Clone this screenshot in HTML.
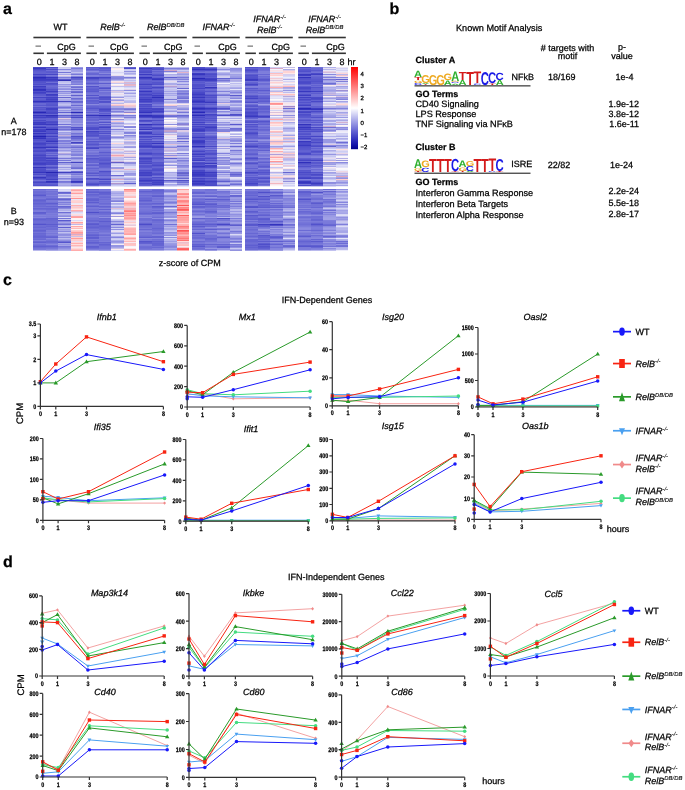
<!DOCTYPE html>
<html><head><meta charset="utf-8"><style>
html,body{margin:0;padding:0;background:#fff;}
body{width:685px;height:790px;overflow:hidden;}
svg{display:block;position:absolute;left:0;top:0;will-change:transform;}
#hm div{position:absolute;}
text{font-family:"Liberation Sans", sans-serif;text-rendering:geometricPrecision;stroke:#000;stroke-width:0.25px;}
</style></head><body>
<svg width="685" height="790" viewBox="0 0 685 790">
<text x="3.0" y="14.0" font-size="16" font-weight="bold">a</text>
<text x="389.5" y="14.0" font-size="16" font-weight="bold">b</text>
<text x="3.0" y="284.5" font-size="16" font-weight="bold">c</text>
<text x="3.0" y="566.8" font-size="16" font-weight="bold">d</text>
<defs><linearGradient id="cb" x1="0" y1="0" x2="0" y2="1"><stop offset="0.000" stop-color="#ff0000"/><stop offset="0.050" stop-color="#ff1a1a"/><stop offset="0.100" stop-color="#ff3333"/><stop offset="0.150" stop-color="#ff4d4d"/><stop offset="0.200" stop-color="#ff6666"/><stop offset="0.250" stop-color="#ff8080"/><stop offset="0.300" stop-color="#ff9999"/><stop offset="0.350" stop-color="#ffb3b3"/><stop offset="0.400" stop-color="#ffcccc"/><stop offset="0.450" stop-color="#ffe6e6"/><stop offset="0.500" stop-color="#ffffff"/><stop offset="0.550" stop-color="#e2e2f8"/><stop offset="0.600" stop-color="#c5c5f1"/><stop offset="0.650" stop-color="#a9a9e9"/><stop offset="0.700" stop-color="#8e8ee1"/><stop offset="0.750" stop-color="#7373d8"/><stop offset="0.800" stop-color="#5959ce"/><stop offset="0.850" stop-color="#4040c4"/><stop offset="0.900" stop-color="#2828b8"/><stop offset="0.950" stop-color="#1212a9"/><stop offset="1.000" stop-color="#00008c"/></linearGradient></defs>
<rect x="351" y="67" width="7" height="82.2" fill="url(#cb)"/>
<text x="360.5" y="75.9" font-size="6">4</text>
<text x="360.5" y="88.1" font-size="6">3</text>
<text x="360.5" y="100.3" font-size="6">2</text>
<text x="360.5" y="112.6" font-size="6">1</text>
<text x="360.5" y="124.8" font-size="6">0</text>
<text x="360.5" y="137.0" font-size="6">−1</text>
<text x="360.5" y="149.2" font-size="6">−2</text>
<text x="60.4" y="29.8" font-size="9" text-anchor="middle">WT</text>
<rect x="33.4" y="36.7" width="47.4" height="1.6" fill="#333"/>
<rect x="33.4" y="52.5" width="10.5" height="1.6" fill="#333"/>
<rect x="46.9" y="52.5" width="34" height="1.6" fill="#333"/>
<rect x="35.5" y="45.6" width="5.5" height="1" fill="#555"/>
<text x="66.4" y="49.5" font-size="9" text-anchor="middle">CpG</text>
<text x="39.3" y="65.3" font-size="9" text-anchor="middle">0</text>
<text x="51.9" y="65.3" font-size="9" text-anchor="middle">1</text>
<text x="64.4" y="65.3" font-size="9" text-anchor="middle">3</text>
<text x="77.0" y="65.3" font-size="9" text-anchor="middle">8</text>
<text x="112.7" y="29.8" font-size="9" font-style="italic" text-anchor="middle">RelB<tspan font-size="5.9" dy="-3.3" style="stroke-width:0.1px">-/-</tspan></text>
<rect x="86.4" y="36.7" width="47.4" height="1.6" fill="#333"/>
<rect x="86.4" y="52.5" width="10.5" height="1.6" fill="#333"/>
<rect x="99.9" y="52.5" width="34" height="1.6" fill="#333"/>
<rect x="88.5" y="45.6" width="5.5" height="1" fill="#555"/>
<text x="119.2" y="49.5" font-size="9" text-anchor="middle">CpG</text>
<text x="92.3" y="65.3" font-size="9" text-anchor="middle">0</text>
<text x="104.9" y="65.3" font-size="9" text-anchor="middle">1</text>
<text x="117.4" y="65.3" font-size="9" text-anchor="middle">3</text>
<text x="130.0" y="65.3" font-size="9" text-anchor="middle">8</text>
<text x="165.7" y="29.8" font-size="9" font-style="italic" text-anchor="middle">RelB<tspan font-size="5.9" dy="-3.3" style="stroke-width:0.1px">DB/DB</tspan></text>
<rect x="139.4" y="36.7" width="47.4" height="1.6" fill="#333"/>
<rect x="139.4" y="52.5" width="10.5" height="1.6" fill="#333"/>
<rect x="152.9" y="52.5" width="34" height="1.6" fill="#333"/>
<rect x="141.5" y="45.6" width="5.5" height="1" fill="#555"/>
<text x="173.2" y="49.5" font-size="9" text-anchor="middle">CpG</text>
<text x="145.3" y="65.3" font-size="9" text-anchor="middle">0</text>
<text x="157.9" y="65.3" font-size="9" text-anchor="middle">1</text>
<text x="170.4" y="65.3" font-size="9" text-anchor="middle">3</text>
<text x="183.0" y="65.3" font-size="9" text-anchor="middle">8</text>
<text x="218.7" y="29.8" font-size="9" font-style="italic" text-anchor="middle">IFNAR<tspan font-size="5.9" dy="-3.3" style="stroke-width:0.1px">-/-</tspan></text>
<rect x="192.4" y="36.7" width="47.4" height="1.6" fill="#333"/>
<rect x="192.4" y="52.5" width="10.5" height="1.6" fill="#333"/>
<rect x="205.9" y="52.5" width="34" height="1.6" fill="#333"/>
<rect x="194.5" y="45.6" width="5.5" height="1" fill="#555"/>
<text x="227.4" y="49.5" font-size="9" text-anchor="middle">CpG</text>
<text x="198.3" y="65.3" font-size="9" text-anchor="middle">0</text>
<text x="210.9" y="65.3" font-size="9" text-anchor="middle">1</text>
<text x="223.4" y="65.3" font-size="9" text-anchor="middle">3</text>
<text x="236.0" y="65.3" font-size="9" text-anchor="middle">8</text>
<text x="269.6" y="21.9" font-size="9" font-style="italic" text-anchor="middle">IFNAR<tspan font-size="5.9" dy="-3.3" style="stroke-width:0.1px">-/-</tspan></text>
<text x="269.6" y="32.5" font-size="9" font-style="italic" text-anchor="middle">RelB<tspan font-size="5.9" dy="-3.3" style="stroke-width:0.1px">-/-</tspan></text>
<rect x="245.4" y="36.7" width="47.4" height="1.6" fill="#333"/>
<rect x="245.4" y="52.5" width="10.5" height="1.6" fill="#333"/>
<rect x="258.9" y="52.5" width="34" height="1.6" fill="#333"/>
<rect x="247.5" y="45.6" width="5.5" height="1" fill="#555"/>
<text x="280.8" y="49.5" font-size="9" text-anchor="middle">CpG</text>
<text x="251.3" y="65.3" font-size="9" text-anchor="middle">0</text>
<text x="263.9" y="65.3" font-size="9" text-anchor="middle">1</text>
<text x="276.4" y="65.3" font-size="9" text-anchor="middle">3</text>
<text x="289.0" y="65.3" font-size="9" text-anchor="middle">8</text>
<text x="324.6" y="21.9" font-size="9" font-style="italic" text-anchor="middle">IFNAR<tspan font-size="5.9" dy="-3.3" style="stroke-width:0.1px">-/-</tspan></text>
<text x="324.6" y="32.5" font-size="9" font-style="italic" text-anchor="middle">RelB<tspan font-size="5.9" dy="-3.3" style="stroke-width:0.1px">DB/DB</tspan></text>
<rect x="298.4" y="36.7" width="47.4" height="1.6" fill="#333"/>
<rect x="298.4" y="52.5" width="10.5" height="1.6" fill="#333"/>
<rect x="311.9" y="52.5" width="34" height="1.6" fill="#333"/>
<rect x="300.5" y="45.6" width="5.5" height="1" fill="#555"/>
<text x="335.4" y="49.5" font-size="9" text-anchor="middle">CpG</text>
<text x="304.3" y="65.3" font-size="9" text-anchor="middle">0</text>
<text x="316.9" y="65.3" font-size="9" text-anchor="middle">1</text>
<text x="329.4" y="65.3" font-size="9" text-anchor="middle">3</text>
<text x="342.0" y="65.3" font-size="9" text-anchor="middle">8</text>
<text x="347.5" y="65.3" font-size="9">hr</text>
<text x="13.8" y="124.3" font-size="9" text-anchor="middle">A</text>
<text x="13.8" y="134.8" font-size="9" text-anchor="middle">n=178</text>
<text x="13.8" y="213.6" font-size="9" text-anchor="middle">B</text>
<text x="13.8" y="224.6" font-size="9" text-anchor="middle">n=93</text>
<text x="158.8" y="265.8" font-size="9">z-score of CPM</text>
<text x="456.0" y="30.8" font-size="9.15">Known Motif Analysis</text>
<text x="567.5" y="50.5" font-size="9" text-anchor="middle"># targets with</text>
<text x="567.5" y="59.0" font-size="9" text-anchor="middle">motif</text>
<text x="622.0" y="50.0" font-size="9" text-anchor="middle">p-</text>
<text x="622.0" y="58.5" font-size="9" text-anchor="middle">value</text>
<text x="415.5" y="63.0" font-size="9" font-weight="bold">Cluster A</text>
<text x="511.5" y="79.5" font-size="9">NFkB</text>
<text x="548.0" y="79.5" font-size="9">18/169</text>
<text x="615.5" y="79.5" font-size="9">1e-4</text>
<rect x="414.5" y="85.2" width="116" height="1.3" fill="#444"/>
<text x="415.5" y="96.6" font-size="9" font-weight="bold">GO Terms</text>
<text x="415.5" y="106.6" font-size="9.15">CD40 Signaling</text>
<text x="415.5" y="117.0" font-size="9.15">LPS Response</text>
<text x="415.5" y="127.3" font-size="9.15">TNF Signaling via NFκB</text>
<text x="639.0" y="106.6" font-size="9" text-anchor="end">1.9e-12</text>
<text x="639.0" y="116.8" font-size="9" text-anchor="end">3.8e-12</text>
<text x="639.0" y="127.0" font-size="9" text-anchor="end">1.6e-11</text>
<text x="415.5" y="150.3" font-size="9" font-weight="bold">Cluster B</text>
<text x="511.3" y="166.8" font-size="9">ISRE</text>
<text x="547.8" y="168.3" font-size="9">22/82</text>
<text x="610.0" y="168.3" font-size="9">1e-24</text>
<rect x="414.5" y="172.6" width="116" height="1.3" fill="#444"/>
<text x="415.5" y="185.0" font-size="9" font-weight="bold">GO Terms</text>
<text x="415.5" y="195.6" font-size="9.15">Interferon Gamma Response</text>
<text x="415.5" y="206.5" font-size="9.15">Interferon Beta Targets</text>
<text x="415.5" y="217.5" font-size="9.15">Interferon Alpha Response</text>
<text x="639.0" y="194.1" font-size="9" text-anchor="end">2.2e-24</text>
<text x="639.0" y="205.8" font-size="9" text-anchor="end">5.5e-18</text>
<text x="639.0" y="216.8" font-size="9" text-anchor="end">2.8e-17</text>
<text transform="translate(413.93,84.67) scale(1.136,0.283)" font-size="10.0" font-weight="bold" fill="#1a1ae6" style="stroke:none">C</text>
<text transform="translate(413.95,82.67) scale(1.100,0.339)" font-size="10.0" font-weight="bold" fill="#eeaa22" style="stroke:none">G</text>
<text transform="translate(414.26,80.30) scale(1.261,0.422)" font-size="10.0" font-weight="bold" fill="#d41a1a" style="stroke:none">T</text>
<text transform="translate(414.12,77.40) scale(1.107,0.916)" font-size="10.0" font-weight="bold" fill="#30b030" style="stroke:none">A</text>
<text transform="translate(421.68,84.70) scale(1.261,0.116)" font-size="10.0" font-weight="bold" fill="#d41a1a" style="stroke:none">T</text>
<text transform="translate(421.54,83.90) scale(1.107,0.131)" font-size="10.0" font-weight="bold" fill="#30b030" style="stroke:none">A</text>
<text transform="translate(421.37,82.90) scale(1.100,1.132)" font-size="10.0" font-weight="bold" fill="#eeaa22" style="stroke:none">G</text>
<text transform="translate(428.78,84.57) scale(1.100,1.443)" font-size="10.0" font-weight="bold" fill="#eeaa22" style="stroke:none">G</text>
<text transform="translate(436.20,84.57) scale(1.100,1.443)" font-size="10.0" font-weight="bold" fill="#eeaa22" style="stroke:none">G</text>
<text transform="translate(443.79,84.70) scale(1.107,0.640)" font-size="10.0" font-weight="bold" fill="#30b030" style="stroke:none">A</text>
<text transform="translate(443.62,80.22) scale(1.100,0.919)" font-size="10.0" font-weight="bold" fill="#eeaa22" style="stroke:none">G</text>
<text transform="translate(451.21,84.70) scale(1.107,0.189)" font-size="10.0" font-weight="bold" fill="#30b030" style="stroke:none">A</text>
<text transform="translate(451.02,83.38) scale(1.136,0.170)" font-size="10.0" font-weight="bold" fill="#1a1ae6" style="stroke:none">C</text>
<text transform="translate(451.03,82.18) scale(1.100,0.170)" font-size="10.0" font-weight="bold" fill="#eeaa22" style="stroke:none">G</text>
<text transform="translate(451.21,81.00) scale(1.107,1.366)" font-size="10.0" font-weight="bold" fill="#30b030" style="stroke:none">A</text>
<text transform="translate(458.62,84.70) scale(1.107,0.741)" font-size="10.0" font-weight="bold" fill="#30b030" style="stroke:none">A</text>
<text transform="translate(458.76,79.60) scale(1.261,1.163)" font-size="10.0" font-weight="bold" fill="#d41a1a" style="stroke:none">T</text>
<text transform="translate(466.18,84.70) scale(1.261,1.904)" font-size="10.0" font-weight="bold" fill="#d41a1a" style="stroke:none">T</text>
<text transform="translate(473.27,84.68) scale(1.136,0.212)" font-size="10.0" font-weight="bold" fill="#1a1ae6" style="stroke:none">C</text>
<text transform="translate(473.59,83.20) scale(1.261,1.686)" font-size="10.0" font-weight="bold" fill="#d41a1a" style="stroke:none">T</text>
<text transform="translate(480.68,84.53) scale(1.136,1.853)" font-size="10.0" font-weight="bold" fill="#1a1ae6" style="stroke:none">C</text>
<text transform="translate(488.43,84.70) scale(1.261,0.233)" font-size="10.0" font-weight="bold" fill="#d41a1a" style="stroke:none">T</text>
<text transform="translate(488.10,82.96) scale(1.136,1.542)" font-size="10.0" font-weight="bold" fill="#1a1ae6" style="stroke:none">C</text>
<text transform="translate(495.71,84.70) scale(1.107,0.741)" font-size="10.0" font-weight="bold" fill="#30b030" style="stroke:none">A</text>
<text transform="translate(495.52,79.51) scale(1.136,1.033)" font-size="10.0" font-weight="bold" fill="#1a1ae6" style="stroke:none">C</text>
<text transform="translate(414.26,171.90) scale(1.261,0.145)" font-size="10.0" font-weight="bold" fill="#d41a1a" style="stroke:none">T</text>
<text transform="translate(413.95,170.86) scale(1.100,0.410)" font-size="10.0" font-weight="bold" fill="#eeaa22" style="stroke:none">G</text>
<text transform="translate(414.12,168.00) scale(1.107,1.265)" font-size="10.0" font-weight="bold" fill="#30b030" style="stroke:none">A</text>
<text transform="translate(421.35,171.84) scale(1.136,0.622)" font-size="10.0" font-weight="bold" fill="#1a1ae6" style="stroke:none">C</text>
<text transform="translate(421.37,167.42) scale(1.100,0.934)" font-size="10.0" font-weight="bold" fill="#eeaa22" style="stroke:none">G</text>
<text transform="translate(429.09,171.90) scale(1.261,1.904)" font-size="10.0" font-weight="bold" fill="#d41a1a" style="stroke:none">T</text>
<text transform="translate(436.51,171.90) scale(1.261,1.904)" font-size="10.0" font-weight="bold" fill="#d41a1a" style="stroke:none">T</text>
<text transform="translate(443.93,171.90) scale(1.261,1.904)" font-size="10.0" font-weight="bold" fill="#d41a1a" style="stroke:none">T</text>
<text transform="translate(451.34,171.90) scale(1.261,0.102)" font-size="10.0" font-weight="bold" fill="#d41a1a" style="stroke:none">T</text>
<text transform="translate(451.02,171.04) scale(1.136,1.754)" font-size="10.0" font-weight="bold" fill="#1a1ae6" style="stroke:none">C</text>
<text transform="translate(458.76,171.90) scale(1.261,0.174)" font-size="10.0" font-weight="bold" fill="#d41a1a" style="stroke:none">T</text>
<text transform="translate(458.45,170.65) scale(1.100,0.509)" font-size="10.0" font-weight="bold" fill="#eeaa22" style="stroke:none">G</text>
<text transform="translate(458.62,167.10) scale(1.107,0.959)" font-size="10.0" font-weight="bold" fill="#30b030" style="stroke:none">A</text>
<text transform="translate(466.04,171.90) scale(1.107,0.174)" font-size="10.0" font-weight="bold" fill="#30b030" style="stroke:none">A</text>
<text transform="translate(465.85,170.64) scale(1.136,0.721)" font-size="10.0" font-weight="bold" fill="#1a1ae6" style="stroke:none">C</text>
<text transform="translate(465.87,165.54) scale(1.100,0.721)" font-size="10.0" font-weight="bold" fill="#eeaa22" style="stroke:none">G</text>
<text transform="translate(473.59,171.90) scale(1.261,1.904)" font-size="10.0" font-weight="bold" fill="#d41a1a" style="stroke:none">T</text>
<text transform="translate(481.01,171.90) scale(1.261,1.904)" font-size="10.0" font-weight="bold" fill="#d41a1a" style="stroke:none">T</text>
<text transform="translate(488.10,171.89) scale(1.136,0.113)" font-size="10.0" font-weight="bold" fill="#1a1ae6" style="stroke:none">C</text>
<text transform="translate(488.43,171.10) scale(1.261,1.802)" font-size="10.0" font-weight="bold" fill="#d41a1a" style="stroke:none">T</text>
<text transform="translate(495.84,171.90) scale(1.261,0.145)" font-size="10.0" font-weight="bold" fill="#d41a1a" style="stroke:none">T</text>
<text transform="translate(495.52,170.74) scale(1.136,1.726)" font-size="10.0" font-weight="bold" fill="#1a1ae6" style="stroke:none">C</text>
<text x="281.7" y="303.4" font-size="9">IFN-Dependent Genes</text>
<polyline points="40.4,382.9 55.8,382.9 86.5,361.7 163.4,351.5" fill="none" stroke="#2a9a2a" stroke-width="1.0"/>
<path d="M40.4 380.6L42.6 384.4H38.2Z" fill="#2a9a2a"/>
<path d="M55.8 380.6L58.0 384.4H53.6Z" fill="#2a9a2a"/>
<path d="M86.5 359.4L88.7 363.2H84.3Z" fill="#2a9a2a"/>
<path d="M163.4 349.2L165.6 353.0H161.2Z" fill="#2a9a2a"/>
<polyline points="40.4,381.7 55.8,364.0 86.5,336.9 163.4,361.7" fill="none" stroke="#f82412" stroke-width="1.0"/>
<rect x="38.7" y="380.0" width="3.4" height="3.4" fill="#f82412"/>
<rect x="54.1" y="362.3" width="3.4" height="3.4" fill="#f82412"/>
<rect x="84.8" y="335.2" width="3.4" height="3.4" fill="#f82412"/>
<rect x="161.7" y="360.0" width="3.4" height="3.4" fill="#f82412"/>
<polyline points="40.4,382.9 55.8,371.1 86.5,354.6 163.4,369.4" fill="none" stroke="#1818fa" stroke-width="1.0"/>
<circle cx="40.4" cy="382.9" r="1.75" fill="#1818fa"/>
<circle cx="55.8" cy="371.1" r="1.75" fill="#1818fa"/>
<circle cx="86.5" cy="354.6" r="1.75" fill="#1818fa"/>
<circle cx="163.4" cy="369.4" r="1.75" fill="#1818fa"/>
<path d="M40.4 324.0V406.4H163.4" fill="none" stroke="#333" stroke-width="1.2"/>
<text transform="translate(36.2,408.8) scale(0.82,1)" font-size="6.6" font-weight="bold" text-anchor="end">0</text>
<text transform="translate(36.2,385.3) scale(0.82,1)" font-size="6.6" font-weight="bold" text-anchor="end">1</text>
<text transform="translate(36.2,361.7) scale(0.82,1)" font-size="6.6" font-weight="bold" text-anchor="end">2</text>
<text transform="translate(36.2,338.2) scale(0.82,1)" font-size="6.6" font-weight="bold" text-anchor="end">3</text>
<text transform="translate(36.2,326.4) scale(0.82,1)" font-size="6.6" font-weight="bold" text-anchor="end">3.5</text>
<text transform="translate(40.4,415.9) scale(0.82,1)" font-size="6.6" font-weight="bold" text-anchor="middle">0</text>
<text transform="translate(55.8,415.9) scale(0.82,1)" font-size="6.6" font-weight="bold" text-anchor="middle">1</text>
<text transform="translate(86.5,415.9) scale(0.82,1)" font-size="6.6" font-weight="bold" text-anchor="middle">3</text>
<text transform="translate(163.4,415.9) scale(0.82,1)" font-size="6.6" font-weight="bold" text-anchor="middle">8</text>
<path d="M37.4 406.4H40.4M37.4 382.9H40.4M37.4 359.3H40.4M37.4 335.8H40.4M37.4 324.0H40.4M40.4 406.4V409.4M55.8 406.4V409.4M86.5 406.4V409.4M163.4 406.4V409.4" stroke="#333" stroke-width="1.2"/>
<text x="106.7" y="320.0" font-size="9" font-style="italic" text-anchor="middle">Ifnb1</text>
<polyline points="187.2,394.8 202.6,393.7 233.3,398.8 310.1,397.8" fill="none" stroke="#f08a8a" stroke-width="0.8"/>
<path d="M187.2 393.1L188.6 394.8L187.2 396.5L185.8 394.8Z" fill="#f08a8a"/>
<path d="M202.6 392.0L203.9 393.7L202.6 395.4L201.2 393.7Z" fill="#f08a8a"/>
<path d="M233.3 397.1L234.6 398.8L233.3 400.5L231.9 398.8Z" fill="#f08a8a"/>
<path d="M310.1 396.1L311.5 397.8L310.1 399.5L308.7 397.8Z" fill="#f08a8a"/>
<polyline points="187.2,393.7 202.6,395.8 233.3,396.8 310.1,397.8" fill="none" stroke="#4aa0f0" stroke-width="1.0"/>
<path d="M187.2 395.7L189.1 392.5H185.3Z" fill="#4aa0f0"/>
<path d="M202.6 397.7L204.4 394.5H200.7Z" fill="#4aa0f0"/>
<path d="M233.3 398.8L235.2 395.5H231.4Z" fill="#4aa0f0"/>
<path d="M310.1 399.8L312.0 396.5H308.2Z" fill="#4aa0f0"/>
<polyline points="187.2,389.7 202.6,393.7 233.3,394.8 310.1,391.2" fill="none" stroke="#44dc80" stroke-width="1.0"/>
<circle cx="187.2" cy="389.7" r="1.75" fill="#44dc80"/>
<circle cx="202.6" cy="393.7" r="1.75" fill="#44dc80"/>
<circle cx="233.3" cy="394.8" r="1.75" fill="#44dc80"/>
<circle cx="310.1" cy="391.2" r="1.75" fill="#44dc80"/>
<polyline points="187.2,390.7 202.6,394.8 233.3,372.3 310.1,332.0" fill="none" stroke="#2a9a2a" stroke-width="1.0"/>
<path d="M187.2 388.4L189.4 392.2H185.0Z" fill="#2a9a2a"/>
<path d="M202.6 392.5L204.8 396.3H200.4Z" fill="#2a9a2a"/>
<path d="M233.3 370.0L235.5 373.8H231.1Z" fill="#2a9a2a"/>
<path d="M310.1 329.7L312.3 333.5H307.9Z" fill="#2a9a2a"/>
<polyline points="187.2,392.2 202.6,392.7 233.3,374.4 310.1,362.1" fill="none" stroke="#f82412" stroke-width="1.0"/>
<rect x="185.5" y="390.5" width="3.4" height="3.4" fill="#f82412"/>
<rect x="200.9" y="391.0" width="3.4" height="3.4" fill="#f82412"/>
<rect x="231.6" y="372.7" width="3.4" height="3.4" fill="#f82412"/>
<rect x="308.4" y="360.4" width="3.4" height="3.4" fill="#f82412"/>
<polyline points="187.2,396.8 202.6,397.3 233.3,389.7 310.1,369.8" fill="none" stroke="#1818fa" stroke-width="1.0"/>
<circle cx="187.2" cy="396.8" r="1.75" fill="#1818fa"/>
<circle cx="202.6" cy="397.3" r="1.75" fill="#1818fa"/>
<circle cx="233.3" cy="389.7" r="1.75" fill="#1818fa"/>
<circle cx="310.1" cy="369.8" r="1.75" fill="#1818fa"/>
<circle cx="187.2" cy="398.8" r="1.75" fill="#1818fa"/>
<path d="M187.2 325.4V407.0H310.1" fill="none" stroke="#333" stroke-width="1.2"/>
<text transform="translate(183.0,409.4) scale(0.82,1)" font-size="6.6" font-weight="bold" text-anchor="end">0</text>
<text transform="translate(183.0,389.0) scale(0.82,1)" font-size="6.6" font-weight="bold" text-anchor="end">200</text>
<text transform="translate(183.0,368.6) scale(0.82,1)" font-size="6.6" font-weight="bold" text-anchor="end">400</text>
<text transform="translate(183.0,348.2) scale(0.82,1)" font-size="6.6" font-weight="bold" text-anchor="end">600</text>
<text transform="translate(183.0,327.8) scale(0.82,1)" font-size="6.6" font-weight="bold" text-anchor="end">800</text>
<text transform="translate(187.2,416.5) scale(0.82,1)" font-size="6.6" font-weight="bold" text-anchor="middle">0</text>
<text transform="translate(202.6,416.5) scale(0.82,1)" font-size="6.6" font-weight="bold" text-anchor="middle">1</text>
<text transform="translate(233.3,416.5) scale(0.82,1)" font-size="6.6" font-weight="bold" text-anchor="middle">3</text>
<text transform="translate(310.1,416.5) scale(0.82,1)" font-size="6.6" font-weight="bold" text-anchor="middle">8</text>
<path d="M184.2 407.0H187.2M184.2 386.6H187.2M184.2 366.2H187.2M184.2 345.8H187.2M184.2 325.4H187.2M187.2 407.0V410.0M202.6 407.0V410.0M233.3 407.0V410.0M310.1 407.0V410.0" stroke="#333" stroke-width="1.2"/>
<text x="247.3" y="319.9" font-size="9" font-style="italic" text-anchor="middle">Mx1</text>
<polyline points="332.3,400.9 348.1,400.2 379.6,403.7 458.4,403.7" fill="none" stroke="#f08a8a" stroke-width="0.8"/>
<path d="M332.3 399.2L333.7 400.9L332.3 402.6L330.9 400.9Z" fill="#f08a8a"/>
<path d="M348.1 398.5L349.4 400.2L348.1 401.9L346.7 400.2Z" fill="#f08a8a"/>
<path d="M379.6 402.0L380.9 403.7L379.6 405.4L378.2 403.7Z" fill="#f08a8a"/>
<path d="M458.4 402.0L459.8 403.7L458.4 405.4L457.0 403.7Z" fill="#f08a8a"/>
<polyline points="332.3,394.6 348.1,394.6 379.6,396.0 458.4,397.4" fill="none" stroke="#4aa0f0" stroke-width="1.0"/>
<path d="M332.3 396.5L334.2 393.3H330.4Z" fill="#4aa0f0"/>
<path d="M348.1 396.5L349.9 393.3H346.2Z" fill="#4aa0f0"/>
<path d="M379.6 397.9L381.5 394.7H377.7Z" fill="#4aa0f0"/>
<path d="M458.4 399.3L460.3 396.1H456.5Z" fill="#4aa0f0"/>
<polyline points="332.3,397.4 348.1,397.4 379.6,397.4 458.4,396.0" fill="none" stroke="#44dc80" stroke-width="1.0"/>
<circle cx="332.3" cy="397.4" r="1.75" fill="#44dc80"/>
<circle cx="348.1" cy="397.4" r="1.75" fill="#44dc80"/>
<circle cx="379.6" cy="397.4" r="1.75" fill="#44dc80"/>
<circle cx="458.4" cy="396.0" r="1.75" fill="#44dc80"/>
<polyline points="332.3,400.2 348.1,401.6 379.6,397.4 458.4,335.7" fill="none" stroke="#2a9a2a" stroke-width="1.0"/>
<path d="M332.3 397.9L334.5 401.7H330.1Z" fill="#2a9a2a"/>
<path d="M348.1 399.3L350.3 403.1H345.9Z" fill="#2a9a2a"/>
<path d="M379.6 395.1L381.8 398.9H377.4Z" fill="#2a9a2a"/>
<path d="M458.4 333.4L460.6 337.2H456.2Z" fill="#2a9a2a"/>
<polyline points="332.3,396.0 348.1,396.0 379.6,389.0 458.4,369.4" fill="none" stroke="#f82412" stroke-width="1.0"/>
<rect x="330.6" y="394.3" width="3.4" height="3.4" fill="#f82412"/>
<rect x="346.4" y="394.3" width="3.4" height="3.4" fill="#f82412"/>
<rect x="377.9" y="387.3" width="3.4" height="3.4" fill="#f82412"/>
<rect x="456.7" y="367.7" width="3.4" height="3.4" fill="#f82412"/>
<polyline points="332.3,398.8 348.1,397.4 379.6,396.7 458.4,377.8" fill="none" stroke="#1818fa" stroke-width="1.0"/>
<circle cx="332.3" cy="398.8" r="1.75" fill="#1818fa"/>
<circle cx="348.1" cy="397.4" r="1.75" fill="#1818fa"/>
<circle cx="379.6" cy="396.7" r="1.75" fill="#1818fa"/>
<circle cx="458.4" cy="377.8" r="1.75" fill="#1818fa"/>
<path d="M332.3 321.7V405.8H458.4" fill="none" stroke="#333" stroke-width="1.2"/>
<text transform="translate(328.1,408.2) scale(0.82,1)" font-size="6.6" font-weight="bold" text-anchor="end">0</text>
<text transform="translate(328.1,380.2) scale(0.82,1)" font-size="6.6" font-weight="bold" text-anchor="end">20</text>
<text transform="translate(328.1,352.1) scale(0.82,1)" font-size="6.6" font-weight="bold" text-anchor="end">40</text>
<text transform="translate(328.1,324.1) scale(0.82,1)" font-size="6.6" font-weight="bold" text-anchor="end">60</text>
<text transform="translate(332.3,415.3) scale(0.82,1)" font-size="6.6" font-weight="bold" text-anchor="middle">0</text>
<text transform="translate(348.1,415.3) scale(0.82,1)" font-size="6.6" font-weight="bold" text-anchor="middle">1</text>
<text transform="translate(379.6,415.3) scale(0.82,1)" font-size="6.6" font-weight="bold" text-anchor="middle">3</text>
<text transform="translate(458.4,415.3) scale(0.82,1)" font-size="6.6" font-weight="bold" text-anchor="middle">8</text>
<path d="M329.3 405.8H332.3M329.3 377.8H332.3M329.3 349.7H332.3M329.3 321.7H332.3M332.3 405.8V408.8M348.1 405.8V408.8M379.6 405.8V408.8M458.4 405.8V408.8" stroke="#333" stroke-width="1.2"/>
<text x="393.0" y="319.7" font-size="9" font-style="italic" text-anchor="middle">Isg20</text>
<polyline points="478.0,406.5 493.0,406.5 522.9,406.5 597.7,406.5" fill="none" stroke="#f08a8a" stroke-width="0.8"/>
<path d="M478.0 404.8L479.4 406.5L478.0 408.2L476.6 406.5Z" fill="#f08a8a"/>
<path d="M493.0 404.8L494.3 406.5L493.0 408.2L491.6 406.5Z" fill="#f08a8a"/>
<path d="M522.9 404.8L524.2 406.5L522.9 408.2L521.5 406.5Z" fill="#f08a8a"/>
<path d="M597.7 404.8L599.1 406.5L597.7 408.2L596.3 406.5Z" fill="#f08a8a"/>
<polyline points="478.0,405.4 493.0,405.4 522.9,405.4 597.7,405.4" fill="none" stroke="#4aa0f0" stroke-width="1.0"/>
<path d="M478.0 407.4L479.9 404.1H476.1Z" fill="#4aa0f0"/>
<path d="M493.0 407.4L494.8 404.1H491.1Z" fill="#4aa0f0"/>
<path d="M522.9 407.4L524.8 404.1H521.0Z" fill="#4aa0f0"/>
<path d="M597.7 407.4L599.6 404.1H595.8Z" fill="#4aa0f0"/>
<polyline points="478.0,405.9 493.0,405.9 522.9,405.9 597.7,405.9" fill="none" stroke="#44dc80" stroke-width="1.0"/>
<circle cx="478.0" cy="405.9" r="1.75" fill="#44dc80"/>
<circle cx="493.0" cy="405.9" r="1.75" fill="#44dc80"/>
<circle cx="522.9" cy="405.9" r="1.75" fill="#44dc80"/>
<circle cx="597.7" cy="405.9" r="1.75" fill="#44dc80"/>
<polyline points="478.0,405.4 493.0,405.4 522.9,401.7 597.7,354.0" fill="none" stroke="#2a9a2a" stroke-width="1.0"/>
<path d="M478.0 403.1L480.2 406.9H475.8Z" fill="#2a9a2a"/>
<path d="M493.0 403.1L495.2 406.9H490.8Z" fill="#2a9a2a"/>
<path d="M522.9 399.4L525.1 403.2H520.7Z" fill="#2a9a2a"/>
<path d="M597.7 351.7L599.9 355.5H595.5Z" fill="#2a9a2a"/>
<polyline points="478.0,396.9 493.0,403.8 522.9,399.1 597.7,376.8" fill="none" stroke="#f82412" stroke-width="1.0"/>
<rect x="476.3" y="395.2" width="3.4" height="3.4" fill="#f82412"/>
<rect x="491.3" y="402.1" width="3.4" height="3.4" fill="#f82412"/>
<rect x="521.2" y="397.4" width="3.4" height="3.4" fill="#f82412"/>
<rect x="596.0" y="375.1" width="3.4" height="3.4" fill="#f82412"/>
<polyline points="478.0,400.1 493.0,404.9 522.9,402.2 597.7,381.0" fill="none" stroke="#1818fa" stroke-width="1.0"/>
<circle cx="478.0" cy="400.1" r="1.75" fill="#1818fa"/>
<circle cx="493.0" cy="404.9" r="1.75" fill="#1818fa"/>
<circle cx="522.9" cy="402.2" r="1.75" fill="#1818fa"/>
<circle cx="597.7" cy="381.0" r="1.75" fill="#1818fa"/>
<circle cx="478.0" cy="404.4" r="1.75" fill="#1818fa"/>
<path d="M478.0 327.5V407.0H597.7" fill="none" stroke="#333" stroke-width="1.2"/>
<text transform="translate(473.8,409.4) scale(0.82,1)" font-size="6.6" font-weight="bold" text-anchor="end">0</text>
<text transform="translate(473.8,382.9) scale(0.82,1)" font-size="6.6" font-weight="bold" text-anchor="end">500</text>
<text transform="translate(473.8,356.4) scale(0.82,1)" font-size="6.6" font-weight="bold" text-anchor="end">1000</text>
<text transform="translate(473.8,329.9) scale(0.82,1)" font-size="6.6" font-weight="bold" text-anchor="end">1500</text>
<text transform="translate(478.0,416.5) scale(0.82,1)" font-size="6.6" font-weight="bold" text-anchor="middle">0</text>
<text transform="translate(493.0,416.5) scale(0.82,1)" font-size="6.6" font-weight="bold" text-anchor="middle">1</text>
<text transform="translate(522.9,416.5) scale(0.82,1)" font-size="6.6" font-weight="bold" text-anchor="middle">3</text>
<text transform="translate(597.7,416.5) scale(0.82,1)" font-size="6.6" font-weight="bold" text-anchor="middle">8</text>
<path d="M475.0 407.0H478.0M475.0 380.5H478.0M475.0 354.0H478.0M475.0 327.5H478.0M478.0 407.0V410.0M493.0 407.0V410.0M522.9 407.0V410.0M597.7 407.0V410.0" stroke="#333" stroke-width="1.2"/>
<text x="535.3" y="319.8" font-size="9" font-style="italic" text-anchor="middle">Oasl2</text>
<polyline points="42.9,499.0 58.1,499.8 88.5,503.1 164.6,503.1" fill="none" stroke="#f08a8a" stroke-width="0.8"/>
<path d="M42.9 497.3L44.3 499.0L42.9 500.7L41.5 499.0Z" fill="#f08a8a"/>
<path d="M58.1 498.1L59.5 499.8L58.1 501.5L56.8 499.8Z" fill="#f08a8a"/>
<path d="M88.5 501.4L89.9 503.1L88.5 504.8L87.2 503.1Z" fill="#f08a8a"/>
<path d="M164.6 501.4L166.0 503.1L164.6 504.8L163.2 503.1Z" fill="#f08a8a"/>
<polyline points="42.9,496.2 58.1,497.4 88.5,500.7 164.6,497.8" fill="none" stroke="#4aa0f0" stroke-width="1.0"/>
<path d="M42.9 498.1L44.8 494.9H41.0Z" fill="#4aa0f0"/>
<path d="M58.1 499.4L60.0 496.1H56.2Z" fill="#4aa0f0"/>
<path d="M88.5 502.6L90.4 499.4H86.7Z" fill="#4aa0f0"/>
<path d="M164.6 499.8L166.5 496.5H162.7Z" fill="#4aa0f0"/>
<polyline points="42.9,497.8 58.1,499.8 88.5,501.9 164.6,498.6" fill="none" stroke="#44dc80" stroke-width="1.0"/>
<circle cx="42.9" cy="497.8" r="1.75" fill="#44dc80"/>
<circle cx="58.1" cy="499.8" r="1.75" fill="#44dc80"/>
<circle cx="88.5" cy="501.9" r="1.75" fill="#44dc80"/>
<circle cx="164.6" cy="498.6" r="1.75" fill="#44dc80"/>
<polyline points="42.9,497.8 58.1,503.9 88.5,493.7 164.6,463.9" fill="none" stroke="#2a9a2a" stroke-width="1.0"/>
<path d="M42.9 495.5L45.1 499.3H40.7Z" fill="#2a9a2a"/>
<path d="M58.1 501.6L60.3 505.4H55.9Z" fill="#2a9a2a"/>
<path d="M88.5 491.4L90.7 495.2H86.3Z" fill="#2a9a2a"/>
<path d="M164.6 461.6L166.8 465.4H162.4Z" fill="#2a9a2a"/>
<polyline points="42.9,491.7 58.1,499.0 88.5,491.7 164.6,452.0" fill="none" stroke="#f82412" stroke-width="1.0"/>
<rect x="41.2" y="490.0" width="3.4" height="3.4" fill="#f82412"/>
<rect x="56.4" y="497.3" width="3.4" height="3.4" fill="#f82412"/>
<rect x="86.8" y="490.0" width="3.4" height="3.4" fill="#f82412"/>
<rect x="162.9" y="450.3" width="3.4" height="3.4" fill="#f82412"/>
<rect x="41.2" y="496.9" width="3.4" height="3.4" fill="#f82412"/>
<polyline points="42.9,502.3 58.1,500.7 88.5,500.7 164.6,474.9" fill="none" stroke="#1818fa" stroke-width="1.0"/>
<circle cx="42.9" cy="502.3" r="1.75" fill="#1818fa"/>
<circle cx="58.1" cy="500.7" r="1.75" fill="#1818fa"/>
<circle cx="88.5" cy="500.7" r="1.75" fill="#1818fa"/>
<circle cx="164.6" cy="474.9" r="1.75" fill="#1818fa"/>
<path d="M42.9 438.5V520.3H164.6" fill="none" stroke="#333" stroke-width="1.2"/>
<text transform="translate(38.7,522.7) scale(0.82,1)" font-size="6.6" font-weight="bold" text-anchor="end">0</text>
<text transform="translate(38.7,502.2) scale(0.82,1)" font-size="6.6" font-weight="bold" text-anchor="end">50</text>
<text transform="translate(38.7,481.8) scale(0.82,1)" font-size="6.6" font-weight="bold" text-anchor="end">100</text>
<text transform="translate(38.7,461.3) scale(0.82,1)" font-size="6.6" font-weight="bold" text-anchor="end">150</text>
<text transform="translate(38.7,440.9) scale(0.82,1)" font-size="6.6" font-weight="bold" text-anchor="end">200</text>
<text transform="translate(42.9,529.8) scale(0.82,1)" font-size="6.6" font-weight="bold" text-anchor="middle">0</text>
<text transform="translate(58.1,529.8) scale(0.82,1)" font-size="6.6" font-weight="bold" text-anchor="middle">1</text>
<text transform="translate(88.5,529.8) scale(0.82,1)" font-size="6.6" font-weight="bold" text-anchor="middle">3</text>
<text transform="translate(164.6,529.8) scale(0.82,1)" font-size="6.6" font-weight="bold" text-anchor="middle">8</text>
<path d="M39.9 520.3H42.9M39.9 499.8H42.9M39.9 479.4H42.9M39.9 458.9H42.9M39.9 438.5H42.9M42.9 520.3V523.3M58.1 520.3V523.3M88.5 520.3V523.3M164.6 520.3V523.3" stroke="#333" stroke-width="1.2"/>
<text x="102.3" y="429.9" font-size="9" font-style="italic" text-anchor="middle">Ifi35</text>
<polyline points="185.8,521.2 201.1,521.2 231.7,521.2 308.3,521.2" fill="none" stroke="#f08a8a" stroke-width="0.8"/>
<path d="M185.8 519.5L187.2 521.2L185.8 522.9L184.4 521.2Z" fill="#f08a8a"/>
<path d="M201.1 519.5L202.5 521.2L201.1 522.9L199.8 521.2Z" fill="#f08a8a"/>
<path d="M231.7 519.5L233.1 521.2L231.7 522.9L230.4 521.2Z" fill="#f08a8a"/>
<path d="M308.3 519.5L309.7 521.2L308.3 522.9L306.9 521.2Z" fill="#f08a8a"/>
<polyline points="185.8,520.2 201.1,520.2 231.7,520.2 308.3,520.2" fill="none" stroke="#4aa0f0" stroke-width="1.0"/>
<path d="M185.8 522.1L187.7 518.9H183.9Z" fill="#4aa0f0"/>
<path d="M201.1 522.1L203.0 518.9H199.2Z" fill="#4aa0f0"/>
<path d="M231.7 522.1L233.6 518.9H229.9Z" fill="#4aa0f0"/>
<path d="M308.3 522.1L310.2 518.9H306.4Z" fill="#4aa0f0"/>
<polyline points="185.8,520.7 201.1,520.7 231.7,520.7 308.3,520.7" fill="none" stroke="#44dc80" stroke-width="1.0"/>
<circle cx="185.8" cy="520.7" r="1.75" fill="#44dc80"/>
<circle cx="201.1" cy="520.7" r="1.75" fill="#44dc80"/>
<circle cx="231.7" cy="520.7" r="1.75" fill="#44dc80"/>
<circle cx="308.3" cy="520.7" r="1.75" fill="#44dc80"/>
<polyline points="185.8,518.1 201.1,520.2 231.7,507.9 308.3,445.6" fill="none" stroke="#2a9a2a" stroke-width="1.0"/>
<path d="M185.8 515.8L188.0 519.6H183.6Z" fill="#2a9a2a"/>
<path d="M201.1 517.9L203.3 521.7H198.9Z" fill="#2a9a2a"/>
<path d="M231.7 505.6L233.9 509.4H229.5Z" fill="#2a9a2a"/>
<path d="M308.3 443.3L310.5 447.1H306.1Z" fill="#2a9a2a"/>
<polyline points="185.8,517.1 201.1,519.2 231.7,503.3 308.3,489.5" fill="none" stroke="#f82412" stroke-width="1.0"/>
<rect x="184.1" y="515.4" width="3.4" height="3.4" fill="#f82412"/>
<rect x="199.4" y="517.5" width="3.4" height="3.4" fill="#f82412"/>
<rect x="230.0" y="501.6" width="3.4" height="3.4" fill="#f82412"/>
<rect x="306.6" y="487.8" width="3.4" height="3.4" fill="#f82412"/>
<polyline points="185.8,519.2 201.1,520.2 231.7,511.0 308.3,485.5" fill="none" stroke="#1818fa" stroke-width="1.0"/>
<circle cx="185.8" cy="519.2" r="1.75" fill="#1818fa"/>
<circle cx="201.1" cy="520.2" r="1.75" fill="#1818fa"/>
<circle cx="231.7" cy="511.0" r="1.75" fill="#1818fa"/>
<circle cx="308.3" cy="485.5" r="1.75" fill="#1818fa"/>
<path d="M185.8 439.5V521.2H308.3" fill="none" stroke="#333" stroke-width="1.2"/>
<text transform="translate(181.6,523.6) scale(0.82,1)" font-size="6.6" font-weight="bold" text-anchor="end">0</text>
<text transform="translate(181.6,503.2) scale(0.82,1)" font-size="6.6" font-weight="bold" text-anchor="end">200</text>
<text transform="translate(181.6,482.8) scale(0.82,1)" font-size="6.6" font-weight="bold" text-anchor="end">400</text>
<text transform="translate(181.6,462.3) scale(0.82,1)" font-size="6.6" font-weight="bold" text-anchor="end">600</text>
<text transform="translate(181.6,441.9) scale(0.82,1)" font-size="6.6" font-weight="bold" text-anchor="end">800</text>
<text transform="translate(185.8,530.7) scale(0.82,1)" font-size="6.6" font-weight="bold" text-anchor="middle">0</text>
<text transform="translate(201.1,530.7) scale(0.82,1)" font-size="6.6" font-weight="bold" text-anchor="middle">1</text>
<text transform="translate(231.7,530.7) scale(0.82,1)" font-size="6.6" font-weight="bold" text-anchor="middle">3</text>
<text transform="translate(308.3,530.7) scale(0.82,1)" font-size="6.6" font-weight="bold" text-anchor="middle">8</text>
<path d="M182.8 521.2H185.8M182.8 500.8H185.8M182.8 480.4H185.8M182.8 459.9H185.8M182.8 439.5H185.8M185.8 521.2V524.2M201.1 521.2V524.2M231.7 521.2V524.2M308.3 521.2V524.2" stroke="#333" stroke-width="1.2"/>
<text x="251.0" y="431.7" font-size="9" font-style="italic" text-anchor="middle">Ifit1</text>
<polyline points="332.4,520.0 347.7,520.0 378.4,520.0 455.0,520.0" fill="none" stroke="#f08a8a" stroke-width="0.8"/>
<path d="M332.4 518.3L333.8 520.0L332.4 521.7L331.0 520.0Z" fill="#f08a8a"/>
<path d="M347.7 518.3L349.1 520.0L347.7 521.7L346.4 520.0Z" fill="#f08a8a"/>
<path d="M378.4 518.3L379.7 520.0L378.4 521.7L377.0 520.0Z" fill="#f08a8a"/>
<path d="M455.0 518.3L456.4 520.0L455.0 521.7L453.6 520.0Z" fill="#f08a8a"/>
<polyline points="332.4,517.5 347.7,518.4 378.4,515.9 455.0,517.2" fill="none" stroke="#4aa0f0" stroke-width="1.0"/>
<path d="M332.4 519.5L334.3 516.3H330.5Z" fill="#4aa0f0"/>
<path d="M347.7 520.3L349.6 517.1H345.9Z" fill="#4aa0f0"/>
<path d="M378.4 517.9L380.2 514.6H376.5Z" fill="#4aa0f0"/>
<path d="M455.0 519.2L456.9 515.9H453.1Z" fill="#4aa0f0"/>
<polyline points="332.4,519.2 347.7,519.2 378.4,518.4 455.0,517.9" fill="none" stroke="#44dc80" stroke-width="1.0"/>
<circle cx="332.4" cy="519.2" r="1.75" fill="#44dc80"/>
<circle cx="347.7" cy="519.2" r="1.75" fill="#44dc80"/>
<circle cx="378.4" cy="518.4" r="1.75" fill="#44dc80"/>
<circle cx="455.0" cy="517.9" r="1.75" fill="#44dc80"/>
<polyline points="332.4,519.2 347.7,519.2 378.4,508.6 455.0,455.8" fill="none" stroke="#2a9a2a" stroke-width="1.0"/>
<path d="M332.4 516.9L334.6 520.7H330.2Z" fill="#2a9a2a"/>
<path d="M347.7 516.9L349.9 520.7H345.5Z" fill="#2a9a2a"/>
<path d="M378.4 506.3L380.6 510.1H376.2Z" fill="#2a9a2a"/>
<path d="M455.0 453.5L457.2 457.3H452.8Z" fill="#2a9a2a"/>
<polyline points="332.4,514.3 347.7,517.5 378.4,501.3 455.0,455.8" fill="none" stroke="#f82412" stroke-width="1.0"/>
<rect x="330.7" y="512.6" width="3.4" height="3.4" fill="#f82412"/>
<rect x="346.0" y="515.8" width="3.4" height="3.4" fill="#f82412"/>
<rect x="376.7" y="499.6" width="3.4" height="3.4" fill="#f82412"/>
<rect x="453.3" y="454.1" width="3.4" height="3.4" fill="#f82412"/>
<polyline points="332.4,517.5 347.7,517.5 378.4,508.6 455.0,463.9" fill="none" stroke="#1818fa" stroke-width="1.0"/>
<circle cx="332.4" cy="517.5" r="1.75" fill="#1818fa"/>
<circle cx="347.7" cy="517.5" r="1.75" fill="#1818fa"/>
<circle cx="378.4" cy="508.6" r="1.75" fill="#1818fa"/>
<circle cx="455.0" cy="463.9" r="1.75" fill="#1818fa"/>
<path d="M332.4 439.5V520.8H455.0" fill="none" stroke="#333" stroke-width="1.2"/>
<text transform="translate(328.2,523.2) scale(0.82,1)" font-size="6.6" font-weight="bold" text-anchor="end">0</text>
<text transform="translate(328.2,506.9) scale(0.82,1)" font-size="6.6" font-weight="bold" text-anchor="end">100</text>
<text transform="translate(328.2,490.7) scale(0.82,1)" font-size="6.6" font-weight="bold" text-anchor="end">200</text>
<text transform="translate(328.2,474.4) scale(0.82,1)" font-size="6.6" font-weight="bold" text-anchor="end">300</text>
<text transform="translate(328.2,458.2) scale(0.82,1)" font-size="6.6" font-weight="bold" text-anchor="end">400</text>
<text transform="translate(328.2,441.9) scale(0.82,1)" font-size="6.6" font-weight="bold" text-anchor="end">500</text>
<text transform="translate(332.4,530.3) scale(0.82,1)" font-size="6.6" font-weight="bold" text-anchor="middle">0</text>
<text transform="translate(347.7,530.3) scale(0.82,1)" font-size="6.6" font-weight="bold" text-anchor="middle">1</text>
<text transform="translate(378.4,530.3) scale(0.82,1)" font-size="6.6" font-weight="bold" text-anchor="middle">3</text>
<text transform="translate(455.0,530.3) scale(0.82,1)" font-size="6.6" font-weight="bold" text-anchor="middle">8</text>
<path d="M329.4 520.8H332.4M329.4 504.5H332.4M329.4 488.3H332.4M329.4 472.0H332.4M329.4 455.8H332.4M329.4 439.5H332.4M332.4 520.8V523.8M347.7 520.8V523.8M378.4 520.8V523.8M455.0 520.8V523.8" stroke="#333" stroke-width="1.2"/>
<text x="392.7" y="428.7" font-size="9" font-style="italic" text-anchor="middle">Isg15</text>
<polyline points="474.2,502.4 490.1,510.8 521.8,509.1 601.0,503.4" fill="none" stroke="#f08a8a" stroke-width="0.8"/>
<path d="M474.2 500.7L475.6 502.4L474.2 504.1L472.8 502.4Z" fill="#f08a8a"/>
<path d="M490.1 509.1L491.4 510.8L490.1 512.5L488.7 510.8Z" fill="#f08a8a"/>
<path d="M521.8 507.4L523.1 509.1L521.8 510.8L520.4 509.1Z" fill="#f08a8a"/>
<path d="M601.0 501.7L602.4 503.4L601.0 505.1L599.6 503.4Z" fill="#f08a8a"/>
<polyline points="474.2,503.4 490.1,511.9 521.8,511.3 601.0,505.6" fill="none" stroke="#4aa0f0" stroke-width="1.0"/>
<path d="M474.2 505.4L476.1 502.2H472.3Z" fill="#4aa0f0"/>
<path d="M490.1 513.9L491.9 510.6H488.2Z" fill="#4aa0f0"/>
<path d="M521.8 513.2L523.6 510.0H519.9Z" fill="#4aa0f0"/>
<path d="M601.0 507.5L602.9 504.3H599.1Z" fill="#4aa0f0"/>
<polyline points="474.2,501.3 490.1,509.8 521.8,509.8 601.0,501.3" fill="none" stroke="#44dc80" stroke-width="1.0"/>
<circle cx="474.2" cy="501.3" r="1.75" fill="#44dc80"/>
<circle cx="490.1" cy="509.8" r="1.75" fill="#44dc80"/>
<circle cx="521.8" cy="509.8" r="1.75" fill="#44dc80"/>
<circle cx="601.0" cy="501.3" r="1.75" fill="#44dc80"/>
<polyline points="474.2,500.3 490.1,508.7 521.8,472.1 601.0,474.3" fill="none" stroke="#2a9a2a" stroke-width="1.0"/>
<path d="M474.2 498.0L476.4 501.8H472.0Z" fill="#2a9a2a"/>
<path d="M490.1 506.4L492.2 510.2H487.9Z" fill="#2a9a2a"/>
<path d="M521.8 469.8L524.0 473.6H519.5Z" fill="#2a9a2a"/>
<path d="M601.0 472.0L603.2 475.8H598.8Z" fill="#2a9a2a"/>
<polyline points="474.2,484.4 490.1,506.6 521.8,471.7 601.0,455.8" fill="none" stroke="#f82412" stroke-width="1.0"/>
<rect x="472.5" y="482.7" width="3.4" height="3.4" fill="#f82412"/>
<rect x="488.4" y="504.9" width="3.4" height="3.4" fill="#f82412"/>
<rect x="520.0" y="470.0" width="3.4" height="3.4" fill="#f82412"/>
<rect x="599.3" y="454.1" width="3.4" height="3.4" fill="#f82412"/>
<rect x="472.5" y="507.4" width="3.4" height="3.4" fill="#f82412"/>
<polyline points="474.2,504.5 490.1,511.9 521.8,498.6 601.0,482.3" fill="none" stroke="#1818fa" stroke-width="1.0"/>
<circle cx="474.2" cy="504.5" r="1.75" fill="#1818fa"/>
<circle cx="490.1" cy="511.9" r="1.75" fill="#1818fa"/>
<circle cx="521.8" cy="498.6" r="1.75" fill="#1818fa"/>
<circle cx="601.0" cy="482.3" r="1.75" fill="#1818fa"/>
<circle cx="474.2" cy="513.0" r="1.75" fill="#1818fa"/>
<path d="M474.2 434.7V519.3H601.0" fill="none" stroke="#333" stroke-width="1.2"/>
<text transform="translate(470.0,521.7) scale(0.82,1)" font-size="6.6" font-weight="bold" text-anchor="end">0</text>
<text transform="translate(470.0,500.5) scale(0.82,1)" font-size="6.6" font-weight="bold" text-anchor="end">10</text>
<text transform="translate(470.0,479.4) scale(0.82,1)" font-size="6.6" font-weight="bold" text-anchor="end">20</text>
<text transform="translate(470.0,458.2) scale(0.82,1)" font-size="6.6" font-weight="bold" text-anchor="end">30</text>
<text transform="translate(470.0,437.1) scale(0.82,1)" font-size="6.6" font-weight="bold" text-anchor="end">40</text>
<text transform="translate(474.2,528.8) scale(0.82,1)" font-size="6.6" font-weight="bold" text-anchor="middle">0</text>
<text transform="translate(490.1,528.8) scale(0.82,1)" font-size="6.6" font-weight="bold" text-anchor="middle">1</text>
<text transform="translate(521.8,528.8) scale(0.82,1)" font-size="6.6" font-weight="bold" text-anchor="middle">3</text>
<text transform="translate(601.0,528.8) scale(0.82,1)" font-size="6.6" font-weight="bold" text-anchor="middle">8</text>
<path d="M471.2 519.3H474.2M471.2 498.1H474.2M471.2 477.0H474.2M471.2 455.8H474.2M471.2 434.7H474.2M474.2 519.3V522.3M490.1 519.3V522.3M521.8 519.3V522.3M601.0 519.3V522.3" stroke="#333" stroke-width="1.2"/>
<text x="535.2" y="428.8" font-size="9" font-style="italic" text-anchor="middle">Oas1b</text>
<text x="606.8" y="531.5" font-size="9">hours</text>
<text transform="translate(23.2,424) rotate(-90)" font-size="9.5">CPM</text>
<text x="288.0" y="579.5" font-size="9">IFN-Independent Genes</text>
<polyline points="42.2,613.3 57.5,609.9 87.9,648.0 164.2,625.9" fill="none" stroke="#f08a8a" stroke-width="0.8"/>
<path d="M42.2 611.6L43.6 613.3L42.2 615.0L40.8 613.3Z" fill="#f08a8a"/>
<path d="M57.5 608.2L58.8 609.9L57.5 611.6L56.1 609.9Z" fill="#f08a8a"/>
<path d="M87.9 646.3L89.3 648.0L87.9 649.7L86.6 648.0Z" fill="#f08a8a"/>
<path d="M164.2 624.2L165.6 625.9L164.2 627.6L162.8 625.9Z" fill="#f08a8a"/>
<polyline points="42.2,638.0 57.5,644.0 87.9,666.0 164.2,652.0" fill="none" stroke="#4aa0f0" stroke-width="1.0"/>
<path d="M42.2 639.9L44.1 636.7H40.3Z" fill="#4aa0f0"/>
<path d="M57.5 645.9L59.3 642.7H55.6Z" fill="#4aa0f0"/>
<path d="M87.9 667.9L89.8 664.7H86.1Z" fill="#4aa0f0"/>
<path d="M164.2 653.9L166.1 650.7H162.3Z" fill="#4aa0f0"/>
<path d="M42.2 644.3L44.4 640.5H40.0Z" fill="#4aa0f0"/>
<polyline points="42.2,618.6 57.5,619.9 87.9,654.0 164.2,627.9" fill="none" stroke="#44dc80" stroke-width="1.0"/>
<circle cx="42.2" cy="618.6" r="1.75" fill="#44dc80"/>
<circle cx="57.5" cy="619.9" r="1.75" fill="#44dc80"/>
<circle cx="87.9" cy="654.0" r="1.75" fill="#44dc80"/>
<circle cx="164.2" cy="627.9" r="1.75" fill="#44dc80"/>
<polyline points="42.2,622.6 57.5,614.6 87.9,656.0 164.2,642.6" fill="none" stroke="#2a9a2a" stroke-width="1.0"/>
<path d="M42.2 620.3L44.4 624.1H40.0Z" fill="#2a9a2a"/>
<path d="M57.5 612.3L59.7 616.1H55.2Z" fill="#2a9a2a"/>
<path d="M87.9 653.7L90.1 657.5H85.7Z" fill="#2a9a2a"/>
<path d="M164.2 640.3L166.4 644.1H162.0Z" fill="#2a9a2a"/>
<path d="M42.2 611.6L44.4 615.4H40.0Z" fill="#2a9a2a"/>
<polyline points="42.2,621.9 57.5,622.6 87.9,658.6 164.2,636.0" fill="none" stroke="#f82412" stroke-width="1.0"/>
<rect x="40.5" y="620.2" width="3.4" height="3.4" fill="#f82412"/>
<rect x="55.8" y="620.9" width="3.4" height="3.4" fill="#f82412"/>
<rect x="86.2" y="656.9" width="3.4" height="3.4" fill="#f82412"/>
<rect x="162.5" y="634.2" width="3.4" height="3.4" fill="#f82412"/>
<rect x="40.5" y="624.2" width="3.4" height="3.4" fill="#f82412"/>
<polyline points="42.2,650.0 57.5,644.6 87.9,670.0 164.2,661.3" fill="none" stroke="#1818fa" stroke-width="1.0"/>
<circle cx="42.2" cy="650.0" r="1.75" fill="#1818fa"/>
<circle cx="57.5" cy="644.6" r="1.75" fill="#1818fa"/>
<circle cx="87.9" cy="670.0" r="1.75" fill="#1818fa"/>
<circle cx="164.2" cy="661.3" r="1.75" fill="#1818fa"/>
<circle cx="42.2" cy="646.6" r="1.75" fill="#1818fa"/>
<path d="M42.2 595.9V676.0H164.2" fill="none" stroke="#333" stroke-width="1.2"/>
<text transform="translate(38.0,678.4) scale(0.82,1)" font-size="6.6" font-weight="bold" text-anchor="end">0</text>
<text transform="translate(38.0,651.7) scale(0.82,1)" font-size="6.6" font-weight="bold" text-anchor="end">200</text>
<text transform="translate(38.0,625.0) scale(0.82,1)" font-size="6.6" font-weight="bold" text-anchor="end">400</text>
<text transform="translate(38.0,598.3) scale(0.82,1)" font-size="6.6" font-weight="bold" text-anchor="end">600</text>
<text transform="translate(42.2,685.5) scale(0.82,1)" font-size="6.6" font-weight="bold" text-anchor="middle">0</text>
<text transform="translate(57.5,685.5) scale(0.82,1)" font-size="6.6" font-weight="bold" text-anchor="middle">1</text>
<text transform="translate(87.9,685.5) scale(0.82,1)" font-size="6.6" font-weight="bold" text-anchor="middle">3</text>
<text transform="translate(164.2,685.5) scale(0.82,1)" font-size="6.6" font-weight="bold" text-anchor="middle">8</text>
<path d="M39.2 676.0H42.2M39.2 649.3H42.2M39.2 622.6H42.2M39.2 595.9H42.2M42.2 676.0V679.0M57.5 676.0V679.0M87.9 676.0V679.0M164.2 676.0V679.0" stroke="#333" stroke-width="1.2"/>
<text x="109.4" y="596.4" font-size="9" font-style="italic" text-anchor="middle">Map3k14</text>
<polyline points="189.0,636.3 204.4,656.2 235.4,612.9 312.6,608.7" fill="none" stroke="#f08a8a" stroke-width="0.8"/>
<path d="M189.0 634.6L190.4 636.3L189.0 638.0L187.6 636.3Z" fill="#f08a8a"/>
<path d="M204.4 654.5L205.8 656.2L204.4 657.9L203.1 656.2Z" fill="#f08a8a"/>
<path d="M235.4 611.2L236.7 612.9L235.4 614.6L234.0 612.9Z" fill="#f08a8a"/>
<path d="M312.6 607.0L314.0 608.7L312.6 610.4L311.2 608.7Z" fill="#f08a8a"/>
<polyline points="189.0,665.9 204.4,669.3 235.4,644.5 312.6,645.9" fill="none" stroke="#4aa0f0" stroke-width="1.0"/>
<path d="M189.0 667.8L190.9 664.6H187.1Z" fill="#4aa0f0"/>
<path d="M204.4 671.3L206.3 668.0H202.6Z" fill="#4aa0f0"/>
<path d="M235.4 646.5L237.2 643.3H233.5Z" fill="#4aa0f0"/>
<path d="M312.6 647.9L314.5 644.6H310.7Z" fill="#4aa0f0"/>
<polyline points="189.0,647.3 204.4,667.9 235.4,632.1 312.6,636.3" fill="none" stroke="#44dc80" stroke-width="1.0"/>
<circle cx="189.0" cy="647.3" r="1.75" fill="#44dc80"/>
<circle cx="204.4" cy="667.9" r="1.75" fill="#44dc80"/>
<circle cx="235.4" cy="632.1" r="1.75" fill="#44dc80"/>
<circle cx="312.6" cy="636.3" r="1.75" fill="#44dc80"/>
<polyline points="189.0,644.5 204.4,667.3 235.4,626.6 312.6,639.7" fill="none" stroke="#2a9a2a" stroke-width="1.0"/>
<path d="M189.0 642.2L191.2 646.0H186.8Z" fill="#2a9a2a"/>
<path d="M204.4 665.0L206.6 668.8H202.2Z" fill="#2a9a2a"/>
<path d="M235.4 624.3L237.6 628.1H233.2Z" fill="#2a9a2a"/>
<path d="M312.6 637.4L314.8 641.2H310.4Z" fill="#2a9a2a"/>
<polyline points="189.0,639.0 204.4,664.5 235.4,615.6 312.6,621.8" fill="none" stroke="#f82412" stroke-width="1.0"/>
<rect x="187.3" y="637.3" width="3.4" height="3.4" fill="#f82412"/>
<rect x="202.8" y="662.8" width="3.4" height="3.4" fill="#f82412"/>
<rect x="233.7" y="613.9" width="3.4" height="3.4" fill="#f82412"/>
<rect x="310.9" y="620.1" width="3.4" height="3.4" fill="#f82412"/>
<rect x="187.3" y="661.4" width="3.4" height="3.4" fill="#f82412"/>
<polyline points="189.0,652.8 204.4,670.0 235.4,640.4 312.6,643.8" fill="none" stroke="#1818fa" stroke-width="1.0"/>
<circle cx="189.0" cy="652.8" r="1.75" fill="#1818fa"/>
<circle cx="204.4" cy="670.0" r="1.75" fill="#1818fa"/>
<circle cx="235.4" cy="640.4" r="1.75" fill="#1818fa"/>
<circle cx="312.6" cy="643.8" r="1.75" fill="#1818fa"/>
<circle cx="189.0" cy="670.0" r="1.75" fill="#1818fa"/>
<path d="M189.0 593.6V676.2H312.6" fill="none" stroke="#333" stroke-width="1.2"/>
<text transform="translate(184.8,678.6) scale(0.82,1)" font-size="6.6" font-weight="bold" text-anchor="end">0</text>
<text transform="translate(184.8,651.1) scale(0.82,1)" font-size="6.6" font-weight="bold" text-anchor="end">200</text>
<text transform="translate(184.8,623.5) scale(0.82,1)" font-size="6.6" font-weight="bold" text-anchor="end">400</text>
<text transform="translate(184.8,596.0) scale(0.82,1)" font-size="6.6" font-weight="bold" text-anchor="end">600</text>
<text transform="translate(189.0,685.7) scale(0.82,1)" font-size="6.6" font-weight="bold" text-anchor="middle">0</text>
<text transform="translate(204.4,685.7) scale(0.82,1)" font-size="6.6" font-weight="bold" text-anchor="middle">1</text>
<text transform="translate(235.4,685.7) scale(0.82,1)" font-size="6.6" font-weight="bold" text-anchor="middle">3</text>
<text transform="translate(312.6,685.7) scale(0.82,1)" font-size="6.6" font-weight="bold" text-anchor="middle">8</text>
<path d="M186.0 676.2H189.0M186.0 648.7H189.0M186.0 621.1H189.0M186.0 593.6H189.0M189.0 676.2V679.2M204.4 676.2V679.2M235.4 676.2V679.2M312.6 676.2V679.2" stroke="#333" stroke-width="1.2"/>
<text x="253.4" y="596.0" font-size="9" font-style="italic" text-anchor="middle">Ikbke</text>
<polyline points="341.8,640.7 357.2,636.6 387.9,616.1 464.7,605.2" fill="none" stroke="#f08a8a" stroke-width="0.8"/>
<path d="M341.8 639.0L343.2 640.7L341.8 642.4L340.4 640.7Z" fill="#f08a8a"/>
<path d="M357.2 634.9L358.5 636.6L357.2 638.3L355.8 636.6Z" fill="#f08a8a"/>
<path d="M387.9 614.4L389.2 616.1L387.9 617.8L386.5 616.1Z" fill="#f08a8a"/>
<path d="M464.7 603.5L466.1 605.2L464.7 606.9L463.3 605.2Z" fill="#f08a8a"/>
<polyline points="341.8,658.5 357.2,655.7 387.9,639.3 464.7,617.5" fill="none" stroke="#4aa0f0" stroke-width="1.0"/>
<path d="M341.8 660.4L343.7 657.2H339.9Z" fill="#4aa0f0"/>
<path d="M357.2 657.7L359.0 654.5H355.3Z" fill="#4aa0f0"/>
<path d="M387.9 641.3L389.8 638.1H386.0Z" fill="#4aa0f0"/>
<path d="M464.7 619.5L466.6 616.2H462.8Z" fill="#4aa0f0"/>
<polyline points="341.8,643.4 357.2,650.3 387.9,632.5 464.7,609.3" fill="none" stroke="#44dc80" stroke-width="1.0"/>
<circle cx="341.8" cy="643.4" r="1.75" fill="#44dc80"/>
<circle cx="357.2" cy="650.3" r="1.75" fill="#44dc80"/>
<circle cx="387.9" cy="632.5" r="1.75" fill="#44dc80"/>
<circle cx="464.7" cy="609.3" r="1.75" fill="#44dc80"/>
<polyline points="341.8,643.4 357.2,648.9 387.9,631.2 464.7,607.9" fill="none" stroke="#2a9a2a" stroke-width="1.0"/>
<path d="M341.8 641.1L344.0 644.9H339.6Z" fill="#2a9a2a"/>
<path d="M357.2 646.6L359.4 650.4H355.0Z" fill="#2a9a2a"/>
<path d="M387.9 628.9L390.1 632.7H385.7Z" fill="#2a9a2a"/>
<path d="M464.7 605.6L466.9 609.4H462.5Z" fill="#2a9a2a"/>
<polyline points="341.8,647.5 357.2,650.3 387.9,633.9 464.7,615.6" fill="none" stroke="#f82412" stroke-width="1.0"/>
<rect x="340.1" y="645.8" width="3.4" height="3.4" fill="#f82412"/>
<rect x="355.5" y="648.6" width="3.4" height="3.4" fill="#f82412"/>
<rect x="386.2" y="632.2" width="3.4" height="3.4" fill="#f82412"/>
<rect x="463.0" y="613.9" width="3.4" height="3.4" fill="#f82412"/>
<rect x="340.1" y="651.3" width="3.4" height="3.4" fill="#f82412"/>
<polyline points="341.8,666.6 357.2,662.6 387.9,648.9 464.7,633.9" fill="none" stroke="#1818fa" stroke-width="1.0"/>
<circle cx="341.8" cy="666.6" r="1.75" fill="#1818fa"/>
<circle cx="357.2" cy="662.6" r="1.75" fill="#1818fa"/>
<circle cx="387.9" cy="648.9" r="1.75" fill="#1818fa"/>
<circle cx="464.7" cy="633.9" r="1.75" fill="#1818fa"/>
<circle cx="341.8" cy="663.9" r="1.75" fill="#1818fa"/>
<path d="M341.8 594.3V676.2H464.7" fill="none" stroke="#333" stroke-width="1.2"/>
<text transform="translate(337.6,678.6) scale(0.82,1)" font-size="6.6" font-weight="bold" text-anchor="end">0</text>
<text transform="translate(337.6,651.3) scale(0.82,1)" font-size="6.6" font-weight="bold" text-anchor="end">10000</text>
<text transform="translate(337.6,624.0) scale(0.82,1)" font-size="6.6" font-weight="bold" text-anchor="end">20000</text>
<text transform="translate(337.6,596.7) scale(0.82,1)" font-size="6.6" font-weight="bold" text-anchor="end">30000</text>
<text transform="translate(341.8,685.7) scale(0.82,1)" font-size="6.6" font-weight="bold" text-anchor="middle">0</text>
<text transform="translate(357.2,685.7) scale(0.82,1)" font-size="6.6" font-weight="bold" text-anchor="middle">1</text>
<text transform="translate(387.9,685.7) scale(0.82,1)" font-size="6.6" font-weight="bold" text-anchor="middle">3</text>
<text transform="translate(464.7,685.7) scale(0.82,1)" font-size="6.6" font-weight="bold" text-anchor="middle">8</text>
<path d="M338.8 676.2H341.8M338.8 648.9H341.8M338.8 621.6H341.8M338.8 594.3H341.8M341.8 676.2V679.2M357.2 676.2V679.2M387.9 676.2V679.2M464.7 676.2V679.2" stroke="#333" stroke-width="1.2"/>
<text x="402.2" y="596.0" font-size="9" font-style="italic" text-anchor="middle">Ccl22</text>
<polyline points="490.4,638.0 505.9,643.5 536.9,624.9 614.4,603.1" fill="none" stroke="#f08a8a" stroke-width="0.8"/>
<path d="M490.4 636.3L491.8 638.0L490.4 639.8L489.0 638.0Z" fill="#f08a8a"/>
<path d="M505.9 641.8L507.3 643.5L505.9 645.2L504.5 643.5Z" fill="#f08a8a"/>
<path d="M536.9 623.1L538.3 624.9L536.9 626.6L535.5 624.9Z" fill="#f08a8a"/>
<path d="M614.4 601.4L615.8 603.1L614.4 604.8L613.0 603.1Z" fill="#f08a8a"/>
<polyline points="490.4,656.8 505.9,662.8 536.9,654.5 614.4,630.6" fill="none" stroke="#4aa0f0" stroke-width="1.0"/>
<path d="M490.4 658.7L492.3 655.5H488.5Z" fill="#4aa0f0"/>
<path d="M505.9 664.8L507.8 661.5H504.0Z" fill="#4aa0f0"/>
<path d="M536.9 656.5L538.8 653.3H535.0Z" fill="#4aa0f0"/>
<path d="M614.4 632.6L616.3 629.4H612.5Z" fill="#4aa0f0"/>
<polyline points="490.4,647.1 505.9,655.4 536.9,641.6 614.4,601.8" fill="none" stroke="#44dc80" stroke-width="1.0"/>
<circle cx="490.4" cy="647.1" r="1.75" fill="#44dc80"/>
<circle cx="505.9" cy="655.4" r="1.75" fill="#44dc80"/>
<circle cx="536.9" cy="641.6" r="1.75" fill="#44dc80"/>
<circle cx="614.4" cy="601.8" r="1.75" fill="#44dc80"/>
<polyline points="490.4,654.5 505.9,656.8 536.9,647.1 614.4,617.7" fill="none" stroke="#2a9a2a" stroke-width="1.0"/>
<path d="M490.4 652.2L492.6 656.0H488.2Z" fill="#2a9a2a"/>
<path d="M505.9 654.5L508.1 658.2H503.7Z" fill="#2a9a2a"/>
<path d="M536.9 644.8L539.1 648.6H534.7Z" fill="#2a9a2a"/>
<path d="M614.4 615.4L616.6 619.2H612.2Z" fill="#2a9a2a"/>
<polyline points="490.4,646.3 505.9,657.3 536.9,643.5 614.4,604.5" fill="none" stroke="#f82412" stroke-width="1.0"/>
<rect x="488.7" y="644.6" width="3.4" height="3.4" fill="#f82412"/>
<rect x="504.2" y="655.6" width="3.4" height="3.4" fill="#f82412"/>
<rect x="535.2" y="641.8" width="3.4" height="3.4" fill="#f82412"/>
<rect x="612.7" y="602.8" width="3.4" height="3.4" fill="#f82412"/>
<rect x="488.7" y="657.2" width="3.4" height="3.4" fill="#f82412"/>
<polyline points="490.4,665.5 505.9,663.6 536.9,656.8 614.4,644.4" fill="none" stroke="#1818fa" stroke-width="1.0"/>
<circle cx="490.4" cy="665.5" r="1.75" fill="#1818fa"/>
<circle cx="505.9" cy="663.6" r="1.75" fill="#1818fa"/>
<circle cx="536.9" cy="656.8" r="1.75" fill="#1818fa"/>
<circle cx="614.4" cy="644.4" r="1.75" fill="#1818fa"/>
<path d="M490.4 593.5V676.0H614.4" fill="none" stroke="#333" stroke-width="1.2"/>
<text transform="translate(486.2,678.4) scale(0.82,1)" font-size="6.6" font-weight="bold" text-anchor="end">0</text>
<text transform="translate(486.2,650.9) scale(0.82,1)" font-size="6.6" font-weight="bold" text-anchor="end">1000</text>
<text transform="translate(486.2,623.4) scale(0.82,1)" font-size="6.6" font-weight="bold" text-anchor="end">2000</text>
<text transform="translate(486.2,595.9) scale(0.82,1)" font-size="6.6" font-weight="bold" text-anchor="end">3000</text>
<text transform="translate(490.4,685.5) scale(0.82,1)" font-size="6.6" font-weight="bold" text-anchor="middle">0</text>
<text transform="translate(505.9,685.5) scale(0.82,1)" font-size="6.6" font-weight="bold" text-anchor="middle">1</text>
<text transform="translate(536.9,685.5) scale(0.82,1)" font-size="6.6" font-weight="bold" text-anchor="middle">3</text>
<text transform="translate(614.4,685.5) scale(0.82,1)" font-size="6.6" font-weight="bold" text-anchor="middle">8</text>
<path d="M487.4 676.0H490.4M487.4 648.5H490.4M487.4 621.0H490.4M487.4 593.5H490.4M490.4 676.0V679.0M505.9 676.0V679.0M536.9 676.0V679.0M614.4 676.0V679.0" stroke="#333" stroke-width="1.2"/>
<text x="553.5" y="596.7" font-size="9" font-style="italic" text-anchor="middle">Ccl5</text>
<polyline points="42.7,763.4 58.3,769.2 89.4,712.2 167.2,745.6" fill="none" stroke="#f08a8a" stroke-width="0.8"/>
<path d="M42.7 761.7L44.1 763.4L42.7 765.1L41.3 763.4Z" fill="#f08a8a"/>
<path d="M58.3 767.5L59.6 769.2L58.3 770.9L56.9 769.2Z" fill="#f08a8a"/>
<path d="M89.4 710.5L90.7 712.2L89.4 713.9L88.0 712.2Z" fill="#f08a8a"/>
<path d="M167.2 743.9L168.6 745.6L167.2 747.4L165.8 745.6Z" fill="#f08a8a"/>
<polyline points="42.7,773.3 58.3,771.8 89.4,739.9 167.2,746.2" fill="none" stroke="#4aa0f0" stroke-width="1.0"/>
<path d="M42.7 775.3L44.6 772.1H40.8Z" fill="#4aa0f0"/>
<path d="M58.3 773.7L60.1 770.5H56.4Z" fill="#4aa0f0"/>
<path d="M89.4 741.9L91.3 738.6H87.5Z" fill="#4aa0f0"/>
<path d="M167.2 748.1L169.1 744.9H165.3Z" fill="#4aa0f0"/>
<polyline points="42.7,764.5 58.3,767.6 89.4,725.8 167.2,730.0" fill="none" stroke="#44dc80" stroke-width="1.0"/>
<circle cx="42.7" cy="764.5" r="1.75" fill="#44dc80"/>
<circle cx="58.3" cy="767.6" r="1.75" fill="#44dc80"/>
<circle cx="89.4" cy="725.8" r="1.75" fill="#44dc80"/>
<circle cx="167.2" cy="730.0" r="1.75" fill="#44dc80"/>
<polyline points="42.7,765.5 58.3,770.7 89.4,727.9 167.2,736.8" fill="none" stroke="#2a9a2a" stroke-width="1.0"/>
<path d="M42.7 763.2L44.9 767.0H40.5Z" fill="#2a9a2a"/>
<path d="M58.3 768.4L60.5 772.2H56.1Z" fill="#2a9a2a"/>
<path d="M89.4 725.6L91.6 729.4H87.2Z" fill="#2a9a2a"/>
<path d="M167.2 734.5L169.4 738.3H165.0Z" fill="#2a9a2a"/>
<polyline points="42.7,761.8 58.3,770.2 89.4,720.0 167.2,721.6" fill="none" stroke="#f82412" stroke-width="1.0"/>
<rect x="41.0" y="760.1" width="3.4" height="3.4" fill="#f82412"/>
<rect x="56.6" y="768.5" width="3.4" height="3.4" fill="#f82412"/>
<rect x="87.7" y="718.3" width="3.4" height="3.4" fill="#f82412"/>
<rect x="165.5" y="719.9" width="3.4" height="3.4" fill="#f82412"/>
<rect x="41.0" y="769.6" width="3.4" height="3.4" fill="#f82412"/>
<polyline points="42.7,776.0 58.3,776.0 89.4,749.8 167.2,749.8" fill="none" stroke="#1818fa" stroke-width="1.0"/>
<circle cx="42.7" cy="776.0" r="1.75" fill="#1818fa"/>
<circle cx="58.3" cy="776.0" r="1.75" fill="#1818fa"/>
<circle cx="89.4" cy="749.8" r="1.75" fill="#1818fa"/>
<circle cx="167.2" cy="749.8" r="1.75" fill="#1818fa"/>
<path d="M42.7 693.4V777.0H167.2" fill="none" stroke="#333" stroke-width="1.2"/>
<text transform="translate(38.5,779.4) scale(0.82,1)" font-size="6.6" font-weight="bold" text-anchor="end">0</text>
<text transform="translate(38.5,758.5) scale(0.82,1)" font-size="6.6" font-weight="bold" text-anchor="end">200</text>
<text transform="translate(38.5,737.6) scale(0.82,1)" font-size="6.6" font-weight="bold" text-anchor="end">400</text>
<text transform="translate(38.5,716.7) scale(0.82,1)" font-size="6.6" font-weight="bold" text-anchor="end">600</text>
<text transform="translate(38.5,695.8) scale(0.82,1)" font-size="6.6" font-weight="bold" text-anchor="end">800</text>
<text transform="translate(42.7,786.5) scale(0.82,1)" font-size="6.6" font-weight="bold" text-anchor="middle">0</text>
<text transform="translate(58.3,786.5) scale(0.82,1)" font-size="6.6" font-weight="bold" text-anchor="middle">1</text>
<text transform="translate(89.4,786.5) scale(0.82,1)" font-size="6.6" font-weight="bold" text-anchor="middle">3</text>
<text transform="translate(167.2,786.5) scale(0.82,1)" font-size="6.6" font-weight="bold" text-anchor="middle">8</text>
<path d="M39.7 777.0H42.7M39.7 756.1H42.7M39.7 735.2H42.7M39.7 714.3H42.7M39.7 693.4H42.7M42.7 777.0V780.0M58.3 777.0V780.0M89.4 777.0V780.0M167.2 777.0V780.0" stroke="#333" stroke-width="1.2"/>
<text x="105.0" y="695.2" font-size="9" font-style="italic" text-anchor="middle">Cd40</text>
<polyline points="189.0,755.1 204.8,763.4 236.5,713.2 315.6,738.3" fill="none" stroke="#f08a8a" stroke-width="0.8"/>
<path d="M189.0 753.4L190.4 755.1L189.0 756.8L187.6 755.1Z" fill="#f08a8a"/>
<path d="M204.8 761.7L206.2 763.4L204.8 765.1L203.5 763.4Z" fill="#f08a8a"/>
<path d="M236.5 711.5L237.8 713.2L236.5 714.9L235.1 713.2Z" fill="#f08a8a"/>
<path d="M315.6 736.6L317.0 738.3L315.6 740.0L314.2 738.3Z" fill="#f08a8a"/>
<polyline points="189.0,762.0 204.8,760.6 236.5,734.1 315.6,739.7" fill="none" stroke="#4aa0f0" stroke-width="1.0"/>
<path d="M189.0 764.0L190.9 760.8H187.1Z" fill="#4aa0f0"/>
<path d="M204.8 762.6L206.7 759.4H203.0Z" fill="#4aa0f0"/>
<path d="M236.5 736.1L238.3 732.8H234.6Z" fill="#4aa0f0"/>
<path d="M315.6 741.6L317.5 738.4H313.7Z" fill="#4aa0f0"/>
<polyline points="189.0,750.9 204.8,757.8 236.5,722.4 315.6,725.7" fill="none" stroke="#44dc80" stroke-width="1.0"/>
<circle cx="189.0" cy="750.9" r="1.75" fill="#44dc80"/>
<circle cx="204.8" cy="757.8" r="1.75" fill="#44dc80"/>
<circle cx="236.5" cy="722.4" r="1.75" fill="#44dc80"/>
<circle cx="315.6" cy="725.7" r="1.75" fill="#44dc80"/>
<polyline points="189.0,743.9 204.8,759.2 236.5,709.0 315.6,720.1" fill="none" stroke="#2a9a2a" stroke-width="1.0"/>
<path d="M189.0 741.6L191.2 745.4H186.8Z" fill="#2a9a2a"/>
<path d="M204.8 756.9L207.0 760.7H202.6Z" fill="#2a9a2a"/>
<path d="M236.5 706.7L238.7 710.5H234.3Z" fill="#2a9a2a"/>
<path d="M315.6 717.8L317.8 721.6H313.4Z" fill="#2a9a2a"/>
<polyline points="189.0,753.7 204.8,762.0 236.5,714.5 315.6,728.5" fill="none" stroke="#f82412" stroke-width="1.0"/>
<rect x="187.3" y="752.0" width="3.4" height="3.4" fill="#f82412"/>
<rect x="203.1" y="760.3" width="3.4" height="3.4" fill="#f82412"/>
<rect x="234.8" y="712.8" width="3.4" height="3.4" fill="#f82412"/>
<rect x="313.9" y="726.8" width="3.4" height="3.4" fill="#f82412"/>
<rect x="187.3" y="763.1" width="3.4" height="3.4" fill="#f82412"/>
<polyline points="189.0,768.5 204.8,767.6 236.5,741.6 315.6,743.3" fill="none" stroke="#1818fa" stroke-width="1.0"/>
<circle cx="189.0" cy="768.5" r="1.75" fill="#1818fa"/>
<circle cx="204.8" cy="767.6" r="1.75" fill="#1818fa"/>
<circle cx="236.5" cy="741.6" r="1.75" fill="#1818fa"/>
<circle cx="315.6" cy="743.3" r="1.75" fill="#1818fa"/>
<circle cx="189.0" cy="770.4" r="1.75" fill="#1818fa"/>
<path d="M189.0 693.6V777.4H315.6" fill="none" stroke="#333" stroke-width="1.2"/>
<text transform="translate(184.8,779.8) scale(0.82,1)" font-size="6.6" font-weight="bold" text-anchor="end">0</text>
<text transform="translate(184.8,751.9) scale(0.82,1)" font-size="6.6" font-weight="bold" text-anchor="end">100</text>
<text transform="translate(184.8,723.9) scale(0.82,1)" font-size="6.6" font-weight="bold" text-anchor="end">200</text>
<text transform="translate(184.8,696.0) scale(0.82,1)" font-size="6.6" font-weight="bold" text-anchor="end">300</text>
<text transform="translate(189.0,786.9) scale(0.82,1)" font-size="6.6" font-weight="bold" text-anchor="middle">0</text>
<text transform="translate(204.8,786.9) scale(0.82,1)" font-size="6.6" font-weight="bold" text-anchor="middle">1</text>
<text transform="translate(236.5,786.9) scale(0.82,1)" font-size="6.6" font-weight="bold" text-anchor="middle">3</text>
<text transform="translate(315.6,786.9) scale(0.82,1)" font-size="6.6" font-weight="bold" text-anchor="middle">8</text>
<path d="M186.0 777.4H189.0M186.0 749.5H189.0M186.0 721.5H189.0M186.0 693.6H189.0M189.0 777.4V780.4M204.8 777.4V780.4M236.5 777.4V780.4M315.6 777.4V780.4" stroke="#333" stroke-width="1.2"/>
<text x="253.7" y="695.3" font-size="9" font-style="italic" text-anchor="middle">Cd80</text>
<polyline points="341.6,751.1 357.0,740.1 387.8,706.5 464.7,736.7" fill="none" stroke="#f08a8a" stroke-width="0.8"/>
<path d="M341.6 749.4L343.0 751.1L341.6 752.8L340.2 751.1Z" fill="#f08a8a"/>
<path d="M357.0 738.4L358.3 740.1L357.0 741.8L355.6 740.1Z" fill="#f08a8a"/>
<path d="M387.8 704.8L389.1 706.5L387.8 708.2L386.4 706.5Z" fill="#f08a8a"/>
<path d="M464.7 735.0L466.1 736.7L464.7 738.4L463.3 736.7Z" fill="#f08a8a"/>
<polyline points="341.6,761.4 357.0,756.6 387.8,737.4 464.7,739.4" fill="none" stroke="#4aa0f0" stroke-width="1.0"/>
<path d="M341.6 763.4L343.5 760.1H339.7Z" fill="#4aa0f0"/>
<path d="M357.0 758.6L358.9 755.3H355.1Z" fill="#4aa0f0"/>
<path d="M387.8 739.3L389.6 736.1H385.9Z" fill="#4aa0f0"/>
<path d="M464.7 741.4L466.6 738.2H462.8Z" fill="#4aa0f0"/>
<polyline points="341.6,750.4 357.0,747.0 387.8,730.5 464.7,731.2" fill="none" stroke="#44dc80" stroke-width="1.0"/>
<circle cx="341.6" cy="750.4" r="1.75" fill="#44dc80"/>
<circle cx="357.0" cy="747.0" r="1.75" fill="#44dc80"/>
<circle cx="387.8" cy="730.5" r="1.75" fill="#44dc80"/>
<circle cx="464.7" cy="731.2" r="1.75" fill="#44dc80"/>
<polyline points="341.6,749.0 357.0,740.8 387.8,729.8 464.7,727.1" fill="none" stroke="#2a9a2a" stroke-width="1.0"/>
<path d="M341.6 746.7L343.8 750.5H339.4Z" fill="#2a9a2a"/>
<path d="M357.0 738.5L359.2 742.3H354.8Z" fill="#2a9a2a"/>
<path d="M387.8 727.5L390.0 731.3H385.6Z" fill="#2a9a2a"/>
<path d="M464.7 724.8L466.9 728.6H462.5Z" fill="#2a9a2a"/>
<path d="M341.6 741.3L343.8 745.1H339.4Z" fill="#2a9a2a"/>
<polyline points="341.6,754.5 357.0,750.4 387.8,736.7 464.7,740.8" fill="none" stroke="#f82412" stroke-width="1.0"/>
<rect x="339.9" y="752.8" width="3.4" height="3.4" fill="#f82412"/>
<rect x="355.3" y="748.7" width="3.4" height="3.4" fill="#f82412"/>
<rect x="386.1" y="735.0" width="3.4" height="3.4" fill="#f82412"/>
<rect x="463.0" y="739.1" width="3.4" height="3.4" fill="#f82412"/>
<polyline points="341.6,768.3 357.0,756.6 387.8,747.0 464.7,743.6" fill="none" stroke="#1818fa" stroke-width="1.0"/>
<circle cx="341.6" cy="768.3" r="1.75" fill="#1818fa"/>
<circle cx="357.0" cy="756.6" r="1.75" fill="#1818fa"/>
<circle cx="387.8" cy="747.0" r="1.75" fill="#1818fa"/>
<circle cx="464.7" cy="743.6" r="1.75" fill="#1818fa"/>
<circle cx="341.6" cy="760.7" r="1.75" fill="#1818fa"/>
<path d="M341.6 694.8V777.2H464.7" fill="none" stroke="#333" stroke-width="1.2"/>
<text transform="translate(337.4,779.6) scale(0.82,1)" font-size="6.6" font-weight="bold" text-anchor="end">0</text>
<text transform="translate(337.4,752.1) scale(0.82,1)" font-size="6.6" font-weight="bold" text-anchor="end">200</text>
<text transform="translate(337.4,724.7) scale(0.82,1)" font-size="6.6" font-weight="bold" text-anchor="end">400</text>
<text transform="translate(337.4,697.2) scale(0.82,1)" font-size="6.6" font-weight="bold" text-anchor="end">600</text>
<text transform="translate(341.6,786.7) scale(0.82,1)" font-size="6.6" font-weight="bold" text-anchor="middle">0</text>
<text transform="translate(357.0,786.7) scale(0.82,1)" font-size="6.6" font-weight="bold" text-anchor="middle">1</text>
<text transform="translate(387.8,786.7) scale(0.82,1)" font-size="6.6" font-weight="bold" text-anchor="middle">3</text>
<text transform="translate(464.7,786.7) scale(0.82,1)" font-size="6.6" font-weight="bold" text-anchor="middle">8</text>
<path d="M338.6 777.2H341.6M338.6 749.7H341.6M338.6 722.3H341.6M338.6 694.8H341.6M341.6 777.2V780.2M357.0 777.2V780.2M387.8 777.2V780.2M464.7 777.2V780.2" stroke="#333" stroke-width="1.2"/>
<text x="402.0" y="695.3" font-size="9" font-style="italic" text-anchor="middle">Cd86</text>
<text x="482.2" y="784.4" font-size="9">hours</text>
<text transform="translate(24.2,695.5) rotate(-90)" font-size="9.5">CPM</text>
<rect x="613.0" y="330.8" width="18" height="1.7" fill="#1818fa"/>
<ellipse cx="622.0" cy="331.6" rx="2.8" ry="4.2" fill="#1818fa"/>
<text x="635.5" y="334.8" font-size="9">WT</text>
<rect x="613.0" y="362.7" width="18" height="1.7" fill="#f82412"/>
<rect x="619.2" y="359.0" width="5.6" height="9" fill="#f82412"/>
<text x="635.5" y="366.7" font-size="9" font-style="italic">RelB<tspan font-size="5.9" dy="-3.3" style="stroke-width:0.1px">-/-</tspan></text>
<rect x="613.0" y="396.0" width="18" height="1.7" fill="#2a9a2a"/>
<path d="M622.0 392.3L625.0 401.3H619.0Z" fill="#2a9a2a"/>
<text x="635.5" y="400.0" font-size="9" font-style="italic">RelB<tspan font-size="5.9" dy="-3.3" style="stroke-width:0.1px">DB/DB</tspan></text>
<rect x="613.0" y="429.9" width="18" height="1.7" fill="#4aa0f0"/>
<path d="M622.0 435.2L625.0 428.2H619.0Z" fill="#4aa0f0"/>
<text x="635.5" y="433.9" font-size="9" font-style="italic">IFNAR<tspan font-size="5.9" dy="-3.3" style="stroke-width:0.1px">-/-</tspan></text>
<rect x="613.0" y="463.7" width="18" height="1.7" fill="#f08a8a"/>
<path d="M622.0 460.5L624.8 464.5L622.0 468.5L619.2 464.5Z" fill="#f08a8a"/>
<text x="635.5" y="460.8" font-size="9" font-style="italic">IFNAR<tspan font-size="5.9" dy="-3.3" style="stroke-width:0.1px">-/-</tspan></text>
<text x="635.5" y="471.5" font-size="9" font-style="italic">RelB<tspan font-size="5.9" dy="-3.3" style="stroke-width:0.1px">-/-</tspan></text>
<rect x="613.0" y="497.3" width="18" height="1.7" fill="#44dc80"/>
<ellipse cx="622.0" cy="498.1" rx="2.8" ry="4.2" fill="#44dc80"/>
<text x="635.5" y="494.4" font-size="9" font-style="italic">IFNAR<tspan font-size="5.9" dy="-3.3" style="stroke-width:0.1px">-/-</tspan></text>
<text x="635.5" y="505.1" font-size="9" font-style="italic">RelB<tspan font-size="5.9" dy="-3.3" style="stroke-width:0.1px">DB/DB</tspan></text>
<rect x="622.3" y="609.9" width="18" height="1.7" fill="#1818fa"/>
<ellipse cx="631.3" cy="610.7" rx="2.8" ry="4.2" fill="#1818fa"/>
<text x="644.8" y="613.9" font-size="9">WT</text>
<rect x="622.3" y="641.4" width="18" height="1.7" fill="#f82412"/>
<rect x="628.5" y="637.7" width="5.6" height="9" fill="#f82412"/>
<text x="644.8" y="645.4" font-size="9" font-style="italic">RelB<tspan font-size="5.9" dy="-3.3" style="stroke-width:0.1px">-/-</tspan></text>
<rect x="622.3" y="675.3" width="18" height="1.7" fill="#2a9a2a"/>
<path d="M631.3 671.6L634.3 680.6H628.3Z" fill="#2a9a2a"/>
<text x="644.8" y="679.3" font-size="9" font-style="italic">RelB<tspan font-size="5.9" dy="-3.3" style="stroke-width:0.1px">DB/DB</tspan></text>
<rect x="622.3" y="708.6" width="18" height="1.7" fill="#4aa0f0"/>
<path d="M631.3 713.9L634.3 706.9H628.3Z" fill="#4aa0f0"/>
<text x="644.8" y="712.6" font-size="9" font-style="italic">IFNAR<tspan font-size="5.9" dy="-3.3" style="stroke-width:0.1px">-/-</tspan></text>
<rect x="622.3" y="742.4" width="18" height="1.7" fill="#f08a8a"/>
<path d="M631.3 739.2L634.1 743.2L631.3 747.2L628.5 743.2Z" fill="#f08a8a"/>
<text x="644.8" y="739.5" font-size="9" font-style="italic">IFNAR<tspan font-size="5.9" dy="-3.3" style="stroke-width:0.1px">-/-</tspan></text>
<text x="644.8" y="750.2" font-size="9" font-style="italic">RelB<tspan font-size="5.9" dy="-3.3" style="stroke-width:0.1px">-/-</tspan></text>
<rect x="622.3" y="775.9" width="18" height="1.7" fill="#44dc80"/>
<ellipse cx="631.3" cy="776.7" rx="2.8" ry="4.2" fill="#44dc80"/>
<text x="644.8" y="773.0" font-size="9" font-style="italic">IFNAR<tspan font-size="5.9" dy="-3.3" style="stroke-width:0.1px">-/-</tspan></text>
<text x="644.8" y="783.7" font-size="9" font-style="italic">RelB<tspan font-size="5.9" dy="-3.3" style="stroke-width:0.1px">DB/DB</tspan></text>
</svg>
<div id="hm"><div style="left:33.00px;top:67px;width:12.57px;height:120px;background:linear-gradient(#4a4ac8 0 1px,#3939c1 0 2px,#4a4ac8 0 3px,#5656cd 0 4px,#5d5dd0 0 5px,#6060d1 0 6px,#6161d1 0 7px,#4444c6 0 8px,#5e5ed0 0 9px,#4f4fca 0 10px,#2a2ab9 0 11px,#3737bf 0 12px,#3c3cc2 0 13px,#3f3fc4 0 14px,#5151cb 0 15px,#5353cb 0 16px,#5858ce 0 17px,#4d4dca 0 18px,#6262d2 0 19px,#3d3dc1 0 20px,#4d4dc9 0 21px,#4b4bc9 0 22px,#3131bd 0 23px,#3535bf 0 24px,#4f4fca 0 25px,#4040c4 0 26px,#4949c8 0 27px,#5959ce 0 28px,#5b5bcf 0 29px,#6969d4 0 30px,#4343c5 0 31px,#5f5fd1 0 32px,#5c5ccf 0 33px,#5353cb 0 34px,#3131bc 0 35px,#4a4ac8 0 36px,#6868d3 0 37px,#6767d4 0 38px,#5858ce 0 39px,#7070d7 0 40px,#5454cc 0 41px,#5c5ccf 0 42px,#5454cc 0 43px,#5f5fd1 0 44px,#4747c6 0 45px,#2727b6 0 46px,#4a4ac8 0 47px,#6060d0 0 48px,#3737c0 0 49px,#4e4eca 0 50px,#4141c4 0 51px,#5a5acf 0 52px,#6060d1 0 53px,#4a4ac8 0 54px,#5757ce 0 55px,#3c3cc2 0 56px,#4141c4 0 57px,#3939c0 0 58px,#6666d3 0 59px,#5252cb 0 60px,#3535bf 0 61px,#5e5ed0 0 62px,#4343c5 0 63px,#4141c4 0 64px,#3a3ac1 0 65px,#5959ce 0 66px,#3535bd 0 67px,#5050cb 0 68px,#4545c6 0 69px,#2323b4 0 70px,#3f3fc4 0 71px,#3333bd 0 72px,#5151cb 0 74px,#5a5acf 0 75px,#4f4fca 0 76px,#4242c5 0 77px,#4646c7 0 78px,#5151cb 0 79px,#4f4fca 0 80px,#3434bd 0 81px,#4d4dc9 0 82px,#5959ce 0 83px,#4e4eca 0 84px,#4a4ac7 0 85px,#5d5dd0 0 86px,#5a5ace 0 87px,#5050cb 0 88px,#4444c4 0 89px,#5353cb 0 90px,#4747c6 0 91px,#4848c7 0 92px,#4b4bc9 0 93px,#4848c7 0 94px,#5353cc 0 95px,#4949c8 0 96px,#3f3fc3 0 97px,#4141c5 0 98px,#5b5bcf 0 99px,#6262d2 0 100px,#3535bd 0 101px,#5151ca 0 102px,#4e4eca 0 103px,#4c4cc9 0 104px,#4949c8 0 105px,#3535be 0 106px,#5a5ace 0 107px,#4c4cc8 0 108px,#6868d4 0 109px,#5b5bcf 0 110px,#3535be 0 111px,#4848c7 0 112px,#5a5acf 0 113px,#7171d7 0 114px,#5656cd 0 115px,#4848c7 0 116px,#5b5bcf 0 117px,#5a5acf 0 118px,#5151cb 0 119px,#cecef1 0 120px)"></div><div style="left:45.58px;top:67px;width:12.57px;height:120px;background:linear-gradient(#4c4cc9 0 1px,#6c6cd5 0 2px,#4a4ac8 0 3px,#6d6dd6 0 4px,#5c5cd0 0 5px,#5a5acf 0 6px,#6767d3 0 7px,#4646c6 0 8px,#7575d8 0 9px,#6767d4 0 10px,#3636bf 0 11px,#4848c6 0 12px,#3b3bc1 0 13px,#4141c4 0 14px,#5656cd 0 15px,#6e6ed6 0 16px,#4c4cc9 0 17px,#5353cc 0 18px,#6767d4 0 19px,#6c6cd5 0 20px,#6565d3 0 21px,#6161d1 0 22px,#5151cb 0 23px,#5757cd 0 24px,#3d3dc2 0 25px,#5757cc 0 26px,#6868d3 0 27px,#3c3cc2 0 28px,#4444c5 0 29px,#5f5fd1 0 30px,#4141c4 0 31px,#4b4bc9 0 32px,#4040c3 0 33px,#4b4bc8 0 34px,#3333bd 0 35px,#5050cb 0 36px,#5b5bcf 0 37px,#5757ce 0 38px,#5454cc 0 39px,#6666d3 0 40px,#5656cd 0 41px,#4141c4 0 42px,#4242c5 0 43px,#5151cb 0 44px,#5050cb 0 45px,#4848c7 0 47px,#6666d3 0 48px,#2f2fb8 0 49px,#4141c4 0 50px,#4343c5 0 51px,#6161d1 0 53px,#6363d2 0 54px,#4d4dc9 0 55px,#4949c8 0 56px,#5252cc 0 57px,#3939bf 0 58px,#5c5ccf 0 59px,#6363d2 0 60px,#5151cb 0 61px,#4f4fca 0 62px,#2828b7 0 63px,#5252cb 0 64px,#5050cb 0 65px,#5252cc 0 66px,#4242c5 0 67px,#6363d2 0 68px,#5d5dd0 0 69px,#4141c4 0 70px,#6161d1 0 71px,#4f4fca 0 72px,#5151cb 0 73px,#4949c8 0 74px,#3737bf 0 75px,#5c5cd0 0 76px,#4848c7 0 77px,#6262d1 0 78px,#6161d1 0 79px,#4f4fca 0 80px,#3636bf 0 81px,#7171d7 0 82px,#5050cb 0 83px,#4040c4 0 84px,#4e4eca 0 85px,#7070d7 0 86px,#6161d1 0 87px,#7676d9 0 88px,#5757cd 0 89px,#6f6fd6 0 90px,#5353cb 0 91px,#3e3ec3 0 92px,#5e5ed0 0 93px,#4444c6 0 94px,#4f4fca 0 95px,#4747c7 0 96px,#4848c8 0 97px,#4848c7 0 98px,#6f6fd6 0 99px,#6464d2 0 100px,#4b4bc7 0 101px,#5f5fd0 0 102px,#7676d9 0 103px,#5757cd 0 104px,#5151cb 0 105px,#2525b3 0 106px,#4b4bc9 0 107px,#4747c7 0 108px,#4646c6 0 109px,#4d4dca 0 110px,#5454cc 0 111px,#5353cc 0 112px,#4141c4 0 113px,#6666d2 0 114px,#3232bd 0 115px,#3a3ac1 0 116px,#6262d2 0 117px,#5c5ccf 0 118px,#5353cc 0 119px,#cacaef 0 120px)"></div><div style="left:58.15px;top:67px;width:12.57px;height:120px;background:linear-gradient(#cbcbf2 0 1px,#d2d2f3 0 2px,#8383dd 0 3px,#c0c0ef 0 4px,#c9c9f2 0 5px,#7575d6 0 6px,#cbcbf2 0 7px,#a7a7e8 0 8px,#e5d7ea 0 9px,#bdbdee 0 10px,#7b7bda 0 11px,#9999e3 0 12px,#5656cc 0 13px,#3232b5 0 14px,#bcbceb 0 15px,#c2c2ef 0 16px,#cecef3 0 17px,#9494e3 0 18px,#b2b2eb 0 19px,#9595e2 0 20px,#b8b8ed 0 21px,#9a9ae4 0 22px,#8f8fe0 0 23px,#c4c4f0 0 24px,#8585de 0 25px,#ababe9 0 26px,#9797e3 0 27px,#c6c6f1 0 28px,#9b9be4 0 29px,#c9c9f2 0 30px,#6868d0 0 31px,#bdbdee 0 32px,#acacea 0 33px,#a9a9e9 0 34px,#4848c2 0 35px,#9f9fe6 0 36px,#b4b4ec 0 37px,#c2c2f0 0 38px,#b6b6ec 0 39px,#9494e3 0 40px,#7070d6 0 41px,#9292e2 0 42px,#c1c1ef 0 43px,#9696e3 0 44px,#b0b0ea 0 45px,#6161d0 0 46px,#b8b8ed 0 47px,#b3b3eb 0 48px,#5e5ecf 0 49px,#8686de 0 50px,#7c7cdb 0 51px,#e3cee3 0 52px,#b0a1db 0 53px,#b1b1eb 0 54px,#a7a7e8 0 55px,#b4b4ec 0 56px,#bbbbee 0 57px,#7070d7 0 58px,#bebeed 0 59px,#7c7cdb 0 60px,#7777d9 0 61px,#8e8ee1 0 62px,#7171d7 0 63px,#9696e3 0 64px,#d1d1f3 0 65px,#9d9de5 0 66px,#aaaae9 0 67px,#9999e3 0 68px,#c4b1db 0 69px,#9d9ce3 0 70px,#8080db 0 71px,#9999e4 0 72px,#bebeef 0 73px,#7e7edb 0 74px,#7e7edc 0 75px,#9c9ce5 0 76px,#7b7bdb 0 77px,#9f9fe5 0 78px,#9494e1 0 79px,#9494e2 0 80px,#7676d8 0 81px,#a4a4e7 0 82px,#b3b3ec 0 83px,#9898e3 0 84px,#b5b5ec 0 85px,#d8d3f0 0 86px,#b6aadf 0 87px,#9393e2 0 88px,#bbbbec 0 89px,#c7c7f1 0 90px,#b4b4ec 0 91px,#7979d9 0 92px,#b7b7ed 0 93px,#7676d8 0 94px,#c2c2f0 0 95px,#6262ce 0 96px,#a1a1e6 0 97px,#9c9ce5 0 98px,#cdcaef 0 99px,#c8c7f0 0 100px,#9797e1 0 101px,#c8c8ef 0 102px,#afafea 0 103px,#d6d6f5 0 104px,#a1a1e7 0 105px,#4040bf 0 106px,#8c8ce0 0 107px,#a2a2e7 0 108px,#cfcff3 0 109px,#aeaeea 0 110px,#bfbfee 0 111px,#8181dd 0 112px,#9d9de5 0 113px,#bebeee 0 114px,#7676d9 0 115px,#7e7edc 0 116px,#a8a8e7 0 117px,#aeaee9 0 118px,#a4a4e6 0 119px,#d2d2f2 0 120px)"></div><div style="left:70.72px;top:67px;width:12.57px;height:120px;background:linear-gradient(#9d9de5 0 1px,#7b7bdb 0 2px,#9b9be4 0 3px,#a1a1e6 0 4px,#a2a2e7 0 5px,#c3c3f0 0 6px,#9d9de5 0 7px,#7878d9 0 8px,#babaed 0 9px,#8383da 0 10px,#4545c6 0 11px,#5f5fd0 0 12px,#6464d1 0 13px,#8585dd 0 14px,#7b7bda 0 15px,#8282dc 0 16px,#8d8de0 0 17px,#7c7cdb 0 18px,#cbcbf2 0 19px,#7f7fd9 0 20px,#6e6ed5 0 21px,#a1a1e6 0 22px,#6c6cd4 0 23px,#a7a7e8 0 24px,#6e6ed5 0 25px,#6262d0 0 26px,#a9a9e9 0 27px,#a5a5e7 0 28px,#5f5fce 0 29px,#9f9fe6 0 30px,#a1a1e6 0 31px,#6b6bd5 0 32px,#7f7fdb 0 33px,#9797e3 0 34px,#6565d3 0 35px,#6b6bd5 0 36px,#9595e3 0 37px,#9696e3 0 38px,#6969d4 0 39px,#9d9de5 0 40px,#8484dd 0 41px,#8b8be0 0 42px,#7373d8 0 43px,#8d8de0 0 44px,#8282dc 0 45px,#2929b8 0 46px,#7e7ed9 0 47px,#8e8edf 0 48px,#4b4bc9 0 49px,#6c6cd5 0 50px,#4848c7 0 51px,#8787de 0 53px,#8c8cdf 0 54px,#8989df 0 55px,#8888df 0 56px,#9f9fe5 0 57px,#8383dd 0 58px,#9292e2 0 59px,#9494e2 0 60px,#5252cb 0 61px,#6a6ad5 0 62px,#4a4ac8 0 63px,#8b8be0 0 64px,#a2a2e7 0 65px,#9c9ce5 0 66px,#7272d7 0 67px,#8383dd 0 68px,#8787de 0 69px,#4f4fca 0 70px,#6767d3 0 71px,#6464d3 0 72px,#7a7ada 0 73px,#8181dd 0 74px,#9e9ee5 0 75px,#4242c1 0 76px,#6363d1 0 77px,#c4c4f0 0 78px,#9292e0 0 79px,#8383dd 0 80px,#6a6ad4 0 81px,#9f9fe5 0 82px,#8e8ee0 0 83px,#9b9be4 0 84px,#8282dc 0 85px,#9d9de5 0 86px,#9595e3 0 87px,#8080dc 0 88px,#7f7fdc 0 89px,#bcbcee 0 90px,#8e8edf 0 91px,#7b7bda 0 92px,#a1a1e7 0 93px,#b2b2eb 0 94px,#a0a0e5 0 95px,#4343c2 0 96px,#9f9fe6 0 97px,#9898e4 0 99px,#9494e2 0 100px,#7878d6 0 101px,#6c6cd4 0 102px,#bbbbec 0 103px,#ccccf2 0 104px,#6b6bd5 0 105px,#4848c7 0 106px,#8787dd 0 107px,#7777d8 0 108px,#a0a0e5 0 109px,#8b8bde 0 110px,#9191e1 0 111px,#7373d8 0 112px,#6f6fd6 0 113px,#7474d8 0 114px,#3636bf 0 115px,#4242c4 0 116px,#9696e3 0 117px,#a3a3e7 0 118px,#8c8cdf 0 119px,#cecef1 0 120px)"></div><div style="left:86.00px;top:67px;width:12.57px;height:120px;background:linear-gradient(#5d5dd0 0 1px,#6868d4 0 2px,#5c5ccf 0 3px,#6f6fd6 0 4px,#8b8be0 0 5px,#7878d9 0 6px,#6767d4 0 7px,#6565d3 0 8px,#8181dd 0 9px,#7979da 0 10px,#4040c3 0 11px,#4545c5 0 12px,#5a5acf 0 13px,#6565d3 0 14px,#7373d8 0 15px,#6d6dd6 0 16px,#5b5bcf 0 17px,#7373d8 0 18px,#8585de 0 19px,#5353cb 0 20px,#6868d4 0 21px,#6262d2 0 22px,#5c5cd0 0 23px,#5f5fd1 0 24px,#5959ce 0 25px,#6d6dd6 0 26px,#7373d8 0 27px,#7676d9 0 28px,#5353cc 0 29px,#7a7ada 0 30px,#5e5ed0 0 31px,#5959ce 0 32px,#7171d7 0 33px,#5c5cd0 0 34px,#5f5fd1 0 35px,#6565d3 0 36px,#6060d1 0 37px,#8989df 0 38px,#6e6ed6 0 39px,#6363d2 0 40px,#6060d1 0 41px,#5555cd 0 42px,#6565d3 0 43px,#6767d3 0 44px,#7878da 0 45px,#6262d2 0 46px,#7d7ddb 0 47px,#6767d3 0 48px,#3333bd 0 49px,#6363d2 0 50px,#5a5acf 0 51px,#6b6bd5 0 52px,#6363d2 0 53px,#6666d2 0 54px,#7a7ada 0 55px,#5e5ed0 0 56px,#5f5fd1 0 57px,#7373d8 0 58px,#6565d3 0 60px,#4f4fca 0 61px,#4c4cc9 0 63px,#7272d7 0 64px,#4242c5 0 65px,#5353cb 0 67px,#5858ce 0 68px,#5050cb 0 69px,#5959ce 0 70px,#7676d9 0 71px,#6c6cd5 0 72px,#6060d1 0 73px,#7676d9 0 74px,#5555cc 0 75px,#6565d3 0 76px,#6262d2 0 77px,#5353cc 0 78px,#6262d1 0 79px,#6e6ed6 0 80px,#4d4dc9 0 81px,#4545c6 0 82px,#7c7cdb 0 83px,#7575d8 0 84px,#8282dd 0 85px,#7979d9 0 86px,#7171d6 0 87px,#7b7bda 0 88px,#5f5fd0 0 89px,#6767d3 0 90px,#7272d8 0 91px,#5454cc 0 92px,#5e5ed0 0 93px,#6464d3 0 94px,#6666d3 0 95px,#6363d2 0 96px,#8080dc 0 97px,#6868d4 0 98px,#5f5fd1 0 99px,#7c7cdb 0 100px,#7474d8 0 101px,#6464d3 0 102px,#7474d8 0 103px,#6e6ed6 0 104px,#7676d9 0 105px,#6767d3 0 106px,#5858cd 0 107px,#7575d8 0 108px,#5b5bce 0 109px,#7d7ddb 0 110px,#8282dc 0 111px,#4b4bc9 0 112px,#5656cd 0 113px,#7474d8 0 114px,#6d6dd6 0 115px,#6767d4 0 116px,#5454ca 0 117px,#4b4bc8 0 118px,#6262d2 0 119px,#c9c9ef 0 120px)"></div><div style="left:98.58px;top:67px;width:12.57px;height:120px;background:linear-gradient(#5e5ed0 0 1px,#5656cd 0 2px,#6565d3 0 3px,#6060d1 0 4px,#7575d9 0 5px,#7474d8 0 6px,#8989df 0 7px,#6363d2 0 8px,#7878d9 0 9px,#7373d8 0 10px,#4747c6 0 11px,#5959ce 0 12px,#6969d4 0 13px,#6d6dd5 0 14px,#8b8be0 0 15px,#8585de 0 16px,#5c5ccf 0 17px,#8686de 0 18px,#8080dc 0 19px,#8383dd 0 20px,#6262d2 0 21px,#5151cb 0 22px,#7878d9 0 23px,#6969d4 0 24px,#8484dd 0 25px,#7070d7 0 26px,#7272d7 0 27px,#7676d8 0 28px,#7d7ddb 0 29px,#5b5bcf 0 30px,#4c4cc9 0 31px,#5555cc 0 32px,#5454cc 0 33px,#7070d7 0 34px,#5050ca 0 35px,#5353cc 0 36px,#7c7cdb 0 38px,#6f6fd6 0 39px,#6666d3 0 41px,#5353cc 0 42px,#4747c7 0 43px,#4f4fca 0 44px,#5555cd 0 45px,#6e6ed6 0 46px,#5b5bcf 0 47px,#6a6ad4 0 48px,#2b2bb8 0 49px,#5656cd 0 50px,#5858ce 0 51px,#6464d3 0 52px,#5757ce 0 53px,#8383dd 0 54px,#7373d8 0 55px,#5353cc 0 56px,#8787de 0 57px,#5959ce 0 58px,#7575d9 0 59px,#5555cd 0 60px,#4343c5 0 61px,#6363d2 0 62px,#5c5ccf 0 63px,#7575d7 0 64px,#5252cb 0 65px,#6666d3 0 66px,#4f4fca 0 67px,#7777d9 0 68px,#5c5cd0 0 69px,#5d5dd0 0 70px,#5959ce 0 71px,#5858cd 0 72px,#5f5fd0 0 73px,#7171d7 0 74px,#5858ce 0 75px,#6e6ed6 0 76px,#7e7edb 0 77px,#5b5bcf 0 78px,#7676d8 0 79px,#6b6bd5 0 80px,#5858ce 0 81px,#7272d7 0 82px,#7b7bda 0 83px,#7575d9 0 84px,#7272d8 0 85px,#5b5bcf 0 86px,#6e6ed4 0 87px,#6e6ed6 0 88px,#6262d1 0 89px,#7171d7 0 90px,#6464d3 0 91px,#5f5fd1 0 92px,#5b5bcf 0 93px,#5858ce 0 94px,#6565d3 0 95px,#5d5dd0 0 96px,#4f4fca 0 97px,#5858ce 0 98px,#6161d1 0 99px,#5f5fd1 0 100px,#6464d2 0 101px,#7474d8 0 102px,#7b7bda 0 103px,#7272d7 0 104px,#4e4eca 0 105px,#6060d1 0 106px,#6565d3 0 107px,#6767d4 0 108px,#5c5cd0 0 109px,#7474d8 0 110px,#7676d9 0 111px,#6161d1 0 112px,#4747c7 0 113px,#7777d9 0 114px,#5757cd 0 115px,#6161d2 0 116px,#5151cb 0 117px,#5f5fd0 0 118px,#7373d8 0 119px,#d5d5f3 0 120px)"></div><div style="left:111.15px;top:67px;width:12.57px;height:120px;background:linear-gradient(#d1d1f4 0 1px,#f8e9ef 0 2px,#fff2f2 0 3px,#ededfb 0 4px,#ebeaf9 0 5px,#d7d5f3 0 6px,#e6e6f9 0 7px,#ececfa 0 8px,#eadeee 0 9px,#9292e1 0 10px,#8686de 0 11px,#8383dd 0 12px,#9191e1 0 13px,#b7b7ea 0 14px,#f9e5e9 0 15px,#f7d6dc 0 16px,#c5c5f0 0 17px,#fbf7fa 0 18px,#fae7ea 0 19px,#bebeee 0 20px,#eaeafa 0 21px,#efeffb 0 22px,#ebebfa 0 23px,#b1b1eb 0 24px,#dcc9e2 0 25px,#ccc9ee 0 26px,#eee7f4 0 27px,#ebddec 0 28px,#e6e6f9 0 29px,#c3c3f0 0 30px,#9696e2 0 31px,#f2e5ef 0 32px,#bdb8e9 0 33px,#9d9de5 0 34px,#f0d7e2 0 35px,#d8d8f5 0 36px,#bbb8ea 0 37px,#ffdada 0 38px,#eebbc7 0 39px,#adade9 0 40px,#aeaeea 0 41px,#8686dd 0 42px,#8686de 0 43px,#ababe9 0 44px,#7e7edc 0 45px,#a1a1e6 0 46px,#e2e0f6 0 47px,#beb4e2 0 48px,#7070d6 0 49px,#9a9ae2 0 50px,#b5b5ea 0 51px,#ede3f1 0 52px,#958eda 0 53px,#cdcdf2 0 54px,#f9ced3 0 55px,#b1b1eb 0 56px,#9898e3 0 57px,#c5c2ed 0 58px,#b9b7ea 0 59px,#9c9ce5 0 60px,#d6d6f5 0 61px,#d5d0ef 0 62px,#8282dd 0 63px,#c6c6f0 0 64px,#b2b2eb 0 65px,#c9c9f2 0 66px,#c3c3f0 0 67px,#cec9ed 0 68px,#f1eaf5 0 69px,#acacea 0 70px,#8a8adf 0 71px,#b2b2eb 0 72px,#e4e4f9 0 73px,#f3f3fc 0 74px,#d7d7f5 0 75px,#e5e0f3 0 76px,#ffdede 0 77px,#d0ccf0 0 78px,#d9d9f5 0 79px,#cdcdf3 0 80px,#b1b1eb 0 81px,#eae2f2 0 82px,#e5c4d8 0 83px,#f0dce7 0 84px,#d7d7f5 0 85px,#bdbdee 0 86px,#c8c2ea 0 87px,#f2d0da 0 88px,#efa4b0 0 89px,#f3cbd5 0 90px,#c4c4f0 0 92px,#bbbbed 0 93px,#d6d6f4 0 94px,#cab8e0 0 95px,#645ec7 0 96px,#bdbdee 0 97px,#dadaf6 0 98px,#d3d3f4 0 99px,#e5e5f8 0 100px,#9c9ce5 0 101px,#a099df 0 102px,#e8cadc 0 103px,#d0d0f3 0 104px,#b3b3ec 0 105px,#e1e1f7 0 106px,#dfdff7 0 107px,#e4e4f8 0 108px,#6a6ad4 0 109px,#b6b6ec 0 110px,#cdcdf2 0 111px,#b6b1e6 0 112px,#ddadc6 0 113px,#dcdcf6 0 114px,#b3b3eb 0 115px,#dcdaf4 0 116px,#ae95cb 0 117px,#b1b1e7 0 118px,#cbcbf2 0 119px,#e8e8f9 0 120px)"></div><div style="left:123.72px;top:67px;width:12.57px;height:120px;background:linear-gradient(#6262d1 0 1px,#4b4bc8 0 2px,#c8c8f1 0 3px,#cfcff3 0 4px,#9191e0 0 5px,#c7c7f1 0 6px,#aaaae9 0 7px,#bdbdee 0 8px,#eae8f8 0 9px,#d3d3f4 0 10px,#7a7ada 0 11px,#a2a2e6 0 12px,#d8d8f5 0 13px,#bfbfef 0 14px,#d4d4f4 0 15px,#ddb6cf 0 16px,#c4beea 0 17px,#e1b2c9 0 18px,#eab9c8 0 19px,#bcbcee 0 20px,#d6d6f5 0 21px,#e7e7f9 0 22px,#e1d3e9 0 23px,#8e8ee1 0 24px,#dfdff7 0 25px,#c4c4f0 0 26px,#9f9fe6 0 27px,#dbdbf6 0 28px,#cbcbf2 0 29px,#b6b6ec 0 30px,#dadaf6 0 31px,#d3d3f4 0 32px,#e2e2f8 0 33px,#c5c5f0 0 34px,#babaed 0 36px,#f9e4e9 0 37px,#fedfe0 0 38px,#f9c9cd 0 39px,#e7c4d7 0 40px,#d9c9e6 0 41px,#8686de 0 42px,#7474d8 0 43px,#aaaae8 0 44px,#b9b9ec 0 45px,#8e81cf 0 46px,#ffdddd 0 47px,#ddddf6 0 48px,#7979d9 0 49px,#9f9fe6 0 50px,#8080dc 0 51px,#b9b9ed 0 52px,#c3c3f0 0 53px,#d5d5f5 0 54px,#f0eefa 0 55px,#ebebfa 0 56px,#c0c0ef 0 57px,#d2cbed 0 58px,#f8f2f8 0 59px,#8a8adf 0 60px,#8484de 0 61px,#ebebfa 0 62px,#b4b4ec 0 63px,#d1d1f3 0 64px,#b8b8ed 0 65px,#8282dd 0 66px,#8686de 0 67px,#d7d7f4 0 68px,#8484de 0 69px,#a4a4e7 0 70px,#b1b1eb 0 71px,#c7c7f1 0 72px,#bebeef 0 73px,#f0dfea 0 74px,#c2c2f0 0 75px,#b0aae4 0 76px,#bcb3e4 0 77px,#c4c4f0 0 78px,#e5def1 0 79px,#a4a3e6 0 80px,#9999e4 0 81px,#e9e7f8 0 82px,#f1edf8 0 83px,#d7d7f4 0 84px,#c7b4dd 0 85px,#e9d9e9 0 86px,#b6b6ec 0 87px,#efe3ef 0 88px,#f3d7e0 0 89px,#e9ccdd 0 90px,#a4a4e7 0 91px,#e2e1f7 0 92px,#c2c2ef 0 93px,#ebebfa 0 94px,#e3d9ee 0 95px,#8f8cdd 0 96px,#8e8ee0 0 97px,#b9b9ed 0 98px,#bfbfef 0 99px,#ddddf7 0 101px,#eadfef 0 102px,#e5b6ca 0 103px,#d0d0f3 0 104px,#b7b7ec 0 105px,#bcbcee 0 106px,#9595e3 0 107px,#9999e4 0 108px,#a4a4e7 0 109px,#eaeafa 0 110px,#cbcbf2 0 111px,#aeaeea 0 112px,#9d9de5 0 113px,#d3d3f4 0 114px,#a7a7e8 0 115px,#b0b0eb 0 116px,#5f5fcf 0 117px,#bebeea 0 118px,#d9d4f0 0 119px,#e0e0f7 0 120px)"></div><div style="left:139.00px;top:67px;width:12.57px;height:120px;background:linear-gradient(#6a6ad4 0 1px,#3939c0 0 2px,#5454cc 0 3px,#5555cd 0 4px,#4f4fca 0 5px,#4b4bc8 0 6px,#6565d3 0 7px,#3b3bc1 0 8px,#5f5fd0 0 9px,#5d5dd0 0 10px,#3131bc 0 11px,#4040c3 0 12px,#5454cc 0 13px,#6464d2 0 14px,#5e5ed0 0 15px,#5d5dcf 0 16px,#5858ce 0 17px,#4242c4 0 18px,#5f5fd0 0 19px,#5555cd 0 20px,#5757cd 0 21px,#4848c7 0 22px,#6767d4 0 23px,#5656cd 0 24px,#3737c0 0 25px,#5555cc 0 26px,#5454cc 0 27px,#4444c5 0 28px,#4c4cc9 0 29px,#5a5ace 0 30px,#4848c7 0 31px,#4e4eca 0 32px,#3b3bc1 0 33px,#4646c7 0 34px,#4040c4 0 35px,#5353cc 0 36px,#7373d7 0 37px,#4949c7 0 38px,#5555cd 0 39px,#4d4dc9 0 40px,#5d5dd0 0 41px,#4343c5 0 42px,#4d4dc9 0 43px,#4747c7 0 44px,#4343c5 0 45px,#3232bd 0 46px,#6161d1 0 47px,#5d5dd0 0 48px,#2e2eba 0 49px,#3737c0 0 50px,#4b4bc8 0 51px,#7272d7 0 52px,#7171d7 0 53px,#4646c6 0 54px,#5151cb 0 55px,#7777d9 0 56px,#7878d9 0 57px,#2f2fba 0 58px,#5252cc 0 59px,#5e5ed0 0 60px,#4949c8 0 61px,#5858cd 0 62px,#3636bf 0 63px,#8181dc 0 64px,#5a5acf 0 65px,#3e3ec3 0 66px,#3939c1 0 67px,#5959ce 0 68px,#6f6fd7 0 69px,#4646c7 0 70px,#5050cb 0 71px,#6b6bd4 0 72px,#4f4fca 0 73px,#6969d4 0 74px,#4c4cc9 0 75px,#5b5bcf 0 76px,#4646c7 0 77px,#5353cc 0 78px,#4747c7 0 79px,#3d3dc3 0 80px,#4a4ac8 0 81px,#7272d7 0 82px,#6060d1 0 83px,#5f5fd1 0 84px,#6363d2 0 85px,#5757ce 0 86px,#4343c5 0 87px,#4c4cc9 0 88px,#6969d4 0 89px,#7272d7 0 90px,#5353cc 0 91px,#4141c4 0 92px,#4b4bc7 0 93px,#5757cd 0 94px,#4949c8 0 95px,#5555cc 0 96px,#4949c5 0 97px,#6969d4 0 98px,#5555cc 0 99px,#5252cb 0 100px,#5757ce 0 101px,#6868d4 0 102px,#6161d1 0 103px,#4c4cc9 0 104px,#5454cc 0 105px,#4141c4 0 106px,#4545c5 0 107px,#4747c7 0 108px,#4040c3 0 109px,#6262d2 0 110px,#6262d0 0 111px,#4e4eca 0 112px,#4d4dc9 0 113px,#3c3cc2 0 114px,#4848c7 0 115px,#6060d1 0 116px,#4b4bc9 0 117px,#5858ce 0 118px,#6060d0 0 119px,#c4c4ed 0 120px)"></div><div style="left:151.57px;top:67px;width:12.57px;height:120px;background:linear-gradient(#6363d2 0 1px,#4f4fca 0 2px,#4c4cc9 0 3px,#7272d8 0 4px,#6060d1 0 5px,#6e6ed6 0 6px,#6a6ad4 0 7px,#5959ce 0 8px,#4d4dc9 0 9px,#6565d3 0 10px,#5e5ecf 0 11px,#3e3ec3 0 12px,#3636bf 0 13px,#5c5ccf 0 14px,#6363d2 0 15px,#5454cc 0 16px,#5555cd 0 17px,#4f4fca 0 18px,#7a7ada 0 19px,#6363d2 0 20px,#4545c6 0 21px,#5959ce 0 22px,#6d6dd6 0 23px,#6060d1 0 24px,#5c5ccf 0 25px,#5959ce 0 26px,#4e4eca 0 27px,#5959ce 0 28px,#3f3fc3 0 29px,#4d4dc9 0 30px,#2f2fba 0 31px,#5050cb 0 32px,#4d4dc9 0 34px,#4f4fca 0 35px,#6262d2 0 36px,#6565d3 0 37px,#7a7ada 0 38px,#7b7bda 0 39px,#6060d1 0 40px,#7777d9 0 41px,#4747c7 0 42px,#4545c6 0 43px,#4c4cc9 0 44px,#3d3dc2 0 45px,#4e4eca 0 46px,#7575d8 0 47px,#6666d3 0 48px,#3a3abf 0 49px,#3535bf 0 50px,#3c3cc1 0 51px,#6363d2 0 52px,#6a6ad5 0 53px,#4d4dc9 0 54px,#6a6ad5 0 55px,#6767d4 0 56px,#6666d3 0 57px,#4040c4 0 58px,#6262d1 0 59px,#7373d8 0 60px,#4e4eca 0 61px,#4242c5 0 62px,#5050cb 0 63px,#6c6cd5 0 64px,#6666d3 0 65px,#6262d2 0 66px,#6060d1 0 67px,#4c4cc9 0 68px,#7070d7 0 69px,#4242c4 0 70px,#6a6ad5 0 71px,#5a5acf 0 72px,#6e6ed6 0 73px,#7a7ada 0 74px,#4e4ec9 0 75px,#6161d0 0 76px,#3636bf 0 77px,#6b6bd5 0 78px,#5656cd 0 79px,#3e3ec3 0 80px,#3d3dc2 0 81px,#6666d3 0 82px,#5e5ed0 0 83px,#6464d3 0 84px,#6666d3 0 85px,#6464d3 0 86px,#5050ca 0 87px,#5656cd 0 88px,#5f5fd0 0 89px,#6868d4 0 90px,#5656cd 0 91px,#5555cd 0 92px,#6565d3 0 93px,#6b6bd5 0 94px,#6c6cd5 0 95px,#5555cd 0 96px,#5a5acf 0 97px,#5555cd 0 98px,#4a4ac8 0 99px,#5c5ccf 0 100px,#6565d3 0 101px,#5656cd 0 102px,#4f4fcb 0 103px,#4d4dca 0 104px,#5d5dd0 0 105px,#6060d1 0 106px,#5050ca 0 107px,#4a4ac8 0 108px,#6060d0 0 109px,#7a7ada 0 110px,#4e4eca 0 111px,#6363d2 0 112px,#5a5ace 0 113px,#3b3bc2 0 114px,#4b4bc9 0 115px,#4343c5 0 116px,#4a4ac8 0 117px,#4141c4 0 118px,#7070d6 0 119px,#c9c9ef 0 120px)"></div><div style="left:164.15px;top:67px;width:12.57px;height:120px;background:linear-gradient(#bebeef 0 1px,#7c7cdb 0 2px,#a2a2e7 0 3px,#d3a6c6 0 4px,#7e7cda 0 5px,#cfcbed 0 6px,#ededfa 0 7px,#adade9 0 8px,#bdbdee 0 9px,#b9b9ed 0 10px,#5d5dcf 0 11px,#9f9fe5 0 12px,#9090e1 0 13px,#cecef3 0 14px,#e5dbee 0 15px,#d8d8f5 0 16px,#ababe9 0 18px,#d3c7e8 0 19px,#b49ed5 0 20px,#b1b1eb 0 21px,#ccccf2 0 22px,#c2c2ef 0 23px,#c1c1ee 0 24px,#a1a1e6 0 25px,#c4c4f0 0 26px,#a3a3e7 0 27px,#bcbcee 0 28px,#a8a8e8 0 29px,#cacaf1 0 30px,#c5c5f0 0 31px,#c3c3ef 0 32px,#7b7bd7 0 33px,#cdcdf2 0 34px,#b8b8ed 0 35px,#afafea 0 36px,#cfcff3 0 37px,#ffe4e4 0 38px,#f1cad5 0 39px,#9e9ee6 0 40px,#ababe9 0 41px,#a7a7e7 0 42px,#cbcbf2 0 43px,#b5b5ec 0 44px,#9898e4 0 45px,#d5d5f4 0 46px,#dcd9f4 0 47px,#ccbadf 0 48px,#7676d9 0 49px,#6b6bd5 0 50px,#b3b2ea 0 51px,#f9f3f8 0 52px,#cbcbf2 0 53px,#fffbfb 0 54px,#f3f1fb 0 55px,#e9ddee 0 56px,#e5e5f8 0 57px,#8f8fde 0 58px,#fcf5f7 0 59px,#f2dde7 0 60px,#c3c3f0 0 61px,#9494e2 0 62px,#8989df 0 63px,#c3a5cf 0 64px,#c1a1cc 0 65px,#a8a7e8 0 66px,#d8d8f5 0 67px,#c7b7e0 0 68px,#f4e1e9 0 69px,#ebeaf9 0 70px,#e3e2f7 0 71px,#f2eaf4 0 72px,#d4c9ea 0 73px,#ece9f7 0 74px,#a6a6e8 0 75px,#b4b4ec 0 76px,#afafea 0 77px,#e2c3d8 0 78px,#c8c8f1 0 79px,#ababe9 0 80px,#8787de 0 81px,#d8c4e0 0 82px,#cfc3e7 0 83px,#bfb4e4 0 84px,#cdbde2 0 85px,#eaeafa 0 86px,#a4a4e5 0 87px,#d7cae7 0 88px,#8c8ce0 0 89px,#e4c6da 0 90px,#bdbdee 0 91px,#6060cf 0 92px,#bbbbee 0 93px,#b5b5ec 0 94px,#9a9ae4 0 95px,#9f9fe6 0 96px,#eae3f3 0 97px,#c3c0ed 0 98px,#9393e2 0 99px,#f0edf8 0 100px,#d1d1f3 0 101px,#ebd7e6 0 102px,#fff8f8 0 103px,#f6f6fd 0 104px,#ededfb 0 105px,#a5a5e7 0 106px,#bcbcee 0 107px,#babaed 0 108px,#b6b6ec 0 109px,#c6c6f1 0 110px,#a1a1e6 0 111px,#a4a4e7 0 112px,#cecef3 0 113px,#5b5bca 0 114px,#8b8be0 0 115px,#9d9de5 0 116px,#ddddf7 0 117px,#a5a5e7 0 118px,#b5b5ec 0 119px,#dbdbf5 0 120px)"></div><div style="left:176.72px;top:67px;width:12.57px;height:120px;background:linear-gradient(#bcbcee 0 1px,#7c7cd8 0 2px,#9a9ae4 0 3px,#cecef2 0 4px,#b5b5ec 0 5px,#e2b3c9 0 6px,#b0aee8 0 7px,#9d9de5 0 8px,#bbbbea 0 9px,#a8a8e5 0 10px,#7979d9 0 11px,#a0a0e4 0 12px,#7f7fdb 0 13px,#bcbcee 0 14px,#8686de 0 15px,#bfbfef 0 16px,#c3c3ef 0 17px,#8e8ee1 0 18px,#c5c2ed 0 19px,#bfb8e7 0 20px,#b7b7ea 0 21px,#6969d3 0 22px,#d9d9f5 0 23px,#9494e2 0 24px,#8282dc 0 25px,#9595e0 0 26px,#7373d8 0 27px,#8383dd 0 28px,#9b9be5 0 29px,#8383dc 0 30px,#7d7ddb 0 31px,#6e6ed6 0 32px,#b5b5eb 0 33px,#7d7ddb 0 34px,#7e7edb 0 35px,#8585de 0 36px,#d4cfef 0 37px,#fbe9ec 0 38px,#bcbaec 0 39px,#c5bee9 0 40px,#aeaeea 0 41px,#9797e3 0 42px,#8b8be0 0 43px,#cfc5e9 0 44px,#aea8e4 0 45px,#7676d7 0 46px,#bfbfef 0 47px,#b9b9ed 0 48px,#6767d3 0 49px,#7c7cda 0 50px,#9090e1 0 51px,#b2b2eb 0 52px,#bebeef 0 53px,#bbbbed 0 54px,#d2d2f3 0 55px,#b9b9eb 0 56px,#8989de 0 57px,#8980d2 0 58px,#b4ace3 0 59px,#e4e4f8 0 60px,#a3a3e7 0 61px,#9797e3 0 62px,#7777d9 0 63px,#ddcee7 0 64px,#dccce6 0 65px,#b7b6ec 0 66px,#aaaae9 0 67px,#acace9 0 68px,#9696e3 0 69px,#7c7cdb 0 70px,#b3b3ec 0 71px,#7070d5 0 72px,#ababe9 0 73px,#d3cbeb 0 74px,#6b6bd5 0 75px,#b9b9ed 0 76px,#a3a3e7 0 77px,#cec7ea 0 78px,#a6a6e6 0 79px,#6c6cd5 0 80px,#a9a9e8 0 81px,#ababe9 0 82px,#a1a1e6 0 83px,#a5a5e7 0 84px,#d9d9f6 0 85px,#dfdff7 0 86px,#7c7cda 0 87px,#c2c2ee 0 88px,#9797e3 0 89px,#d3d3f4 0 90px,#b7b7ec 0 91px,#8c8ce0 0 92px,#b2b2eb 0 93px,#7e7edb 0 94px,#9393e1 0 95px,#a6a6e8 0 96px,#9e9ee5 0 97px,#b2b2eb 0 98px,#8181dc 0 99px,#8d8de0 0 100px,#9696e3 0 101px,#b9b9ed 0 102px,#aeaee9 0 103px,#8e8ee1 0 104px,#9b9be4 0 105px,#6969d3 0 106px,#6363c9 0 107px,#7f7fdb 0 108px,#6c6cd5 0 109px,#9d9de4 0 110px,#9393da 0 111px,#6868d1 0 112px,#b9b9ed 0 113px,#5050c8 0 114px,#7b7bda 0 115px,#7070d6 0 116px,#a3a3e6 0 117px,#8484dd 0 118px,#bdbdee 0 119px,#e4e4f8 0 120px)"></div><div style="left:192.00px;top:67px;width:12.57px;height:120px;background:linear-gradient(#4e4eca 0 1px,#4646c6 0 2px,#3131bd 0 3px,#5151cb 0 4px,#6363d2 0 5px,#7272d7 0 6px,#3c3cc2 0 7px,#3535be 0 8px,#4e4eca 0 9px,#5555cd 0 10px,#5151cb 0 11px,#2727b7 0 12px,#3d3dc2 0 13px,#4141c4 0 14px,#5c5ccf 0 15px,#5959ce 0 16px,#6060d1 0 17px,#5050cb 0 18px,#5050ca 0 19px,#5151cb 0 20px,#5555cc 0 21px,#4343c5 0 22px,#6060d1 0 23px,#5858ce 0 24px,#5353cc 0 25px,#4a4ac8 0 26px,#4747c7 0 27px,#3c3cc1 0 28px,#4949c7 0 29px,#4e4ec9 0 30px,#3737be 0 31px,#5454cc 0 32px,#4c4cc9 0 33px,#4242c4 0 34px,#3535bf 0 35px,#4040c4 0 36px,#6060d1 0 37px,#5151cb 0 38px,#6161d2 0 39px,#5c5ccf 0 40px,#4545c6 0 41px,#2e2ebb 0 42px,#3c3cc2 0 43px,#5858ce 0 44px,#4343c5 0 45px,#2828b8 0 46px,#5d5dcf 0 47px,#4b4bc9 0 48px,#2c2cb9 0 49px,#5555cd 0 50px,#4a4ac8 0 51px,#5959ce 0 52px,#5454cd 0 53px,#4f4fca 0 54px,#6161d2 0 55px,#4242c5 0 56px,#6565d2 0 57px,#4343c5 0 58px,#6363d2 0 59px,#4646c6 0 60px,#5454cc 0 61px,#4747c7 0 62px,#3f3fc3 0 63px,#3a3ac1 0 64px,#4747c6 0 65px,#7676d8 0 66px,#5555cd 0 67px,#6060d1 0 68px,#5a5acf 0 69px,#5555cd 0 70px,#3b3bc2 0 71px,#5757cd 0 73px,#4040c4 0 74px,#3a3ac1 0 75px,#3c3cc2 0 76px,#4949c8 0 77px,#5151cb 0 78px,#5c5ccf 0 79px,#3030bb 0 80px,#5454cd 0 81px,#7070d7 0 82px,#6969d4 0 83px,#5757cd 0 84px,#4545c6 0 85px,#5f5fd1 0 86px,#5050cb 0 87px,#3d3dc2 0 88px,#5e5ed0 0 89px,#4848c8 0 90px,#6363d2 0 91px,#4a4ac8 0 92px,#4f4fca 0 93px,#3e3ec2 0 94px,#7f7fdc 0 95px,#5050ca 0 96px,#4646c6 0 97px,#4f4fca 0 98px,#5151cb 0 99px,#3838c0 0 100px,#4a4ac8 0 101px,#6565d3 0 102px,#6363d2 0 103px,#4747c6 0 104px,#4a4ac8 0 105px,#3838c0 0 106px,#3e3ec3 0 107px,#3737c0 0 108px,#3b3bc1 0 109px,#4646c6 0 110px,#6767d3 0 111px,#4646c6 0 112px,#5252cb 0 113px,#4545c6 0 114px,#3434be 0 115px,#4646c7 0 116px,#3939c1 0 117px,#3e3ec3 0 118px,#5959ce 0 119px,#c4c4ed 0 120px)"></div><div style="left:204.57px;top:67px;width:12.57px;height:120px;background:linear-gradient(#7373d8 0 1px,#5151cb 0 2px,#3535bd 0 3px,#4e4eca 0 4px,#6d6dd6 0 5px,#7171d7 0 6px,#5353cc 0 7px,#4b4bc9 0 8px,#5656cd 0 9px,#5353cc 0 10px,#5c5ccf 0 11px,#4141c4 0 12px,#3a3ac1 0 13px,#3f3fc3 0 14px,#5656cd 0 15px,#6f6fd6 0 16px,#6262d2 0 17px,#6868d4 0 18px,#6161d1 0 19px,#7373d8 0 20px,#3434be 0 21px,#5050c9 0 22px,#6d6dd6 0 23px,#6767d3 0 24px,#5353cc 0 25px,#6e6ed6 0 26px,#7272d8 0 27px,#6060d1 0 28px,#4a4ac8 0 29px,#5c5cce 0 30px,#5050ca 0 31px,#6262d2 0 32px,#5c5cd0 0 33px,#5656cd 0 34px,#4d4dc9 0 35px,#3939be 0 36px,#6565d3 0 37px,#5b5bcf 0 38px,#6e6ed6 0 39px,#6a6ad5 0 40px,#5656cd 0 41px,#3636bf 0 42px,#4545c6 0 43px,#5858ce 0 44px,#5454cc 0 45px,#5d5dce 0 46px,#7070d5 0 47px,#4343c5 0 48px,#4d4dc9 0 49px,#5959ce 0 50px,#5e5ed0 0 51px,#5252cc 0 52px,#6363d2 0 53px,#5252cc 0 54px,#6868d4 0 55px,#5f5fd0 0 56px,#8484dd 0 57px,#4b4bc9 0 58px,#5d5dd0 0 59px,#4c4cc8 0 60px,#3b3bc1 0 61px,#4f4fca 0 62px,#5151cb 0 63px,#5050cb 0 64px,#6363d2 0 65px,#8080dc 0 66px,#6b6bd5 0 67px,#8181dc 0 68px,#6d6dd6 0 69px,#5959ce 0 70px,#4f4fca 0 71px,#5959ce 0 72px,#5858ce 0 73px,#7070d7 0 74px,#5c5cd0 0 75px,#6969d4 0 76px,#6464d3 0 77px,#6666d3 0 78px,#7070d7 0 79px,#4949c8 0 80px,#7575d8 0 81px,#6363d2 0 82px,#8080dc 0 83px,#5757ce 0 84px,#6262d2 0 85px,#5e5ed0 0 86px,#4c4cc9 0 87px,#5050cb 0 88px,#6767d4 0 89px,#6b6bd5 0 90px,#5858ce 0 91px,#4d4dc9 0 92px,#6666d3 0 93px,#5353cc 0 94px,#6b6bd5 0 95px,#6464d1 0 96px,#3a3ac0 0 97px,#7777d9 0 98px,#4444c4 0 99px,#4646c6 0 100px,#4d4dca 0 101px,#6b6bd5 0 102px,#7777d9 0 103px,#6767d4 0 104px,#6060d1 0 105px,#3b3bc1 0 106px,#4f4fca 0 107px,#4747c7 0 108px,#4646c6 0 109px,#4747c7 0 110px,#6b6bd5 0 111px,#5252cb 0 112px,#6060d1 0 113px,#5252cc 0 114px,#3b3bc1 0 115px,#4848c8 0 116px,#4e4ec9 0 117px,#4d4dc9 0 118px,#4848c8 0 119px,#cacaef 0 120px)"></div><div style="left:217.15px;top:67px;width:12.57px;height:120px;background:linear-gradient(#c4c4f0 0 1px,#b9b9ed 0 2px,#8888df 0 3px,#c1c1ef 0 4px,#e4e4f8 0 5px,#bbbbee 0 6px,#a5a5e8 0 7px,#9999e4 0 8px,#b8b8ed 0 9px,#d1ccee 0 10px,#d0d0f2 0 11px,#6060d1 0 12px,#9292e1 0 13px,#7474d6 0 14px,#9696e3 0 15px,#bfbfef 0 16px,#f6f5fc 0 17px,#bdbdee 0 18px,#d8d5f3 0 19px,#d9d4f1 0 20px,#b8b8ed 0 21px,#afafeb 0 22px,#c1c1ef 0 23px,#b7b7ec 0 24px,#8181db 0 25px,#bcbcee 0 26px,#b5b5ec 0 27px,#8a8adf 0 28px,#7474d8 0 29px,#babaed 0 30px,#acacea 0 31px,#c2c2ef 0 32px,#bdbdee 0 33px,#b1b1eb 0 34px,#b9b9ed 0 35px,#9696e3 0 36px,#e5cee2 0 37px,#c3c3f0 0 38px,#bcbcee 0 39px,#8989dd 0 40px,#8080dc 0 41px,#5353cc 0 42px,#6b6bd4 0 43px,#d1d1f3 0 44px,#8888de 0 45px,#a8a8e8 0 46px,#c3c3ef 0 47px,#8080dc 0 48px,#4f4fc9 0 49px,#c2c2ef 0 50px,#dbdbf6 0 51px,#aeabe6 0 52px,#e3e1f6 0 53px,#cecef3 0 54px,#d3d3f4 0 55px,#9494e2 0 56px,#b9b9ed 0 57px,#8d8de0 0 58px,#a2a2e7 0 59px,#d0d0f2 0 60px,#9797e3 0 61px,#b7b7ec 0 62px,#8484de 0 63px,#8383dd 0 64px,#8080dc 0 65px,#f5d6de 0 66px,#e6e6f9 0 67px,#efeffb 0 68px,#eaeafa 0 69px,#cfcff3 0 70px,#c7c7f1 0 71px,#d6c0dd 0 72px,#9191e1 0 73px,#adadea 0 74px,#bbbbee 0 75px,#b1b1eb 0 76px,#acace9 0 77px,#d1d1f3 0 78px,#d2d2f4 0 79px,#9999e4 0 80px,#e2daef 0 81px,#a4a2e5 0 82px,#dedef7 0 83px,#dadaf6 0 84px,#d7d7f5 0 85px,#c2c2ef 0 86px,#8080dc 0 87px,#c5c5f0 0 88px,#b0b0ea 0 89px,#d9d9f5 0 90px,#8989df 0 91px,#9a9ae4 0 92px,#b6b6eb 0 93px,#8787dd 0 94px,#a0a0e6 0 95px,#9292e2 0 96px,#9898e4 0 97px,#8988dd 0 98px,#e2e0f6 0 99px,#b1b1eb 0 100px,#9d9de5 0 102px,#e5e5f9 0 103px,#a5a5e7 0 104px,#a0a0e6 0 105px,#7878da 0 106px,#c1c1ef 0 107px,#9494e1 0 108px,#bbbbee 0 109px,#b3b2eb 0 110px,#d1cdee 0 111px,#b4b4ec 0 112px,#9292e2 0 113px,#8484dd 0 114px,#5d5dcf 0 115px,#a0a0e6 0 116px,#b8b8ec 0 117px,#9c9ce4 0 118px,#6666d3 0 119px,#cacaef 0 120px)"></div><div style="left:229.72px;top:67px;width:12.57px;height:120px;background:linear-gradient(#dfdff7 0 1px,#8888de 0 2px,#8e8ee1 0 3px,#9696e3 0 4px,#a4a4e7 0 5px,#b4b4ec 0 6px,#c2c2ef 0 7px,#a0a0e6 0 8px,#a6a6e8 0 9px,#9d9de5 0 10px,#9898e4 0 11px,#7373d8 0 12px,#b6b3e9 0 13px,#afabe5 0 14px,#b4b4ec 0 15px,#e3e3f8 0 16px,#bcbcee 0 17px,#d7d7f5 0 18px,#c9c9f1 0 19px,#cbcbf2 0 20px,#afafea 0 21px,#a2a2e7 0 22px,#e4e4f8 0 23px,#a7a7e6 0 24px,#9e9ee5 0 25px,#8484dd 0 26px,#a2a2e7 0 27px,#bfbfef 0 28px,#5a5ace 0 29px,#a3a3e4 0 30px,#9f9fe5 0 31px,#8787df 0 32px,#d5d5f4 0 33px,#9494e3 0 34px,#7b7bda 0 35px,#8e8ee0 0 36px,#c3c3f0 0 37px,#a9a9e9 0 38px,#9f9fe6 0 39px,#ccccf1 0 40px,#a4a4e7 0 41px,#9393e2 0 42px,#8e8ee1 0 43px,#7474d8 0 44px,#acace9 0 45px,#9f9fe6 0 46px,#a2a2e6 0 47px,#4e4ec9 0 48px,#5858cd 0 49px,#b1b1eb 0 50px,#d3d3f4 0 51px,#a7a7e8 0 52px,#e4e4f8 0 53px,#b8b8ed 0 54px,#d3d3f4 0 55px,#cdc9ee 0 56px,#bcbced 0 57px,#5858ce 0 58px,#b0b0e8 0 59px,#cacaf2 0 60px,#bebeef 0 61px,#6c6cd5 0 62px,#7373d8 0 63px,#7b7bda 0 64px,#b5b5eb 0 65px,#f9f9fd 0 66px,#cbcbf1 0 67px,#b3b3eb 0 68px,#f6f3f9 0 69px,#aaaae9 0 70px,#d1caec 0 71px,#a6a5e7 0 72px,#9797e3 0 73px,#8787df 0 74px,#9292e1 0 75px,#c8c8f1 0 76px,#7c7cda 0 77px,#c9c9f1 0 78px,#bcbcee 0 79px,#6a6ad4 0 80px,#b4b4eb 0 81px,#c9c9f2 0 82px,#bebeee 0 83px,#7676d8 0 84px,#a3a3e7 0 86px,#b0b0eb 0 87px,#9191e1 0 88px,#c3c3f0 0 89px,#c6c6f1 0 90px,#c8c8f1 0 91px,#9999e3 0 92px,#8282dc 0 93px,#bdbdee 0 94px,#dadaf6 0 95px,#a3a3e7 0 96px,#7575d8 0 97px,#9c9ce5 0 98px,#b2b2eb 0 99px,#c3c3f0 0 100px,#dfdbf3 0 101px,#dbd9f4 0 102px,#c5c5f0 0 103px,#ccccf2 0 104px,#bdbdee 0 105px,#7575d8 0 106px,#8282dd 0 107px,#6161d1 0 108px,#7979da 0 109px,#8686dd 0 110px,#e8e5f7 0 111px,#dfdff7 0 112px,#ccccf2 0 113px,#9c9ce5 0 114px,#7b7bd9 0 115px,#adadea 0 116px,#8989df 0 117px,#6d6dd5 0 118px,#a3a3e7 0 119px,#dadaf5 0 120px)"></div><div style="left:245.00px;top:67px;width:12.57px;height:120px;background:linear-gradient(#5151cb 0 1px,#6464d2 0 2px,#5151cb 0 3px,#4b4bc9 0 4px,#5a5acf 0 5px,#6363d2 0 6px,#7575d8 0 7px,#5d5dcf 0 8px,#4e4eca 0 9px,#5454cc 0 10px,#5252cb 0 11px,#4f4fcb 0 12px,#3b3bc1 0 13px,#3f3fc3 0 14px,#7272d7 0 15px,#6464d2 0 16px,#5d5dd0 0 17px,#4545c6 0 18px,#5757cd 0 19px,#8181dd 0 20px,#7c7cda 0 21px,#5858ce 0 22px,#6b6bd5 0 23px,#5c5ccf 0 24px,#6c6cd5 0 25px,#6868d4 0 26px,#7272d7 0 27px,#7676d8 0 28px,#5e5ed0 0 29px,#4c4cc9 0 30px,#5656cd 0 31px,#4343c5 0 32px,#6565d3 0 33px,#6a6ad5 0 34px,#5f5fd1 0 35px,#4e4eca 0 36px,#8585dd 0 37px,#6f6fd5 0 38px,#5959ce 0 39px,#5555cb 0 40px,#6f6fd6 0 41px,#5555cd 0 42px,#4f4fca 0 43px,#5f5fd1 0 44px,#5555cc 0 45px,#4848c7 0 46px,#4b4bc9 0 47px,#5151cb 0 48px,#4444c6 0 49px,#3939c0 0 50px,#5555cc 0 51px,#6464d2 0 52px,#8383dd 0 53px,#5f5fd1 0 54px,#5656cd 0 55px,#5151ca 0 56px,#7d7ddb 0 57px,#4f4fcb 0 58px,#6767d3 0 59px,#5555cd 0 60px,#6161d1 0 61px,#6767d4 0 62px,#5252cc 0 63px,#6767d4 0 65px,#5353cc 0 66px,#4848c8 0 67px,#5959ce 0 68px,#6060d1 0 69px,#6565d3 0 70px,#6262d2 0 71px,#6666d3 0 72px,#8080dc 0 73px,#7b7bda 0 74px,#5656cd 0 75px,#8484dd 0 76px,#6767d4 0 77px,#6565d3 0 78px,#5858ce 0 79px,#4444c5 0 80px,#5959ce 0 81px,#7e7edb 0 82px,#6969d4 0 83px,#6565d3 0 84px,#6f6fd7 0 85px,#7171d7 0 86px,#6363d2 0 87px,#5c5ccf 0 88px,#6f6fd7 0 89px,#7878d9 0 90px,#5e5ed0 0 91px,#4d4dca 0 92px,#6262d2 0 93px,#6c6cd5 0 94px,#8383dd 0 95px,#6060d1 0 96px,#5151cb 0 97px,#6a6ad4 0 98px,#7676d8 0 99px,#7272d7 0 100px,#7474d8 0 101px,#6161d1 0 102px,#7575d8 0 103px,#6969d4 0 104px,#6767d4 0 105px,#4646c6 0 106px,#5555cd 0 107px,#6e6ed6 0 108px,#6363d2 0 109px,#7272d8 0 110px,#5656cd 0 111px,#6060d1 0 112px,#5555cd 0 113px,#5c5ccf 0 114px,#5353cb 0 115px,#5757cd 0 116px,#4545c6 0 117px,#5050ca 0 118px,#5a5acf 0 119px,#cecef1 0 120px)"></div><div style="left:257.57px;top:67px;width:12.57px;height:120px;background:linear-gradient(#5e5ed0 0 1px,#6767d3 0 2px,#6666d3 0 3px,#6e6ed6 0 4px,#7d7ddb 0 6px,#7f7fdc 0 7px,#6666d3 0 8px,#7e7edc 0 9px,#6b6bd5 0 10px,#7070d7 0 11px,#6565d3 0 12px,#5656cc 0 13px,#5858cd 0 14px,#7070d7 0 15px,#8181dc 0 16px,#6c6cd5 0 17px,#6e6ed6 0 18px,#7d7ddb 0 19px,#7f7fdc 0 20px,#7b7bdb 0 21px,#6d6dd6 0 22px,#7070d7 0 23px,#5a5acf 0 24px,#7070d7 0 25px,#7777d9 0 26px,#6c6cd5 0 27px,#8282dd 0 28px,#6b6bd5 0 29px,#6363d2 0 30px,#6060d1 0 31px,#5757cd 0 32px,#6868d4 0 33px,#6363d2 0 34px,#5b5bcf 0 35px,#6f6fd6 0 36px,#7474d8 0 37px,#a0a0e6 0 38px,#8181dc 0 39px,#5f5fd0 0 40px,#6363d2 0 41px,#5e5ed0 0 42px,#6060d1 0 43px,#6d6dd6 0 44px,#6060d1 0 45px,#6666d3 0 46px,#6f6fd6 0 47px,#7676d9 0 48px,#5d5dd0 0 49px,#4242c5 0 50px,#5151cb 0 51px,#8a8adf 0 52px,#8686de 0 53px,#6a6ad5 0 54px,#5454cc 0 55px,#6363d2 0 56px,#6c6cd5 0 57px,#6262d2 0 58px,#7d7ddb 0 59px,#7474d8 0 60px,#6a6ad5 0 61px,#7474d8 0 62px,#6464d2 0 63px,#6868d4 0 64px,#7979d9 0 65px,#7e7edc 0 66px,#7373d8 0 67px,#8c8ce0 0 68px,#7272d7 0 69px,#7474d8 0 70px,#6969d4 0 71px,#6363d2 0 72px,#8787de 0 73px,#9696e3 0 74px,#7676d9 0 75px,#7a7ada 0 76px,#6262d2 0 77px,#7272d7 0 78px,#5f5fd1 0 80px,#5d5dd0 0 81px,#7070d7 0 82px,#7575d8 0 83px,#5f5fd0 0 84px,#8383dd 0 85px,#8080dc 0 86px,#9191e1 0 87px,#7d7ddb 0 88px,#7777d9 0 89px,#7f7fdc 0 90px,#8d8de1 0 91px,#6666d3 0 92px,#7171d7 0 93px,#7f7fdc 0 94px,#6f6fd6 0 95px,#5f5fd1 0 96px,#7676d9 0 97px,#6d6dd6 0 98px,#6969d4 0 99px,#5c5ccf 0 100px,#6464d3 0 101px,#8888df 0 102px,#7070d6 0 103px,#5a5acf 0 104px,#6363d2 0 105px,#5252cc 0 106px,#5f5fd1 0 107px,#5e5ed0 0 108px,#7f7fdc 0 109px,#7272d8 0 110px,#5959ce 0 111px,#4f4fca 0 112px,#7070d7 0 113px,#6464d3 0 114px,#5454cc 0 115px,#5f5fd0 0 116px,#7676d8 0 117px,#6363d2 0 118px,#7676d9 0 119px,#d8d8f4 0 120px)"></div><div style="left:270.15px;top:67px;width:12.57px;height:120px;background:linear-gradient(#cecef2 0 1px,#dba9c4 0 2px,#f4f4fc 0 3px,#f9e1e5 0 4px,#f6e5ec 0 5px,#d9d9f6 0 6px,#febdbe 0 7px,#f8dadf 0 8px,#ffd0d0 0 9px,#fff1f1 0 10px,#e9e8f9 0 11px,#f3c9d2 0 12px,#f5e4eb 0 13px,#d9c6e2 0 14px,#f5e6ed 0 15px,#ffd1d1 0 16px,#fae1e4 0 17px,#f7f2f8 0 18px,#ffe3e3 0 19px,#e2cce2 0 20px,#faadb1 0 21px,#cbc0e6 0 22px,#eaeafa 0 23px,#ccccf2 0 24px,#b9b5e9 0 25px,#ffd0d0 0 26px,#fdeaeb 0 27px,#ffc3c3 0 28px,#ddd2ec 0 29px,#e1e1f8 0 30px,#e7e7f9 0 31px,#e1dff6 0 32px,#fcfafc 0 33px,#f5eff6 0 34px,#d6d5f4 0 35px,#ffe0e0 0 36px,#ff9292 0 37px,#ff9e9e 0 38px,#fef3f4 0 39px,#fce6e8 0 40px,#f9e7eb 0 41px,#ffd3d3 0 42px,#f7eaf0 0 43px,#d2d2f3 0 44px,#f9edf1 0 45px,#dcc0da 0 46px,#fdeaeb 0 47px,#ffe1e1 0 48px,#b6b2e8 0 49px,#f6f6fd 0 50px,#d3d3f4 0 51px,#dac6e2 0 52px,#fea5a6 0 53px,#d9d9f6 0 54px,#e4e2f6 0 55px,#ffbfbf 0 56px,#ffd0d0 0 57px,#ffe5e5 0 58px,#ffd6d6 0 59px,#f7eef4 0 60px,#dadaf6 0 61px,#dbd7f2 0 62px,#dcd5ef 0 63px,#ffeeee 0 64px,#ffbbbb 0 65px,#e8c0d1 0 66px,#e2e2f8 0 67px,#f5d2da 0 68px,#d4d4f4 0 69px,#fdd9da 0 70px,#ffe9e9 0 71px,#f0eefa 0 72px,#ffe2e2 0 73px,#ffd3d3 0 74px,#c7b1da 0 75px,#f9c2c7 0 76px,#ffcdcd 0 77px,#fbd5d8 0 78px,#dfdff7 0 79px,#a1a1e6 0 80px,#bbbbee 0 81px,#faacb0 0 82px,#ffd5d5 0 83px,#fbf0f3 0 84px,#ffb0b0 0 85px,#f8d7dc 0 86px,#f1dee9 0 87px,#af9fd9 0 88px,#f6dbe2 0 89px,#fdcdcf 0 90px,#ffa6a6 0 91px,#ffe3e3 0 92px,#ffd4d4 0 93px,#ffefef 0 94px,#ff9696 0 95px,#dcc2dc 0 96px,#efe1ed 0 97px,#ffb9b9 0 98px,#fff2f2 0 99px,#faedf1 0 100px,#c7c7f1 0 101px,#f0dae5 0 102px,#ffefef 0 103px,#fcfafc 0 104px,#f1ebf6 0 105px,#b4b1e8 0 106px,#d1d1f3 0 107px,#fae5e9 0 108px,#d7d7f5 0 109px,#f0dbe7 0 110px,#ffc6c6 0 111px,#d7c5e3 0 112px,#e4e4f8 0 113px,#e0e0f7 0 114px,#f3e3ec 0 115px,#f3e2ec 0 116px,#f3b6bf 0 117px,#f6e4eb 0 118px,#fdf2f4 0 119px,#fdfdff 0 120px)"></div><div style="left:282.73px;top:67px;width:12.57px;height:120px;background:linear-gradient(#c5c0eb 0 1px,#fdf8f9 0 2px,#acacea 0 3px,#decbe4 0 4px,#ffd4d4 0 5px,#ffd3d3 0 6px,#ffe8e8 0 7px,#d6ceed 0 8px,#d1d1f4 0 9px,#dadaf6 0 10px,#eeeefb 0 11px,#dedef7 0 12px,#ababe9 0 13px,#ececfa 0 14px,#d4d4f4 0 15px,#f4e0e8 0 16px,#f4f1f9 0 17px,#d4d4f5 0 18px,#eed9e6 0 19px,#ffbaba 0 20px,#a59fe1 0 21px,#adade9 0 22px,#d2d2f4 0 23px,#9797e2 0 24px,#dcdcf6 0 25px,#bcbcee 0 26px,#f3e6ef 0 27px,#ffc2c2 0 28px,#e4d1e4 0 29px,#b6a9dd 0 30px,#dedaf3 0 31px,#c4c4f0 0 32px,#c7c7f1 0 33px,#dbdbf6 0 34px,#c3c1ee 0 35px,#eee6f3 0 36px,#f7e3e9 0 37px,#faeaee 0 38px,#e9e2f2 0 39px,#a488c8 0 40px,#ccbfe5 0 41px,#6c6cd5 0 42px,#bebeed 0 43px,#b6abe0 0 44px,#9690dc 0 45px,#cbc4ea 0 46px,#dfd9f2 0 47px,#e3daef 0 48px,#8c8cdf 0 49px,#dbd0eb 0 50px,#b4ade4 0 51px,#f1dae4 0 52px,#d0c0e3 0 53px,#d7cae8 0 54px,#fae8ec 0 55px,#a5a5e6 0 56px,#c8c8f1 0 57px,#d1d1f4 0 58px,#e4e4f8 0 59px,#d9d9f6 0 60px,#b8b8ed 0 61px,#9b9be5 0 62px,#b3b3ec 0 63px,#b6b6ec 0 64px,#bebeef 0 65px,#ebeaf9 0 66px,#eae2f2 0 67px,#c9c9f1 0 68px,#a0a0e6 0 69px,#fcdbdd 0 70px,#cdc8ed 0 71px,#b7b7ed 0 72px,#e6b7c9 0 73px,#dcd1ea 0 74px,#ababe9 0 75px,#eec9d6 0 76px,#e8e8f9 0 77px,#e3e3f8 0 78px,#c3c3f0 0 79px,#9f9fe5 0 80px,#ddddf7 0 81px,#f1dee8 0 82px,#ccccf2 0 83px,#efedf9 0 84px,#d9d5f2 0 85px,#d3c6e7 0 86px,#ffcbcb 0 87px,#c8b8e0 0 88px,#d9c0dd 0 89px,#ebdcec 0 90px,#e2bed4 0 91px,#babaed 0 92px,#b4b4ec 0 93px,#c2c1ee 0 94px,#e2dff4 0 95px,#e7e7f9 0 96px,#c3c3f0 0 97px,#e1e1f8 0 98px,#eacbdb 0 99px,#dfd3eb 0 100px,#fdfafc 0 101px,#ffe8e8 0 102px,#bebceb 0 103px,#bfbfee 0 104px,#d0d0f3 0 105px,#6565cf 0 106px,#b9b9ed 0 107px,#adadea 0 108px,#e7d6e8 0 109px,#f9e3e8 0 110px,#d8cce9 0 111px,#958dda 0 112px,#b2b2eb 0 113px,#cacaf1 0 114px,#918edb 0 115px,#dedcf5 0 116px,#cbcbf2 0 117px,#e5e5f9 0 118px,#d1d1f3 0 119px,#e3e3f8 0 120px)"></div><div style="left:298.00px;top:67px;width:12.57px;height:120px;background:linear-gradient(#4b4bc8 0 1px,#6767d4 0 2px,#5757ce 0 3px,#5454cd 0 4px,#4f4fca 0 5px,#6464d3 0 6px,#6262d2 0 7px,#3939bf 0 8px,#3d3dc2 0 9px,#6868d3 0 10px,#3333bc 0 11px,#5050cb 0 12px,#5353cb 0 13px,#5959ce 0 14px,#4c4cc9 0 15px,#4949c8 0 16px,#4b4bc9 0 17px,#6060cf 0 18px,#7575d9 0 19px,#5c5ccf 0 20px,#4848c7 0 22px,#5252cb 0 23px,#5858ce 0 24px,#3737bf 0 25px,#5c5ccf 0 26px,#6565d3 0 27px,#5151cb 0 28px,#3e3ec2 0 29px,#6767d4 0 30px,#4040c3 0 31px,#5b5bcf 0 32px,#4848c7 0 33px,#5454cc 0 34px,#6262d2 0 35px,#5252cc 0 36px,#6161d1 0 37px,#5353cc 0 38px,#4343c5 0 39px,#6a6ad4 0 40px,#5555cc 0 41px,#2828b8 0 42px,#3434be 0 43px,#6a6ad4 0 44px,#4a4ac7 0 45px,#4444c5 0 46px,#6262d1 0 47px,#4d4dc9 0 48px,#5151cb 0 49px,#5757ce 0 50px,#5a5acf 0 51px,#6f6fd6 0 52px,#6060d1 0 53px,#5050cb 0 54px,#6565d3 0 55px,#5e5ed0 0 56px,#7171d7 0 57px,#3232bc 0 58px,#4f4fca 0 59px,#5252cb 0 60px,#3535bf 0 61px,#4b4bc9 0 62px,#4242c5 0 63px,#6060d1 0 64px,#4c4cc9 0 65px,#6363d2 0 66px,#5656cd 0 67px,#5252cb 0 68px,#6666d3 0 69px,#4b4bc9 0 70px,#5858ce 0 71px,#4040c4 0 72px,#5d5dce 0 73px,#7979d9 0 74px,#3737c0 0 75px,#4747c7 0 76px,#4b4bc8 0 77px,#4848c7 0 78px,#3a3ac1 0 79px,#4f4fca 0 80px,#5454cc 0 81px,#5757cd 0 82px,#5959ce 0 83px,#6161d1 0 84px,#6363d2 0 85px,#5959ce 0 86px,#4949c8 0 87px,#4b4bc9 0 88px,#7171d6 0 89px,#7979da 0 91px,#6060d1 0 92px,#5454cc 0 93px,#4545c6 0 94px,#6464d3 0 95px,#2f2fbb 0 96px,#4f4fc8 0 97px,#5858ce 0 98px,#6060d1 0 99px,#4f4fcb 0 100px,#6565d3 0 101px,#6f6fd7 0 102px,#7373d8 0 103px,#5656cd 0 104px,#5a5acf 0 105px,#4949c8 0 106px,#5858cd 0 107px,#5050ca 0 108px,#5b5bcf 0 110px,#4747c7 0 111px,#4040c4 0 112px,#7f7fdc 0 113px,#6565d3 0 114px,#3c3cc1 0 115px,#3535be 0 116px,#3e3ec3 0 117px,#7272d7 0 118px,#4a4ac8 0 119px,#cacaef 0 120px)"></div><div style="left:310.57px;top:67px;width:12.57px;height:120px;background:linear-gradient(#7171d7 0 1px,#6666d3 0 2px,#6565d3 0 3px,#5959ce 0 4px,#6969d4 0 5px,#7373d8 0 6px,#4b4bc9 0 7px,#3f3fc3 0 8px,#6d6dd6 0 9px,#6666d3 0 10px,#5f5fd0 0 11px,#5d5dcf 0 12px,#5858ce 0 13px,#5757ce 0 14px,#5151cb 0 15px,#5b5bcf 0 16px,#5959ce 0 17px,#6e6ed6 0 18px,#6161d1 0 19px,#6c6cd5 0 20px,#5353cc 0 21px,#6060d0 0 22px,#6060d1 0 24px,#3e3ec2 0 25px,#6666d3 0 26px,#5c5ccf 0 27px,#6f6fd6 0 28px,#6d6dd6 0 29px,#6c6cd6 0 30px,#4b4bc8 0 31px,#4848c7 0 32px,#4d4dc9 0 33px,#6363d2 0 34px,#4848c7 0 35px,#6262d0 0 36px,#6f6fd7 0 37px,#7171d7 0 38px,#7373d8 0 39px,#6161d1 0 40px,#6262d1 0 41px,#3c3cc2 0 42px,#3434bd 0 43px,#6363d2 0 44px,#4949c8 0 45px,#5f5fd1 0 46px,#6f6fd7 0 47px,#7e7edc 0 48px,#6666d3 0 50px,#5050ca 0 51px,#7474d8 0 52px,#7171d7 0 53px,#5555cd 0 54px,#6d6dd6 0 55px,#5858cd 0 56px,#7b7bdb 0 57px,#5a5acf 0 58px,#6262d2 0 59px,#8181dd 0 60px,#4848c5 0 61px,#6868d4 0 62px,#4c4cc9 0 63px,#5b5bcf 0 64px,#4c4cc9 0 65px,#6e6ed6 0 66px,#7373d8 0 67px,#7171d7 0 68px,#6b6bd5 0 69px,#4545c6 0 70px,#6e6ed6 0 71px,#6262d1 0 72px,#5252cb 0 73px,#5757cd 0 74px,#5f5fd0 0 75px,#4848c7 0 76px,#6161d1 0 77px,#6767d3 0 78px,#5353cc 0 79px,#4c4cc9 0 80px,#7070d6 0 81px,#6060d1 0 82px,#6f6fd7 0 83px,#6060d1 0 84px,#4e4eca 0 85px,#5757ce 0 86px,#6d6dd6 0 87px,#5c5cd0 0 88px,#6f6fd6 0 89px,#7e7edb 0 90px,#8282dd 0 91px,#6464d2 0 92px,#5c5ccf 0 93px,#4242c4 0 94px,#6f6fd6 0 95px,#5656cd 0 96px,#5959ce 0 97px,#6a6ad5 0 98px,#5858ce 0 99px,#6161d1 0 100px,#6969d4 0 101px,#8282dd 0 102px,#6c6cd5 0 103px,#7676d9 0 104px,#7979da 0 105px,#5151cb 0 106px,#6161d1 0 107px,#4949c7 0 108px,#5151cb 0 109px,#6b6bd5 0 110px,#4b4bc9 0 111px,#4a4ac8 0 112px,#6e6ed6 0 113px,#6969d4 0 114px,#6161d1 0 115px,#4e4eca 0 116px,#3a3ac0 0 117px,#4f4fc9 0 118px,#5b5bcf 0 119px,#c7c7ee 0 120px)"></div><div style="left:323.15px;top:67px;width:12.57px;height:120px;background:linear-gradient(#b0b0eb 0 1px,#e5dff2 0 2px,#b6b6ec 0 3px,#e7e6f8 0 4px,#e4cfe3 0 5px,#d5bcdb 0 6px,#e4e4f8 0 7px,#8888de 0 8px,#d9d9f5 0 9px,#b1b1eb 0 10px,#8080dc 0 11px,#c8c3ea 0 12px,#7675d8 0 13px,#9f9fe5 0 14px,#aeaeea 0 15px,#9f9fe6 0 16px,#6c6cd5 0 17px,#8989dd 0 18px,#f8eaef 0 19px,#d3d0f0 0 20px,#acacea 0 21px,#b7b7ed 0 22px,#acacea 0 23px,#9d9de5 0 24px,#a8a8e8 0 25px,#c6bee8 0 26px,#b9b0e3 0 27px,#cdbadf 0 28px,#a1a1e6 0 29px,#f9eff3 0 30px,#b9b6e9 0 31px,#9d9de3 0 32px,#c9c9f1 0 33px,#c6c6f1 0 34px,#9f9fe5 0 35px,#ededfb 0 36px,#d6d6f5 0 37px,#ded0e9 0 38px,#eee8f5 0 39px,#c0bae8 0 40px,#b7b5ea 0 41px,#7878d8 0 42px,#a5a5e6 0 43px,#dad9f5 0 44px,#b6b6ec 0 45px,#cbcbf2 0 46px,#bbbbee 0 47px,#b2b2eb 0 48px,#a5a5e8 0 49px,#a1a1e6 0 50px,#9999e3 0 51px,#e4ddf1 0 52px,#d5d5f4 0 53px,#a3a3e6 0 54px,#a7a7e8 0 55px,#d8d8f6 0 56px,#adadea 0 57px,#a4a4e7 0 58px,#cbcaf1 0 59px,#ccabcf 0 60px,#6e6ed6 0 61px,#b7b7ed 0 62px,#a0a0e6 0 63px,#8383dd 0 64px,#a8a8e7 0 65px,#fbf5f7 0 66px,#cdc6eb 0 67px,#d9d9f6 0 68px,#dcdcf6 0 69px,#afafeb 0 70px,#d8d8f5 0 71px,#dad8f3 0 72px,#9797e3 0 73px,#9a9ae4 0 75px,#9999e4 0 76px,#c8c8f1 0 77px,#decbe3 0 78px,#8a8adf 0 79px,#6363d1 0 80px,#bbbbed 0 81px,#c6c6f1 0 82px,#e8e8fa 0 83px,#acace9 0 84px,#bebeef 0 85px,#d7d7f5 0 86px,#c9c9f1 0 87px,#9595e2 0 88px,#ccccf2 0 89px,#c8c7f0 0 90px,#dad8f4 0 91px,#e7ddf0 0 92px,#cfcff3 0 93px,#b7afe4 0 94px,#ffe5e5 0 95px,#9797e2 0 96px,#a1a1e6 0 97px,#9b9be4 0 98px,#d5d5f4 0 99px,#afafea 0 100px,#f9eef3 0 101px,#e8e2f4 0 102px,#dedaf2 0 103px,#bbbaed 0 104px,#eae5f5 0 105px,#a0a0e6 0 106px,#ababe9 0 107px,#ccccf2 0 108px,#b4b4eb 0 109px,#eaeafa 0 110px,#babaed 0 111px,#afafeb 0 112px,#c9c9f2 0 113px,#dedef7 0 114px,#e0e0f8 0 115px,#8c8cdf 0 116px,#8f8fe1 0 117px,#babaed 0 118px,#a8a8e8 0 119px,#d8d8f4 0 120px)"></div><div style="left:335.73px;top:67px;width:12.57px;height:120px;background:linear-gradient(#ede6f3 0 1px,#d3d3f4 0 2px,#e2e2f8 0 3px,#d2d2f4 0 4px,#e9e9fa 0 5px,#ecdfee 0 6px,#fed7d8 0 7px,#b7b7ec 0 8px,#f1c0cb 0 9px,#f2e2ec 0 10px,#8887dd 0 11px,#cdcdf2 0 12px,#6363d1 0 13px,#cec6ea 0 14px,#807fd9 0 15px,#d4d4f4 0 16px,#c0c0ef 0 17px,#dcbed8 0 18px,#e8e3f4 0 19px,#a1a1e6 0 20px,#b9b9ed 0 21px,#b6b6ed 0 22px,#e7e1f3 0 23px,#9d90d4 0 24px,#b6b6eb 0 25px,#f0ebf6 0 26px,#c4c2ee 0 27px,#c5c5f0 0 28px,#a3a3e7 0 29px,#d7c5e3 0 30px,#9893de 0 31px,#9b9be5 0 32px,#8383dc 0 33px,#ececfa 0 34px,#a3a3e6 0 35px,#c3c3f0 0 36px,#f2dde7 0 37px,#ffd7d7 0 38px,#d5c9e8 0 39px,#b5b5ec 0 40px,#afafea 0 41px,#8181dc 0 42px,#adadea 0 43px,#e1dcf2 0 44px,#dfdcf4 0 45px,#a3a3e7 0 46px,#bcbaec 0 47px,#d8c7e4 0 48px,#b8b8ed 0 49px,#d3d3f4 0 50px,#9b9be4 0 51px,#ebebfa 0 52px,#c2c2ef 0 53px,#aaa8e6 0 54px,#d7d4f2 0 55px,#d4b1d0 0 56px,#d7d7f4 0 57px,#aba8e5 0 58px,#fff4f4 0 59px,#eaeafa 0 60px,#8b8bdf 0 61px,#9f9fe6 0 62px,#8989df 0 63px,#dfdff7 0 64px,#ede9f7 0 65px,#eeeefb 0 66px,#cfcff3 0 67px,#d1d1f4 0 68px,#c6c6f1 0 69px,#aaaae9 0 70px,#dfdff7 0 71px,#adade9 0 72px,#bcbced 0 73px,#e8e8f9 0 74px,#b5b5ec 0 75px,#6d6dd5 0 76px,#a0a0e6 0 77px,#ccccf2 0 78px,#8585de 0 79px,#a3a3e6 0 80px,#a9a9e7 0 81px,#c8c6ef 0 82px,#ffe0e0 0 83px,#e0daf2 0 84px,#cdcdf2 0 85px,#d6d6f5 0 86px,#ead6e6 0 87px,#b8b4e8 0 88px,#d3d3f4 0 89px,#f9f8fd 0 90px,#f8f2f8 0 91px,#b2aee6 0 92px,#f5eff7 0 93px,#9a99e1 0 94px,#f5f0f8 0 95px,#8989de 0 96px,#b0b0eb 0 97px,#ccccf2 0 98px,#e0e0f7 0 99px,#d8d8f6 0 100px,#e2e2f8 0 101px,#fdf9fb 0 102px,#f8f8fd 0 103px,#ebebfa 0 104px,#eed7e4 0 105px,#ded3eb 0 106px,#bbb3e5 0 107px,#cbc7ee 0 108px,#b1b1eb 0 109px,#dfa5bd 0 110px,#a2a2e7 0 111px,#9490de 0 112px,#ffcece 0 113px,#bab1e3 0 114px,#b0b0ea 0 115px,#9191e1 0 116px,#a5a5e7 0 117px,#cacaf1 0 118px,#a6a6e8 0 119px,#ececfa 0 120px)"></div><div style="left:33.00px;top:189px;width:12.57px;height:62px;background:linear-gradient(#6767d4 0 1px,#7777d9 0 2px,#6d6dd6 0 3px,#6b6bd5 0 4px,#6e6ed6 0 5px,#6565d3 0 6px,#5959ce 0 7px,#6d6dd6 0 8px,#7373d8 0 9px,#7777d9 0 10px,#6767d4 0 11px,#6161d1 0 12px,#6767d3 0 13px,#6b6bd5 0 14px,#6262d2 0 15px,#6868d4 0 16px,#6e6ed6 0 17px,#6969d4 0 18px,#7474d8 0 19px,#6464d3 0 20px,#6b6bd5 0 21px,#7a7ada 0 22px,#7c7cdb 0 23px,#5e5ed0 0 24px,#6262d2 0 25px,#7373d8 0 26px,#8282dd 0 27px,#7979da 0 28px,#8484de 0 29px,#6a6ad5 0 30px,#6161d2 0 31px,#6868d4 0 32px,#6d6dd6 0 33px,#6e6ed6 0 34px,#6666d3 0 35px,#5353cc 0 36px,#6e6ed6 0 37px,#6b6bd5 0 38px,#6666d3 0 39px,#7070d7 0 40px,#6c6cd5 0 41px,#6161d1 0 42px,#6767d4 0 43px,#7474d8 0 44px,#6767d3 0 45px,#6b6bd5 0 46px,#6767d4 0 47px,#6262d2 0 48px,#6464d3 0 49px,#6e6ed6 0 50px,#6868d4 0 51px,#7e7edc 0 52px,#6969d4 0 53px,#6060d1 0 54px,#7979da 0 55px,#7171d7 0 56px,#6969d4 0 57px,#5f5fd1 0 58px,#6b6bd5 0 59px,#7474d8 0 60px,#7979da 0 61px,#babaec 0 62px)"></div><div style="left:45.58px;top:189px;width:12.57px;height:62px;background:linear-gradient(#6f6fd7 0 1px,#8282dd 0 2px,#7171d7 0 3px,#7676d9 0 4px,#7272d7 0 5px,#7272d8 0 6px,#7d7ddb 0 7px,#7171d7 0 8px,#7575d9 0 9px,#6969d4 0 10px,#6161d1 0 11px,#7979da 0 13px,#7171d7 0 14px,#5d5dd0 0 15px,#6c6cd6 0 16px,#7676d9 0 17px,#6565d3 0 18px,#7272d8 0 19px,#6565d3 0 20px,#6767d4 0 21px,#7272d8 0 24px,#7d7ddb 0 25px,#7878da 0 26px,#7d7ddb 0 27px,#7979da 0 28px,#7b7bda 0 29px,#6262d2 0 30px,#6767d3 0 31px,#6969d4 0 32px,#6c6cd5 0 33px,#6c6cd6 0 34px,#6c6cd5 0 35px,#5c5ccf 0 36px,#6b6bd5 0 37px,#6565d3 0 38px,#7070d7 0 39px,#6d6dd6 0 40px,#6c6cd5 0 41px,#7e7edb 0 42px,#7b7bdb 0 43px,#8383dd 0 44px,#7777d9 0 45px,#8080dc 0 46px,#7878da 0 47px,#6868d4 0 48px,#6262d2 0 49px,#8686de 0 50px,#7878d9 0 51px,#7171d7 0 52px,#6666d3 0 53px,#6868d4 0 54px,#7777d9 0 55px,#8484de 0 56px,#6d6dd6 0 57px,#6161d1 0 58px,#6f6fd6 0 59px,#7777d9 0 60px,#8686de 0 61px,#aaaae7 0 62px)"></div><div style="left:58.15px;top:189px;width:12.57px;height:62px;background:linear-gradient(#d5d5f5 0 1px,#dcdcf7 0 2px,#c3c3f0 0 3px,#6262d1 0 4px,#7373d7 0 5px,#cbcbf2 0 6px,#a6a6e8 0 7px,#acace9 0 8px,#d7d7f5 0 9px,#7a7ad9 0 10px,#6262d1 0 11px,#8686de 0 12px,#a0a0e6 0 13px,#7c7cdb 0 14px,#9999e4 0 15px,#8585dd 0 16px,#b0b0eb 0 17px,#6666d3 0 18px,#7373d8 0 19px,#8a8ade 0 20px,#b3b3eb 0 21px,#afafea 0 22px,#c8c8f1 0 23px,#6e6ed5 0 24px,#a2a2e7 0 25px,#b3b3ec 0 26px,#9999e4 0 27px,#8c8cdf 0 28px,#dadaf6 0 29px,#7373d7 0 30px,#c9c9f1 0 31px,#5959ce 0 32px,#8a8adf 0 33px,#a4a4e7 0 34px,#8b8be0 0 35px,#7070d5 0 36px,#acacea 0 37px,#b8b8ec 0 38px,#5f5fd0 0 39px,#b7b7ea 0 40px,#a0a0e4 0 41px,#a9a9e9 0 42px,#8787df 0 43px,#c1c1ef 0 44px,#a7a7e8 0 45px,#8d8de0 0 46px,#9090e1 0 47px,#afafea 0 48px,#8e8ee1 0 49px,#bdbdee 0 50px,#a5a5e8 0 51px,#8f8fe0 0 52px,#7171d7 0 53px,#5656cd 0 54px,#a4a4e6 0 55px,#9595e3 0 56px,#a3a3e7 0 57px,#7676d9 0 58px,#8282dd 0 59px,#8e8ee1 0 60px,#9e9ee6 0 61px,#b3b3ea 0 62px)"></div><div style="left:70.72px;top:189px;width:12.57px;height:62px;background:linear-gradient(#ffb7b7 0 1px,#ffa5a5 0 2px,#ffd3d3 0 3px,#ffc9c9 0 4px,#ff9f9f 0 5px,#f8dfe5 0 6px,#ffe3e3 0 7px,#ffd4d4 0 8px,#ffdfdf 0 9px,#ff9393 0 10px,#ece7f5 0 11px,#fcd5d7 0 12px,#ffd2d2 0 13px,#ffcfcf 0 14px,#efe7f3 0 15px,#f7e8ee 0 16px,#ffb0b0 0 17px,#f0cfdb 0 18px,#ffc8c8 0 19px,#ffd6d6 0 20px,#ffe6e6 0 21px,#ffacac 0 22px,#e2bed3 0 23px,#dbdbf6 0 24px,#e7e7f9 0 25px,#fedfe0 0 26px,#eddae8 0 27px,#fea5a5 0 28px,#ffa1a1 0 29px,#fff1f1 0 30px,#faf5f8 0 31px,#dbdbf6 0 32px,#faeaee 0 33px,#ffa5a5 0 34px,#ffc8c8 0 35px,#bfb8e8 0 36px,#fff3f3 0 37px,#ffa8a8 0 38px,#ffdada 0 39px,#ffbaba 0 40px,#fff4f4 0 41px,#ffcfcf 0 42px,#ffc4c4 0 43px,#ff9d9d 0 44px,#fea9aa 0 45px,#d7acca 0 46px,#fdbcbe 0 47px,#cbc1e8 0 48px,#ffd0d0 0 49px,#ff9c9c 0 50px,#ffcfcf 0 51px,#ffcdcd 0 52px,#e7dff2 0 53px,#ffd5d5 0 54px,#ffafaf 0 55px,#ffdddd 0 56px,#ffb6b6 0 57px,#f6d3d9 0 58px,#f9e8ed 0 59px,#ffd8d8 0 60px,#ffc1c1 0 61px,#ffabab 0 62px)"></div><div style="left:86.00px;top:189px;width:12.57px;height:62px;background:linear-gradient(#6363d2 0 1px,#7272d7 0 2px,#6565d3 0 3px,#5d5dd0 0 4px,#7474d8 0 5px,#6363d2 0 6px,#6969d4 0 7px,#6f6fd7 0 8px,#7676d9 0 9px,#6666d3 0 10px,#6161d1 0 11px,#6060d1 0 12px,#6f6fd7 0 13px,#5d5dd0 0 14px,#7171d7 0 15px,#7b7bdb 0 16px,#6d6dd5 0 17px,#5f5fd1 0 18px,#7979da 0 19px,#7777d9 0 20px,#6e6ed6 0 21px,#7373d8 0 22px,#7070d7 0 23px,#4f4fca 0 24px,#6c6cd5 0 25px,#6f6fd6 0 26px,#7c7cdb 0 27px,#7d7ddb 0 28px,#7777d9 0 29px,#6f6fd7 0 30px,#7070d7 0 31px,#6666d3 0 32px,#6969d4 0 33px,#7676d9 0 34px,#6060d1 0 35px,#5a5acf 0 36px,#6a6ad5 0 37px,#6666d3 0 38px,#6060d1 0 39px,#6969d4 0 40px,#7373d8 0 41px,#6f6fd7 0 42px,#7b7bdb 0 43px,#6e6ed6 0 44px,#7575d9 0 45px,#6767d4 0 46px,#5f5fd1 0 47px,#6e6ed6 0 48px,#5c5cd0 0 49px,#5f5fd1 0 50px,#7979da 0 51px,#6b6bd5 0 52px,#6f6fd6 0 53px,#5f5fd1 0 54px,#6666d3 0 55px,#7777d9 0 56px,#7575d9 0 57px,#5e5ed0 0 58px,#6161d2 0 59px,#6c6cd5 0 60px,#7c7cdb 0 61px,#ababe8 0 62px)"></div><div style="left:98.58px;top:189px;width:12.57px;height:62px;background:linear-gradient(#7272d8 0 1px,#7979da 0 2px,#6c6cd5 0 3px,#5d5dd0 0 4px,#6161d1 0 5px,#6464d3 0 6px,#7373d8 0 7px,#6c6cd5 0 8px,#6868d4 0 9px,#7373d8 0 10px,#6b6bd5 0 11px,#7575d9 0 12px,#7272d8 0 13px,#7575d9 0 14px,#6a6ad5 0 15px,#7070d7 0 16px,#7c7cdb 0 17px,#6363d2 0 18px,#6e6ed6 0 19px,#8080dc 0 20px,#6262d2 0 21px,#8181dc 0 22px,#7373d8 0 23px,#6464d3 0 24px,#6a6ad5 0 25px,#6e6ed6 0 26px,#7e7edc 0 27px,#7171d7 0 28px,#8f8fe1 0 29px,#6767d3 0 30px,#6c6cd5 0 32px,#5c5ccf 0 33px,#6c6cd5 0 34px,#6c6cd6 0 35px,#6e6ed6 0 36px,#6565d3 0 37px,#6161d1 0 38px,#6767d4 0 39px,#6969d4 0 40px,#6b6bd5 0 41px,#7272d8 0 42px,#7272d7 0 43px,#7979da 0 44px,#8181dd 0 45px,#7272d7 0 46px,#6b6bd5 0 47px,#7f7fdc 0 48px,#7474d8 0 49px,#7878da 0 51px,#7777d9 0 52px,#7c7cdb 0 53px,#6565d3 0 54px,#6e6ed6 0 55px,#6262d2 0 56px,#6868d4 0 57px,#7070d7 0 58px,#7171d7 0 59px,#7272d8 0 60px,#7f7fdc 0 61px,#9b9be2 0 62px)"></div><div style="left:111.15px;top:189px;width:12.57px;height:62px;background:linear-gradient(#f7eef3 0 1px,#f0eaf6 0 2px,#b8b8ed 0 3px,#b0b0eb 0 4px,#a3a3e7 0 5px,#b5b5ec 0 6px,#aeaeea 0 7px,#c9c8f1 0 8px,#b7b6ea 0 9px,#9d9de5 0 10px,#b0b0eb 0 11px,#9090e1 0 12px,#8080dc 0 13px,#e4e4f8 0 14px,#acace9 0 15px,#b6b6ec 0 16px,#d9d9f6 0 17px,#b3b3eb 0 18px,#ababe9 0 19px,#dec0d8 0 20px,#cdcdf2 0 21px,#e5e5f9 0 22px,#dedef7 0 23px,#9c9ce5 0 24px,#8282dd 0 25px,#d2d2f4 0 26px,#f8e8ed 0 27px,#9d98de 0 28px,#fff7f7 0 29px,#f4f3fb 0 30px,#cacaf2 0 31px,#bcbcee 0 32px,#8686de 0 33px,#afafea 0 34px,#aaaae9 0 35px,#6464d2 0 36px,#b7b7eb 0 37px,#b9b9ed 0 38px,#8989df 0 39px,#d2d2f4 0 40px,#9191e1 0 41px,#dedef7 0 42px,#e8dff0 0 43px,#bfbfef 0 44px,#9d9de5 0 45px,#d7d7f5 0 46px,#d8d8f5 0 47px,#a8a8e8 0 48px,#8484de 0 49px,#c7c7f1 0 50px,#d1d1f4 0 51px,#acace9 0 52px,#9393e2 0 53px,#9c9ce5 0 54px,#c5c4ef 0 55px,#f2ecf6 0 56px,#9696e2 0 57px,#9595e3 0 58px,#a6a6e8 0 59px,#c6bfe9 0 60px,#fbeef1 0 61px,#dadaf6 0 62px)"></div><div style="left:123.72px;top:189px;width:12.57px;height:62px;background:linear-gradient(#ff8585 0 1px,#ffa9a9 0 2px,#ffadad 0 3px,#ffd9d9 0 4px,#ffd4d4 0 5px,#f9e0e5 0 6px,#f3d8e1 0 7px,#ffc1c1 0 8px,#ffbcbc 0 9px,#fbf7fa 0 10px,#fff2f2 0 11px,#ffe2e2 0 12px,#ffcece 0 13px,#ffbcbc 0 14px,#ff9d9d 0 15px,#ffafaf 0 16px,#ffb9b9 0 17px,#f8d1d6 0 18px,#f5ced6 0 19px,#f8b2b7 0 20px,#f4b6be 0 21px,#ff8e8e 0 22px,#ff7a7a 0 23px,#ffb4b4 0 24px,#ff9999 0 25px,#ffa8a8 0 26px,#ff8e8e 0 27px,#ffb4b4 0 28px,#ffa7a7 0 29px,#ff9d9d 0 30px,#ffb6b6 0 31px,#ffd6d6 0 32px,#eedae7 0 33px,#fec9c9 0 34px,#ffe4e4 0 35px,#ecd8e6 0 36px,#eac9d9 0 37px,#fff1f1 0 38px,#ffd0d0 0 39px,#ffb4b4 0 40px,#ffb0b0 0 41px,#ffb5b5 0 42px,#ffb1b1 0 43px,#ffb9b9 0 44px,#ffaaaa 0 45px,#ffa0a0 0 46px,#ffeaea 0 47px,#f8eaef 0 48px,#ffc4c4 0 49px,#ffa2a2 0 50px,#ffc8c8 0 51px,#ffd8d8 0 52px,#ffb8b8 0 53px,#f8e8ed 0 54px,#fac2c6 0 55px,#ffc2c2 0 56px,#fec7c8 0 57px,#f3f3fc 0 58px,#fef9fa 0 59px,#fce6e8 0 60px,#ffacac 0 61px,#ffc2c2 0 62px)"></div><div style="left:139.00px;top:189px;width:12.57px;height:62px;background:linear-gradient(#7d7ddb 0 1px,#7575d9 0 2px,#5f5fd0 0 3px,#6b6bd5 0 4px,#7171d7 0 5px,#7a7ada 0 6px,#6a6ad5 0 7px,#7373d8 0 8px,#6e6ed6 0 9px,#6767d4 0 10px,#6969d4 0 11px,#5e5ed0 0 12px,#6a6ad4 0 13px,#7878d9 0 14px,#6868d4 0 16px,#7878da 0 17px,#6e6ed6 0 18px,#7171d7 0 19px,#7a7ada 0 20px,#7676d9 0 21px,#7575d9 0 22px,#7171d7 0 23px,#6c6cd5 0 24px,#6363d2 0 25px,#6e6ed6 0 26px,#8484dd 0 27px,#7d7ddb 0 28px,#8989df 0 29px,#6e6ed6 0 30px,#6d6dd6 0 31px,#6f6fd7 0 32px,#7878da 0 33px,#7474d8 0 34px,#6363d2 0 35px,#4c4cc9 0 36px,#6969d4 0 37px,#6e6ed6 0 38px,#7070d7 0 39px,#7979da 0 40px,#6666d3 0 41px,#7b7bdb 0 42px,#8282dd 0 43px,#7474d8 0 44px,#7777d9 0 46px,#7272d7 0 47px,#6a6ad5 0 48px,#5d5dd0 0 49px,#8787de 0 50px,#7676d9 0 51px,#7777d9 0 52px,#5454cc 0 53px,#5e5ed0 0 54px,#6363d2 0 55px,#7e7edc 0 56px,#7c7cdb 0 57px,#6e6ed6 0 58px,#6b6bd5 0 59px,#6f6fd6 0 60px,#7676d9 0 61px,#afafe9 0 62px)"></div><div style="left:151.57px;top:189px;width:12.57px;height:62px;background:linear-gradient(#7070d7 0 1px,#6262d2 0 2px,#6464d3 0 3px,#6969d4 0 4px,#6c6cd5 0 5px,#7777d9 0 6px,#6464d2 0 7px,#5f5fd0 0 8px,#7878da 0 9px,#7171d7 0 10px,#7373d8 0 11px,#7c7cdb 0 12px,#7373d8 0 13px,#7878da 0 14px,#6161d2 0 15px,#6e6ed6 0 16px,#8080dc 0 17px,#5959ce 0 18px,#6262d2 0 19px,#7171d7 0 20px,#7878da 0 21px,#6c6cd6 0 22px,#7979da 0 23px,#6161d1 0 24px,#5e5ed0 0 25px,#7676d9 0 26px,#7c7cdb 0 27px,#7878d9 0 28px,#6e6ed6 0 29px,#8a8adf 0 30px,#6868d4 0 31px,#6565d3 0 32px,#6f6fd6 0 34px,#7676d9 0 35px,#6e6ed6 0 36px,#6f6fd6 0 38px,#6d6dd6 0 39px,#6363d2 0 40px,#6b6bd5 0 41px,#6e6ed6 0 42px,#7676d9 0 43px,#7070d7 0 44px,#6a6ad5 0 45px,#7b7bda 0 46px,#8080dc 0 47px,#6363d2 0 49px,#8383dd 0 50px,#6d6dd6 0 51px,#7272d7 0 52px,#5f5fd1 0 53px,#6868d4 0 54px,#6262d2 0 55px,#6464d3 0 56px,#6565d3 0 57px,#7373d8 0 58px,#6767d4 0 59px,#7b7bdb 0 60px,#7979da 0 61px,#afafe9 0 62px)"></div><div style="left:164.15px;top:189px;width:12.57px;height:62px;background:linear-gradient(#9e9ee5 0 1px,#7f7fdc 0 2px,#7a7ada 0 3px,#a1a1e6 0 4px,#c2c2f0 0 5px,#babaed 0 6px,#8e8ee1 0 7px,#8484dd 0 8px,#9e9ee5 0 9px,#a3a3e7 0 10px,#9595e3 0 11px,#afafea 0 12px,#9292e2 0 13px,#7b7bdb 0 14px,#8e8ee0 0 15px,#babaed 0 16px,#b3b3eb 0 17px,#6b6bd4 0 18px,#a4a4e7 0 19px,#e0e0f7 0 20px,#a3a3e7 0 21px,#a4a4e7 0 22px,#9d9de4 0 23px,#7878d9 0 24px,#9393e0 0 25px,#9c9ce5 0 26px,#a6a6e8 0 27px,#9393e1 0 28px,#9595e1 0 29px,#d6d6f5 0 30px,#9a9ae4 0 31px,#8080dc 0 32px,#a2a2e7 0 33px,#adadea 0 34px,#b5b5ec 0 35px,#7171d7 0 36px,#a9a9e9 0 37px,#9c9ce5 0 38px,#b9b9ed 0 39px,#a4a4e7 0 41px,#c0c0ef 0 42px,#c8c8f1 0 43px,#9292e2 0 44px,#9d9de5 0 45px,#a7a7e8 0 46px,#9191e1 0 47px,#dadaf6 0 48px,#8e8ee0 0 49px,#d2d2f4 0 50px,#b5b5ec 0 51px,#b3b3ec 0 52px,#9d9de5 0 53px,#b5b5ec 0 54px,#9b9be5 0 55px,#9797e3 0 56px,#9191e2 0 57px,#8585de 0 58px,#8b8be0 0 59px,#a5a5e8 0 60px,#9393e2 0 61px,#cacaf1 0 62px)"></div><div style="left:176.72px;top:189px;width:12.57px;height:62px;background:linear-gradient(#ffa1a1 0 1px,#ffd1d1 0 2px,#ffd3d3 0 3px,#ffd4d4 0 4px,#ff9595 0 5px,#ff8b8b 0 6px,#ffc3c3 0 7px,#ff9999 0 8px,#ff9393 0 9px,#ffc5c5 0 10px,#ffc7c7 0 11px,#ff8989 0 12px,#ff8585 0 13px,#ff9b9b 0 14px,#ffb4b4 0 15px,#ffb1b1 0 16px,#ff5656 0 17px,#ffbfbf 0 18px,#ff8585 0 19px,#ff8d8d 0 20px,#ff5b5b 0 21px,#ff6e6e 0 22px,#ffc3c3 0 23px,#ffaaaa 0 24px,#ffc6c6 0 25px,#fbd1d4 0 26px,#ff6161 0 27px,#ffa9a9 0 28px,#ff9999 0 29px,#ffa3a3 0 30px,#ff9f9f 0 31px,#ffa4a4 0 32px,#ffb2b2 0 33px,#ffadad 0 34px,#ffd8d8 0 35px,#feb5b6 0 36px,#feb0b1 0 37px,#ff7a7a 0 38px,#ff8f8f 0 39px,#ff9999 0 40px,#ffc3c3 0 41px,#ff5555 0 42px,#ff6d6d 0 43px,#ff9898 0 44px,#ff8a8a 0 45px,#ffa5a5 0 46px,#ffb9b9 0 47px,#ff9797 0 48px,#ff9191 0 49px,#ff7878 0 50px,#ff9999 0 51px,#ff7272 0 52px,#ffdcdc 0 53px,#eebcc9 0 54px,#f1c5cf 0 55px,#ffc4c4 0 56px,#ffbfbf 0 57px,#f8ecf1 0 58px,#fac6ca 0 59px,#ff6565 0 60px,#ff5b5b 0 61px,#ffaeae 0 62px)"></div><div style="left:192.00px;top:189px;width:12.57px;height:62px;background:linear-gradient(#7d7ddb 0 1px,#7c7cdb 0 2px,#7575d9 0 3px,#6464d3 0 4px,#6666d3 0 5px,#9090e1 0 6px,#7474d8 0 7px,#6c6cd5 0 8px,#8f8fe1 0 9px,#7676d9 0 10px,#6a6ad4 0 11px,#7272d8 0 12px,#6c6cd5 0 13px,#6262d2 0 14px,#6161d1 0 15px,#5555cd 0 16px,#7c7cdb 0 17px,#5f5fd0 0 18px,#6262d2 0 19px,#7979da 0 20px,#8686de 0 21px,#7373d8 0 22px,#6868d4 0 23px,#7878d9 0 24px,#8282dd 0 25px,#7171d7 0 26px,#8585de 0 27px,#9999e4 0 28px,#9c9ce5 0 29px,#6161d1 0 30px,#7d7ddb 0 31px,#8585de 0 32px,#7474d8 0 33px,#6d6dd6 0 34px,#6969d4 0 35px,#5b5bcf 0 36px,#7171d7 0 37px,#5b5bcf 0 38px,#7373d8 0 39px,#7979da 0 40px,#6666d3 0 41px,#8787df 0 42px,#7d7ddb 0 43px,#7272d7 0 44px,#5151cb 0 45px,#7676d8 0 46px,#6a6ad4 0 47px,#7171d7 0 48px,#6868d4 0 49px,#6a6ad5 0 50px,#7c7cdb 0 51px,#8080dc 0 52px,#6969d4 0 53px,#7575d8 0 54px,#7777d9 0 55px,#6060d1 0 56px,#6767d4 0 57px,#5858ce 0 58px,#7171d7 0 59px,#6c6cd5 0 60px,#7272d8 0 61px,#bbbbed 0 62px)"></div><div style="left:204.57px;top:189px;width:12.57px;height:62px;background:linear-gradient(#7070d7 0 1px,#7474d8 0 2px,#7979da 0 3px,#7272d8 0 4px,#7070d7 0 5px,#8e8ee1 0 6px,#7070d7 0 7px,#6262d1 0 8px,#9595e3 0 9px,#7d7ddb 0 10px,#5b5bcf 0 11px,#7b7bdb 0 12px,#6d6dd6 0 13px,#8282dd 0 14px,#6565d2 0 15px,#5b5bcf 0 16px,#6c6cd6 0 17px,#6565d3 0 18px,#6d6dd6 0 19px,#7b7bda 0 20px,#7373d7 0 21px,#7272d8 0 22px,#6060d1 0 23px,#6767d4 0 24px,#7777d9 0 25px,#8585de 0 26px,#8282dd 0 27px,#7e7edc 0 28px,#9696e3 0 29px,#6969d4 0 30px,#7777d9 0 31px,#7474d8 0 32px,#7171d7 0 33px,#7d7ddb 0 34px,#6d6dd6 0 35px,#5c5ccf 0 36px,#6e6ed6 0 37px,#6c6cd5 0 38px,#8e8ee1 0 39px,#7a7ada 0 40px,#5c5cd0 0 41px,#8989df 0 42px,#8282dd 0 43px,#7474d8 0 44px,#8888df 0 45px,#8484de 0 46px,#7171d7 0 48px,#7272d7 0 49px,#6363d2 0 50px,#6767d4 0 51px,#7171d7 0 53px,#7f7fdc 0 54px,#8080dc 0 55px,#6464d1 0 56px,#7b7bda 0 57px,#7171d7 0 58px,#7a7ada 0 59px,#9494e3 0 60px,#7171d7 0 61px,#9b9be2 0 62px)"></div><div style="left:217.15px;top:189px;width:12.57px;height:62px;background:linear-gradient(#9a9ae4 0 1px,#a3a3e7 0 2px,#7171d7 0 3px,#7676d9 0 4px,#7c7cdb 0 5px,#8585de 0 7px,#6868d4 0 8px,#7676d9 0 9px,#7e7edb 0 10px,#5e5ed0 0 11px,#7171d7 0 12px,#7676d9 0 13px,#8686de 0 14px,#7d7ddb 0 15px,#8282dc 0 16px,#6969d4 0 17px,#6f6fd7 0 18px,#6b6bd5 0 19px,#8c8ce0 0 20px,#7f7fdc 0 21px,#9393e2 0 22px,#9595e3 0 23px,#8787de 0 24px,#8383dd 0 26px,#9595e3 0 27px,#7c7cdb 0 28px,#b6b6ec 0 29px,#4e4ec8 0 30px,#7676d9 0 31px,#7272d7 0 32px,#8888de 0 33px,#8484de 0 34px,#6d6dd6 0 35px,#4747c7 0 36px,#6d6dd5 0 37px,#9393e2 0 38px,#9e9ee5 0 39px,#7878d9 0 40px,#6a6ad5 0 41px,#9999e3 0 42px,#9f9fe5 0 43px,#8585de 0 44px,#7171d7 0 45px,#8d8de0 0 46px,#9191e1 0 47px,#7777d9 0 48px,#6161d1 0 49px,#8181dd 0 50px,#8888df 0 52px,#8080dc 0 53px,#7d7ddb 0 54px,#8686de 0 55px,#6464d2 0 56px,#7676d9 0 57px,#5e5ed0 0 58px,#5d5dcf 0 59px,#9494e2 0 60px,#8f8fe1 0 61px,#c4c4f0 0 62px)"></div><div style="left:229.72px;top:189px;width:12.57px;height:62px;background:linear-gradient(#8d8de0 0 1px,#b6b6ec 0 2px,#9393e2 0 3px,#9c9ce5 0 4px,#8888de 0 5px,#b8b8ed 0 6px,#6666d2 0 7px,#6969d4 0 8px,#9999e4 0 9px,#9d9de4 0 10px,#9191df 0 11px,#9797e3 0 12px,#7474d8 0 13px,#adadea 0 14px,#7878d9 0 15px,#9595e2 0 16px,#9696e3 0 17px,#7d7ddb 0 18px,#9f9fe6 0 19px,#9494e3 0 20px,#babaed 0 22px,#9898e4 0 23px,#b9b9ed 0 24px,#acacea 0 25px,#9090e1 0 26px,#9e9ee5 0 27px,#9d9de5 0 28px,#b5b5ec 0 29px,#7a7ada 0 30px,#a1a1e6 0 31px,#8888df 0 33px,#9f9fe6 0 34px,#9b9be5 0 35px,#7171d5 0 36px,#5d5dce 0 37px,#9f9fe6 0 38px,#9c9ce5 0 40px,#a8a8e8 0 41px,#9f9fe6 0 42px,#7777d9 0 43px,#9292e2 0 44px,#9898e4 0 45px,#dadaf6 0 46px,#b7b7ed 0 47px,#9d9de5 0 48px,#9898e4 0 49px,#7d7ddb 0 50px,#8a8adf 0 51px,#a4a4e7 0 52px,#7171d7 0 53px,#8e8ee0 0 54px,#c7c7f1 0 55px,#7878d9 0 56px,#8787de 0 57px,#7979da 0 58px,#9292e2 0 59px,#c9c9f2 0 60px,#a5a5e7 0 61px,#9292de 0 62px)"></div><div style="left:245.00px;top:189px;width:12.57px;height:62px;background:linear-gradient(#7272d7 0 1px,#7f7fdc 0 2px,#6c6cd6 0 3px,#6767d4 0 5px,#6d6dd6 0 6px,#6363d2 0 7px,#7171d7 0 8px,#6d6dd6 0 9px,#6262d2 0 10px,#5454cd 0 11px,#7373d8 0 12px,#6363d2 0 13px,#6f6fd7 0 14px,#7272d8 0 15px,#7e7edb 0 16px,#7a7ada 0 17px,#5555cd 0 18px,#5252cc 0 19px,#8080dc 0 20px,#7878da 0 21px,#7575d9 0 22px,#5c5ccf 0 23px,#6363d2 0 24px,#7575d9 0 25px,#7d7ddb 0 26px,#5858ce 0 27px,#6868d4 0 28px,#6969d4 0 29px,#6565d3 0 30px,#5f5fd1 0 31px,#7e7edc 0 32px,#6a6ad5 0 33px,#7b7bdb 0 34px,#6f6fd6 0 35px,#5656cd 0 36px,#5959ce 0 37px,#7b7bda 0 38px,#6f6fd6 0 39px,#7474d8 0 40px,#6969d4 0 41px,#7070d7 0 42px,#7777d9 0 43px,#7575d9 0 44px,#6767d3 0 45px,#7676d9 0 46px,#7171d7 0 47px,#6565d3 0 48px,#7373d8 0 49px,#8484dd 0 50px,#6565d3 0 51px,#6464d3 0 53px,#6b6bd5 0 54px,#6e6ed6 0 55px,#6767d4 0 56px,#5e5ed0 0 57px,#6868d4 0 58px,#6161d1 0 59px,#6b6bd5 0 60px,#6c6cd5 0 61px,#a0a0e4 0 62px)"></div><div style="left:257.57px;top:189px;width:12.57px;height:62px;background:linear-gradient(#7676d9 0 1px,#7575d9 0 2px,#6e6ed6 0 3px,#4f4fca 0 4px,#7070d6 0 5px,#7676d9 0 6px,#7c7cdb 0 7px,#5151cb 0 8px,#6b6bd5 0 9px,#6464d3 0 10px,#5a5acf 0 11px,#7575d8 0 12px,#7474d8 0 13px,#6464d3 0 14px,#7070d7 0 15px,#6969d4 0 16px,#6363d2 0 17px,#6565d3 0 18px,#5c5cd0 0 19px,#8484dd 0 20px,#7272d7 0 21px,#7272d8 0 22px,#7e7edc 0 23px,#6c6cd5 0 24px,#7676d9 0 25px,#6969d4 0 26px,#6060d1 0 27px,#7b7bdb 0 28px,#7777d9 0 29px,#5c5cd0 0 30px,#5a5acf 0 31px,#6868d4 0 32px,#6767d4 0 33px,#6969d4 0 34px,#7878da 0 35px,#4242c5 0 36px,#5959ce 0 37px,#5f5fd1 0 38px,#7474d8 0 39px,#7f7fdc 0 40px,#9a9ae4 0 41px,#8b8be0 0 42px,#7070d6 0 43px,#8383dd 0 44px,#7373d8 0 45px,#7e7edb 0 46px,#5858ce 0 47px,#6363d2 0 49px,#6d6dd6 0 50px,#6363d2 0 51px,#7272d8 0 52px,#5c5ccf 0 53px,#7575d9 0 54px,#5d5dd0 0 55px,#4e4eca 0 56px,#6161d2 0 57px,#5353cb 0 58px,#5959ce 0 59px,#6060d1 0 60px,#6e6ed6 0 61px,#acace8 0 62px)"></div><div style="left:270.15px;top:189px;width:12.57px;height:62px;background:linear-gradient(#7f7fdc 0 1px,#9898e3 0 2px,#7f7fdc 0 3px,#5e5ed0 0 4px,#7474d8 0 5px,#8585de 0 6px,#5959cd 0 7px,#6c6cd5 0 8px,#7777d9 0 9px,#7373d7 0 10px,#9292e2 0 11px,#8383dd 0 12px,#7777d9 0 13px,#8989df 0 14px,#6666d3 0 15px,#7f7fdc 0 16px,#6666d3 0 17px,#6b6bd4 0 18px,#5f5fd0 0 19px,#9090e1 0 20px,#6b6bd5 0 21px,#8181dd 0 22px,#8888df 0 23px,#7a7ada 0 24px,#7f7fdc 0 25px,#8383dd 0 26px,#7070d7 0 27px,#8282dc 0 28px,#7b7bda 0 29px,#9494e3 0 30px,#8b8be0 0 31px,#7c7cdb 0 32px,#5a5ace 0 33px,#7373d8 0 34px,#7878d9 0 35px,#3333bd 0 36px,#5050ca 0 37px,#8888df 0 38px,#7878d9 0 39px,#9f9fe6 0 40px,#7f7fdc 0 41px,#9494e3 0 42px,#8c8ce0 0 43px,#9292e2 0 44px,#9b9be5 0 45px,#7c7cdb 0 46px,#8080dc 0 47px,#5f5fd1 0 48px,#5858ce 0 49px,#6c6cd5 0 50px,#8787de 0 51px,#8686de 0 52px,#5d5dd0 0 53px,#8a8adf 0 54px,#7676d9 0 55px,#6262d1 0 56px,#8080dc 0 57px,#7d7ddb 0 58px,#7171d7 0 59px,#8282dd 0 60px,#8585de 0 61px,#9a9ae1 0 62px)"></div><div style="left:282.73px;top:189px;width:12.57px;height:62px;background:linear-gradient(#afafeb 0 1px,#a2a2e7 0 2px,#9e9ee5 0 3px,#8181db 0 4px,#bcbcee 0 5px,#b2b2eb 0 6px,#8181dd 0 7px,#8c8ce0 0 8px,#9b9be5 0 9px,#8080dc 0 10px,#8585de 0 11px,#8787de 0 12px,#9090e1 0 14px,#7f7fdc 0 15px,#9191e2 0 16px,#7a7ada 0 17px,#7b7bdb 0 18px,#6e6ed6 0 19px,#ababe9 0 20px,#a6a6e8 0 21px,#b8b8ed 0 22px,#9e9ee5 0 23px,#7d7ddb 0 24px,#9e9ee5 0 25px,#9494e3 0 26px,#9f9fe6 0 27px,#d4d4f4 0 28px,#b8b8ed 0 29px,#9e9ee6 0 30px,#7171d6 0 31px,#8a8adf 0 32px,#8e8ee1 0 33px,#9999e4 0 34px,#a7a7e8 0 35px,#6f6fd6 0 36px,#7878d9 0 37px,#9b9be5 0 38px,#8080dc 0 39px,#a2a2e7 0 40px,#a8a8e8 0 41px,#b7b7ed 0 42px,#aeaeea 0 43px,#8c8ce0 0 44px,#c3c3ef 0 45px,#a6a6e7 0 46px,#8080da 0 47px,#9191e1 0 48px,#a7a7e8 0 49px,#ddddf7 0 50px,#9f9fe6 0 51px,#8585de 0 52px,#6969d4 0 53px,#9696e3 0 54px,#8181dc 0 55px,#9d9de5 0 56px,#6969d3 0 57px,#6464d2 0 58px,#7d7ddb 0 59px,#a9a9e8 0 60px,#b5b5ec 0 61px,#d7d7f5 0 62px)"></div><div style="left:298.00px;top:189px;width:12.57px;height:62px;background:linear-gradient(#8282dd 0 1px,#8888df 0 2px,#5f5fd0 0 3px,#5d5dd0 0 4px,#6969d4 0 5px,#6a6ad5 0 6px,#6e6ed6 0 7px,#7171d7 0 8px,#7e7edb 0 9px,#6666d3 0 10px,#5050cb 0 11px,#7070d7 0 12px,#6b6bd5 0 13px,#7171d7 0 14px,#7575d9 0 15px,#7d7ddb 0 16px,#7171d7 0 17px,#7777d9 0 18px,#7070d7 0 19px,#8a8adf 0 20px,#6c6cd6 0 21px,#7d7ddb 0 22px,#6767d4 0 23px,#6c6cd5 0 24px,#7070d7 0 25px,#7d7ddb 0 26px,#9191e2 0 27px,#7373d8 0 28px,#6b6bd5 0 29px,#7979da 0 30px,#7d7ddb 0 31px,#7474d8 0 32px,#7d7ddb 0 33px,#7676d9 0 34px,#7272d8 0 35px,#6f6fd6 0 36px,#7676d9 0 37px,#7c7cdb 0 38px,#8686de 0 39px,#8b8be0 0 40px,#8989df 0 41px,#6b6bd5 0 42px,#8b8be0 0 43px,#8383dd 0 44px,#7878da 0 45px,#7a7ada 0 46px,#6b6bd5 0 47px,#5b5bcf 0 48px,#7b7bda 0 49px,#8686de 0 50px,#7979da 0 51px,#6e6ed6 0 52px,#6363d2 0 53px,#6c6cd5 0 54px,#7070d7 0 55px,#7474d8 0 56px,#5f5fd1 0 57px,#5656cd 0 58px,#7b7bda 0 59px,#7c7cda 0 60px,#7c7cdb 0 61px,#b3b3ea 0 62px)"></div><div style="left:310.57px;top:189px;width:12.57px;height:62px;background:linear-gradient(#8e8ee1 0 1px,#8c8ce0 0 2px,#7d7ddb 0 3px,#5050ca 0 4px,#7c7cda 0 5px,#9898e4 0 6px,#7b7bda 0 7px,#7e7edb 0 8px,#7979da 0 9px,#6d6dd6 0 10px,#6c6cd5 0 11px,#8282dd 0 12px,#8181dc 0 13px,#6767d3 0 14px,#5b5bce 0 15px,#7272d7 0 16px,#7171d7 0 17px,#7373d8 0 18px,#6767d4 0 19px,#8484de 0 20px,#7f7fdc 0 21px,#7878da 0 22px,#7070d7 0 23px,#6666d3 0 24px,#6262d2 0 25px,#7575d9 0 26px,#8989df 0 27px,#6d6dd6 0 29px,#7070d7 0 30px,#6565d3 0 31px,#6767d3 0 32px,#7979da 0 33px,#7474d8 0 34px,#6363d2 0 35px,#5252cc 0 36px,#6767d3 0 37px,#7373d8 0 38px,#7b7bdb 0 40px,#7878d9 0 41px,#6767d4 0 42px,#7d7ddb 0 43px,#8080dc 0 44px,#7575d8 0 45px,#8888de 0 46px,#6c6cd5 0 47px,#7b7bdb 0 48px,#8282dd 0 49px,#8686de 0 50px,#6565d3 0 51px,#7979da 0 52px,#5959ce 0 53px,#7070d7 0 54px,#7474d8 0 55px,#7c7cdb 0 56px,#6161d1 0 57px,#5757ce 0 58px,#6969d4 0 59px,#7e7edb 0 60px,#8383dd 0 61px,#babaed 0 62px)"></div><div style="left:323.15px;top:189px;width:12.57px;height:62px;background:linear-gradient(#6a6ad5 0 1px,#a2a2e7 0 2px,#6464d0 0 3px,#8181dc 0 4px,#8888df 0 5px,#7777d9 0 6px,#8b8be0 0 7px,#8989df 0 8px,#9494e3 0 9px,#a0a0e6 0 10px,#6e6ed6 0 11px,#7e7edb 0 12px,#7070d7 0 13px,#7474d8 0 14px,#8282dd 0 15px,#8f8fe1 0 16px,#8181dc 0 17px,#7474d8 0 18px,#a5a5e7 0 19px,#c6c6f0 0 20px,#9595e3 0 21px,#6d6dd6 0 22px,#a4a4e7 0 23px,#7a7ada 0 24px,#9494e3 0 25px,#8686de 0 26px,#9999e4 0 27px,#9b9be4 0 28px,#9f9fe6 0 29px,#a1a1e6 0 31px,#7f7fdc 0 32px,#7b7bdb 0 33px,#7a7ada 0 34px,#7979da 0 35px,#6969d4 0 36px,#6565d3 0 37px,#8989df 0 38px,#9696e3 0 39px,#9d9de5 0 40px,#9797e4 0 41px,#8080dc 0 42px,#a6a6e8 0 43px,#8f8fe1 0 44px,#8585de 0 45px,#a2a2e7 0 46px,#8383dd 0 47px,#6363d2 0 48px,#7979d9 0 49px,#c6c6f1 0 50px,#8c8ce0 0 51px,#8787de 0 52px,#7979d9 0 53px,#9898e3 0 54px,#7f7fdc 0 55px,#8686de 0 56px,#8989df 0 57px,#7272d7 0 58px,#b0b0eb 0 59px,#8a8adf 0 60px,#a1a1e6 0 61px,#c1c1ef 0 62px)"></div><div style="left:335.73px;top:189px;width:12.57px;height:62px;background:linear-gradient(#8f8fe1 0 1px,#bfbfee 0 2px,#9292e2 0 3px,#9e9ee6 0 4px,#c7c7f1 0 5px,#aeaeea 0 6px,#a3a3e6 0 7px,#b1b1eb 0 8px,#bebeee 0 9px,#9e9ee5 0 10px,#b2b2eb 0 11px,#d3d3f4 0 12px,#aeaeea 0 13px,#8585dd 0 14px,#c9c9f2 0 15px,#8888dd 0 16px,#b3b3eb 0 17px,#9c9ce5 0 18px,#b2b2eb 0 19px,#d5d5f4 0 20px,#c1c1ef 0 21px,#a2a2e7 0 22px,#acace9 0 23px,#ababe9 0 24px,#a5a5e8 0 25px,#d7d7f5 0 26px,#dfdff7 0 27px,#b6b6ec 0 28px,#9191e1 0 29px,#a0a0e6 0 30px,#9696e3 0 31px,#b2b0e8 0 32px,#c8c6ee 0 33px,#cacaf2 0 34px,#b2b2eb 0 35px,#7e7edb 0 36px,#c0c0ef 0 37px,#dedef7 0 38px,#bdbdee 0 39px,#b4b4ec 0 40px,#b6b6ec 0 41px,#ababe9 0 42px,#a6a6e8 0 43px,#a7a7e7 0 44px,#d4d4f4 0 45px,#bfbfee 0 46px,#8585de 0 47px,#7a7ada 0 48px,#9494e2 0 49px,#e5e5f9 0 50px,#b2b2eb 0 51px,#a8a8e7 0 52px,#6b6bd5 0 53px,#8989df 0 54px,#6b6bd5 0 55px,#9595e3 0 56px,#7373d8 0 57px,#7070d7 0 58px,#afafea 0 59px,#b4b4eb 0 60px,#b8b8ed 0 61px,#ededfb 0 62px)"></div></div></body></html>
